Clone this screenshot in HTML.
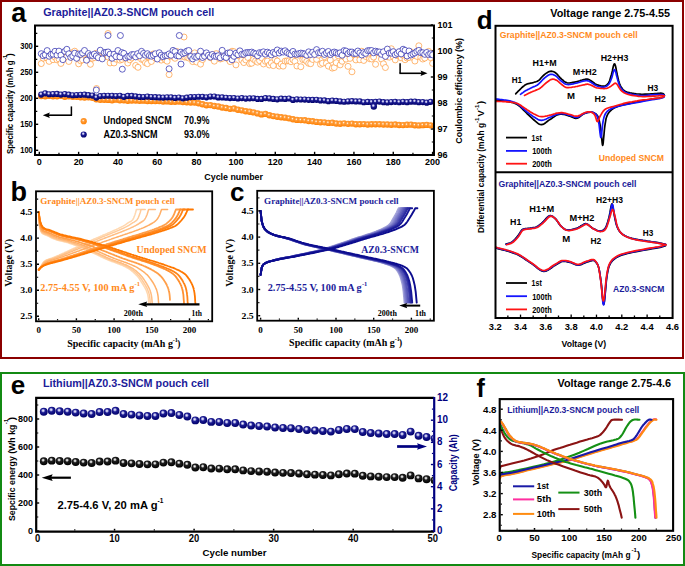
<!DOCTYPE html>
<html><head><meta charset="utf-8"><style>
html,body{margin:0;padding:0;background:#fff;width:685px;height:566px;overflow:hidden}
svg{display:block}
</style></head><body>
<svg width="685" height="566" viewBox="0 0 685 566">
<rect width="685" height="566" fill="#fff"/>
<rect x="1" y="1" width="682" height="357" fill="none" stroke="#8b0000" stroke-width="2"/>
<rect x="1" y="373" width="683" height="192" fill="none" stroke="#138a13" stroke-width="2"/>
<text x="11.30" y="22.20" font-size="27" fill="#000" font-weight="bold" font-family='"Liberation Sans", sans-serif'>a</text>
<text x="10.60" y="201.00" font-size="27" fill="#000" font-weight="bold" font-family='"Liberation Sans", sans-serif'>b</text>
<text x="230.00" y="201.00" font-size="26" fill="#000" font-weight="bold" font-family='"Liberation Sans", sans-serif'>c</text>
<text x="476.80" y="28.90" font-size="26" fill="#000" font-weight="bold" font-family='"Liberation Sans", sans-serif'>d</text>
<text x="10.80" y="394.00" font-size="26" fill="#000" font-weight="bold" font-family='"Liberation Sans", sans-serif'>e</text>
<text x="476.60" y="396.70" font-size="25" fill="#000" font-weight="bold" font-family='"Liberation Sans", sans-serif'>f</text>
<text x="43.20" y="15.80" font-size="11" fill="#1c1c9a" font-weight="bold" font-family='"Liberation Sans", sans-serif' textLength="171.00" lengthAdjust="spacingAndGlyphs">Graphite||AZ0.3-SNCM pouch cell</text>
<line x1="36.00" y1="150.30" x2="38.20" y2="150.30" stroke="#000" stroke-width="1.4"/>
<text x="32.80" y="153.15" font-size="9.8" fill="#000" font-weight="bold" font-family='"Liberation Sans", sans-serif' text-anchor="end" textLength="12.60" lengthAdjust="spacingAndGlyphs">100</text>
<line x1="36.00" y1="124.30" x2="38.20" y2="124.30" stroke="#000" stroke-width="1.4"/>
<text x="32.80" y="127.15" font-size="9.8" fill="#000" font-weight="bold" font-family='"Liberation Sans", sans-serif' text-anchor="end" textLength="12.60" lengthAdjust="spacingAndGlyphs">150</text>
<line x1="36.00" y1="98.30" x2="38.20" y2="98.30" stroke="#000" stroke-width="1.4"/>
<text x="32.80" y="101.15" font-size="9.8" fill="#000" font-weight="bold" font-family='"Liberation Sans", sans-serif' text-anchor="end" textLength="12.60" lengthAdjust="spacingAndGlyphs">200</text>
<line x1="36.00" y1="72.30" x2="38.20" y2="72.30" stroke="#000" stroke-width="1.4"/>
<text x="32.80" y="75.15" font-size="9.8" fill="#000" font-weight="bold" font-family='"Liberation Sans", sans-serif' text-anchor="end" textLength="12.60" lengthAdjust="spacingAndGlyphs">250</text>
<line x1="36.00" y1="46.30" x2="38.20" y2="46.30" stroke="#000" stroke-width="1.4"/>
<text x="32.80" y="49.15" font-size="9.8" fill="#000" font-weight="bold" font-family='"Liberation Sans", sans-serif' text-anchor="end" textLength="12.60" lengthAdjust="spacingAndGlyphs">300</text>
<line x1="36.00" y1="137.30" x2="37.30" y2="137.30" stroke="#000" stroke-width="1.2"/>
<line x1="36.00" y1="111.30" x2="37.30" y2="111.30" stroke="#000" stroke-width="1.2"/>
<line x1="36.00" y1="85.30" x2="37.30" y2="85.30" stroke="#000" stroke-width="1.2"/>
<line x1="36.00" y1="59.30" x2="37.30" y2="59.30" stroke="#000" stroke-width="1.2"/>
<line x1="36.00" y1="33.30" x2="37.30" y2="33.30" stroke="#000" stroke-width="1.2"/>
<line x1="39.30" y1="154.00" x2="39.30" y2="151.80" stroke="#000" stroke-width="1.4"/>
<text x="39.30" y="165.30" font-size="9.4" fill="#000" font-weight="bold" font-family='"Liberation Sans", sans-serif' text-anchor="middle" textLength="5.00" lengthAdjust="spacingAndGlyphs">0</text>
<line x1="78.63" y1="154.00" x2="78.63" y2="151.80" stroke="#000" stroke-width="1.4"/>
<text x="78.63" y="165.30" font-size="9.4" fill="#000" font-weight="bold" font-family='"Liberation Sans", sans-serif' text-anchor="middle" textLength="10.00" lengthAdjust="spacingAndGlyphs">20</text>
<line x1="117.96" y1="154.00" x2="117.96" y2="151.80" stroke="#000" stroke-width="1.4"/>
<text x="117.96" y="165.30" font-size="9.4" fill="#000" font-weight="bold" font-family='"Liberation Sans", sans-serif' text-anchor="middle" textLength="10.00" lengthAdjust="spacingAndGlyphs">40</text>
<line x1="157.29" y1="154.00" x2="157.29" y2="151.80" stroke="#000" stroke-width="1.4"/>
<text x="157.29" y="165.30" font-size="9.4" fill="#000" font-weight="bold" font-family='"Liberation Sans", sans-serif' text-anchor="middle" textLength="10.00" lengthAdjust="spacingAndGlyphs">60</text>
<line x1="196.62" y1="154.00" x2="196.62" y2="151.80" stroke="#000" stroke-width="1.4"/>
<text x="196.62" y="165.30" font-size="9.4" fill="#000" font-weight="bold" font-family='"Liberation Sans", sans-serif' text-anchor="middle" textLength="10.00" lengthAdjust="spacingAndGlyphs">80</text>
<line x1="235.95" y1="154.00" x2="235.95" y2="151.80" stroke="#000" stroke-width="1.4"/>
<text x="235.95" y="165.30" font-size="9.4" fill="#000" font-weight="bold" font-family='"Liberation Sans", sans-serif' text-anchor="middle" textLength="15.00" lengthAdjust="spacingAndGlyphs">100</text>
<line x1="275.28" y1="154.00" x2="275.28" y2="151.80" stroke="#000" stroke-width="1.4"/>
<text x="275.28" y="165.30" font-size="9.4" fill="#000" font-weight="bold" font-family='"Liberation Sans", sans-serif' text-anchor="middle" textLength="15.00" lengthAdjust="spacingAndGlyphs">120</text>
<line x1="314.61" y1="154.00" x2="314.61" y2="151.80" stroke="#000" stroke-width="1.4"/>
<text x="314.61" y="165.30" font-size="9.4" fill="#000" font-weight="bold" font-family='"Liberation Sans", sans-serif' text-anchor="middle" textLength="15.00" lengthAdjust="spacingAndGlyphs">140</text>
<line x1="353.94" y1="154.00" x2="353.94" y2="151.80" stroke="#000" stroke-width="1.4"/>
<text x="353.94" y="165.30" font-size="9.4" fill="#000" font-weight="bold" font-family='"Liberation Sans", sans-serif' text-anchor="middle" textLength="15.00" lengthAdjust="spacingAndGlyphs">160</text>
<line x1="393.27" y1="154.00" x2="393.27" y2="151.80" stroke="#000" stroke-width="1.4"/>
<text x="393.27" y="165.30" font-size="9.4" fill="#000" font-weight="bold" font-family='"Liberation Sans", sans-serif' text-anchor="middle" textLength="15.00" lengthAdjust="spacingAndGlyphs">180</text>
<line x1="432.60" y1="154.00" x2="432.60" y2="151.80" stroke="#000" stroke-width="1.4"/>
<text x="432.60" y="165.30" font-size="9.4" fill="#000" font-weight="bold" font-family='"Liberation Sans", sans-serif' text-anchor="middle" textLength="15.00" lengthAdjust="spacingAndGlyphs">200</text>
<line x1="58.96" y1="154.00" x2="58.96" y2="152.80" stroke="#000" stroke-width="1.2"/>
<line x1="98.29" y1="154.00" x2="98.29" y2="152.80" stroke="#000" stroke-width="1.2"/>
<line x1="137.62" y1="154.00" x2="137.62" y2="152.80" stroke="#000" stroke-width="1.2"/>
<line x1="176.95" y1="154.00" x2="176.95" y2="152.80" stroke="#000" stroke-width="1.2"/>
<line x1="216.28" y1="154.00" x2="216.28" y2="152.80" stroke="#000" stroke-width="1.2"/>
<line x1="255.62" y1="154.00" x2="255.62" y2="152.80" stroke="#000" stroke-width="1.2"/>
<line x1="294.94" y1="154.00" x2="294.94" y2="152.80" stroke="#000" stroke-width="1.2"/>
<line x1="334.27" y1="154.00" x2="334.27" y2="152.80" stroke="#000" stroke-width="1.2"/>
<line x1="373.61" y1="154.00" x2="373.61" y2="152.80" stroke="#000" stroke-width="1.2"/>
<line x1="412.94" y1="154.00" x2="412.94" y2="152.80" stroke="#000" stroke-width="1.2"/>
<line x1="433.00" y1="155.00" x2="430.80" y2="155.00" stroke="#000" stroke-width="1.4"/>
<text x="437.40" y="157.75" font-size="9.6" fill="#000" font-weight="bold" font-family='"Liberation Sans", sans-serif' textLength="10.10" lengthAdjust="spacingAndGlyphs">96</text>
<line x1="433.00" y1="129.00" x2="430.80" y2="129.00" stroke="#000" stroke-width="1.4"/>
<text x="437.40" y="131.75" font-size="9.6" fill="#000" font-weight="bold" font-family='"Liberation Sans", sans-serif' textLength="10.10" lengthAdjust="spacingAndGlyphs">97</text>
<line x1="433.00" y1="103.00" x2="430.80" y2="103.00" stroke="#000" stroke-width="1.4"/>
<text x="437.40" y="105.75" font-size="9.6" fill="#000" font-weight="bold" font-family='"Liberation Sans", sans-serif' textLength="10.10" lengthAdjust="spacingAndGlyphs">98</text>
<line x1="433.00" y1="77.00" x2="430.80" y2="77.00" stroke="#000" stroke-width="1.4"/>
<text x="437.40" y="79.75" font-size="9.6" fill="#000" font-weight="bold" font-family='"Liberation Sans", sans-serif' textLength="10.10" lengthAdjust="spacingAndGlyphs">99</text>
<line x1="433.00" y1="51.00" x2="430.80" y2="51.00" stroke="#000" stroke-width="1.4"/>
<text x="437.40" y="53.75" font-size="9.6" fill="#000" font-weight="bold" font-family='"Liberation Sans", sans-serif' textLength="15.10" lengthAdjust="spacingAndGlyphs">100</text>
<line x1="433.00" y1="25.00" x2="430.80" y2="25.00" stroke="#000" stroke-width="1.4"/>
<text x="437.40" y="27.75" font-size="9.6" fill="#000" font-weight="bold" font-family='"Liberation Sans", sans-serif' textLength="15.10" lengthAdjust="spacingAndGlyphs">101</text>
<line x1="433.00" y1="142.00" x2="431.80" y2="142.00" stroke="#000" stroke-width="1.2"/>
<line x1="433.00" y1="116.00" x2="431.80" y2="116.00" stroke="#000" stroke-width="1.2"/>
<line x1="433.00" y1="90.00" x2="431.80" y2="90.00" stroke="#000" stroke-width="1.2"/>
<line x1="433.00" y1="64.00" x2="431.80" y2="64.00" stroke="#000" stroke-width="1.2"/>
<line x1="433.00" y1="38.00" x2="431.80" y2="38.00" stroke="#000" stroke-width="1.2"/>
<text x="204.30" y="180.40" font-size="9.0" fill="#000" font-weight="bold" font-family='"Liberation Sans", sans-serif' textLength="58.70" lengthAdjust="spacingAndGlyphs">Cycle number</text>
<text x="13.10" y="154.10" font-size="8.6" fill="#000" font-weight="bold" font-family='"Liberation Sans", sans-serif' textLength="93.70" lengthAdjust="spacingAndGlyphs" transform="rotate(-90 13.10 154.10)">Specific capacity (mAh g</text>
<text x="7.50" y="59.80" font-size="5.6" fill="#000" font-weight="bold" font-family='"Liberation Sans", sans-serif' transform="rotate(-90 7.50 59.80)">-1</text>
<text x="12.80" y="56.30" font-size="8.6" fill="#000" font-weight="bold" font-family='"Liberation Sans", sans-serif' transform="rotate(-90 12.80 56.30)">)</text>
<text x="462.20" y="143.70" font-size="9.5" fill="#000" font-weight="bold" font-family='"Liberation Sans", sans-serif' textLength="105.60" lengthAdjust="spacingAndGlyphs" transform="rotate(-90 462.20 143.70)">Coulombic efficiency (%)</text>
<text x="103.40" y="123.50" font-size="10.0" fill="#000" font-weight="bold" font-family='"Liberation Sans", sans-serif' textLength="68.30" lengthAdjust="spacingAndGlyphs">Undoped SNCM</text>
<text x="103.40" y="137.90" font-size="10.0" fill="#000" font-weight="bold" font-family='"Liberation Sans", sans-serif' textLength="54.20" lengthAdjust="spacingAndGlyphs">AZ0.3-SNCM</text>
<text x="184.10" y="123.70" font-size="10.0" fill="#000" font-weight="bold" font-family='"Liberation Sans", sans-serif' textLength="25.50" lengthAdjust="spacingAndGlyphs">70.9%</text>
<text x="184.10" y="138.30" font-size="10.0" fill="#000" font-weight="bold" font-family='"Liberation Sans", sans-serif' textLength="25.50" lengthAdjust="spacingAndGlyphs">93.0%</text>
<line x1="71.40" y1="106.40" x2="71.40" y2="115.20" stroke="#000" stroke-width="1.5"/>
<line x1="72.10" y1="115.20" x2="47.00" y2="115.20" stroke="#000" stroke-width="1.6"/>
<path d="M42.80,115.20 L49.80,112.40 L48.75,115.20 L49.80,118.00 Z" fill="#000"/>
<line x1="400.10" y1="63.30" x2="400.10" y2="73.30" stroke="#000" stroke-width="1.5"/>
<line x1="399.40" y1="73.30" x2="423.30" y2="73.30" stroke="#000" stroke-width="1.6"/>
<path d="M427.50,73.30 L420.50,70.50 L421.55,73.30 L420.50,76.10 Z" fill="#000"/>
<defs>
<radialGradient id="gO" cx="0.42" cy="0.4" r="0.6"><stop offset="0" stop-color="#fff"/><stop offset="0.3" stop-color="#ffa040"/><stop offset="1" stop-color="#ff7f00"/></radialGradient>
<radialGradient id="gN" cx="0.42" cy="0.36" r="0.64"><stop offset="0" stop-color="#f4f4ff"/><stop offset="0.18" stop-color="#b8b8e8"/><stop offset="0.42" stop-color="#1c1c92"/><stop offset="1" stop-color="#00006a"/></radialGradient>
<radialGradient id="gK" cx="0.42" cy="0.36" r="0.64"><stop offset="0" stop-color="#ffffff"/><stop offset="0.16" stop-color="#c4c4c4"/><stop offset="0.38" stop-color="#1e1e1e"/><stop offset="1" stop-color="#000"/></radialGradient>
<clipPath id="ca"><rect x="36" y="26.5" width="397" height="127.5"/></clipPath>
</defs>
<g clip-path="url(#ca)">
<circle cx="41.27" cy="63.58" r="3.0" fill="#fff" stroke="#ff9a3a" stroke-width="0.7"/>
<circle cx="43.23" cy="58.11" r="3.0" fill="#fff" stroke="#ff9a3a" stroke-width="0.7"/>
<circle cx="45.20" cy="55.40" r="3.0" fill="#fff" stroke="#ff9a3a" stroke-width="0.7"/>
<circle cx="47.17" cy="58.00" r="3.0" fill="#fff" stroke="#ff9a3a" stroke-width="0.7"/>
<circle cx="49.13" cy="61.36" r="3.0" fill="#fff" stroke="#ff9a3a" stroke-width="0.7"/>
<circle cx="51.10" cy="55.94" r="3.0" fill="#fff" stroke="#ff9a3a" stroke-width="0.7"/>
<circle cx="53.07" cy="59.67" r="3.0" fill="#fff" stroke="#ff9a3a" stroke-width="0.7"/>
<circle cx="55.03" cy="57.20" r="3.0" fill="#fff" stroke="#ff9a3a" stroke-width="0.7"/>
<circle cx="57.00" cy="59.83" r="3.0" fill="#fff" stroke="#ff9a3a" stroke-width="0.7"/>
<circle cx="58.96" cy="58.91" r="3.0" fill="#fff" stroke="#ff9a3a" stroke-width="0.7"/>
<circle cx="60.93" cy="63.45" r="3.0" fill="#fff" stroke="#ff9a3a" stroke-width="0.7"/>
<circle cx="62.90" cy="56.72" r="3.0" fill="#fff" stroke="#ff9a3a" stroke-width="0.7"/>
<circle cx="64.86" cy="57.85" r="3.0" fill="#fff" stroke="#ff9a3a" stroke-width="0.7"/>
<circle cx="66.83" cy="56.66" r="3.0" fill="#fff" stroke="#ff9a3a" stroke-width="0.7"/>
<circle cx="68.80" cy="61.46" r="3.0" fill="#fff" stroke="#ff9a3a" stroke-width="0.7"/>
<circle cx="70.76" cy="55.55" r="3.0" fill="#fff" stroke="#ff9a3a" stroke-width="0.7"/>
<circle cx="72.73" cy="52.55" r="3.0" fill="#fff" stroke="#ff9a3a" stroke-width="0.7"/>
<circle cx="74.70" cy="51.19" r="3.0" fill="#fff" stroke="#ff9a3a" stroke-width="0.7"/>
<circle cx="76.66" cy="54.03" r="3.0" fill="#fff" stroke="#ff9a3a" stroke-width="0.7"/>
<circle cx="78.63" cy="63.83" r="3.0" fill="#fff" stroke="#ff9a3a" stroke-width="0.7"/>
<circle cx="80.60" cy="60.77" r="3.0" fill="#fff" stroke="#ff9a3a" stroke-width="0.7"/>
<circle cx="82.56" cy="59.87" r="3.0" fill="#fff" stroke="#ff9a3a" stroke-width="0.7"/>
<circle cx="84.53" cy="52.36" r="3.0" fill="#fff" stroke="#ff9a3a" stroke-width="0.7"/>
<circle cx="86.50" cy="59.26" r="3.0" fill="#fff" stroke="#ff9a3a" stroke-width="0.7"/>
<circle cx="88.46" cy="58.89" r="3.0" fill="#fff" stroke="#ff9a3a" stroke-width="0.7"/>
<circle cx="90.43" cy="64.31" r="3.0" fill="#fff" stroke="#ff9a3a" stroke-width="0.7"/>
<circle cx="92.40" cy="58.33" r="3.0" fill="#fff" stroke="#ff9a3a" stroke-width="0.7"/>
<circle cx="94.36" cy="57.56" r="3.0" fill="#fff" stroke="#ff9a3a" stroke-width="0.7"/>
<circle cx="96.33" cy="53.26" r="3.0" fill="#fff" stroke="#ff9a3a" stroke-width="0.7"/>
<circle cx="98.29" cy="57.69" r="3.0" fill="#fff" stroke="#ff9a3a" stroke-width="0.7"/>
<circle cx="100.26" cy="56.78" r="3.0" fill="#fff" stroke="#ff9a3a" stroke-width="0.7"/>
<circle cx="102.23" cy="57.67" r="3.0" fill="#fff" stroke="#ff9a3a" stroke-width="0.7"/>
<circle cx="104.19" cy="56.73" r="3.0" fill="#fff" stroke="#ff9a3a" stroke-width="0.7"/>
<circle cx="106.16" cy="54.06" r="3.0" fill="#fff" stroke="#ff9a3a" stroke-width="0.7"/>
<circle cx="108.13" cy="57.01" r="3.0" fill="#fff" stroke="#ff9a3a" stroke-width="0.7"/>
<circle cx="110.09" cy="62.94" r="3.0" fill="#fff" stroke="#ff9a3a" stroke-width="0.7"/>
<circle cx="112.06" cy="58.36" r="3.0" fill="#fff" stroke="#ff9a3a" stroke-width="0.7"/>
<circle cx="114.03" cy="62.96" r="3.0" fill="#fff" stroke="#ff9a3a" stroke-width="0.7"/>
<circle cx="115.99" cy="59.10" r="3.0" fill="#fff" stroke="#ff9a3a" stroke-width="0.7"/>
<circle cx="117.96" cy="57.36" r="3.0" fill="#fff" stroke="#ff9a3a" stroke-width="0.7"/>
<circle cx="119.93" cy="60.16" r="3.0" fill="#fff" stroke="#ff9a3a" stroke-width="0.7"/>
<circle cx="121.89" cy="59.37" r="3.0" fill="#fff" stroke="#ff9a3a" stroke-width="0.7"/>
<circle cx="123.86" cy="57.35" r="3.0" fill="#fff" stroke="#ff9a3a" stroke-width="0.7"/>
<circle cx="125.83" cy="57.01" r="3.0" fill="#fff" stroke="#ff9a3a" stroke-width="0.7"/>
<circle cx="127.79" cy="63.05" r="3.0" fill="#fff" stroke="#ff9a3a" stroke-width="0.7"/>
<circle cx="129.76" cy="59.81" r="3.0" fill="#fff" stroke="#ff9a3a" stroke-width="0.7"/>
<circle cx="131.73" cy="57.96" r="3.0" fill="#fff" stroke="#ff9a3a" stroke-width="0.7"/>
<circle cx="133.69" cy="55.78" r="3.0" fill="#fff" stroke="#ff9a3a" stroke-width="0.7"/>
<circle cx="135.66" cy="65.46" r="3.0" fill="#fff" stroke="#ff9a3a" stroke-width="0.7"/>
<circle cx="137.62" cy="56.87" r="3.0" fill="#fff" stroke="#ff9a3a" stroke-width="0.7"/>
<circle cx="139.59" cy="55.15" r="3.0" fill="#fff" stroke="#ff9a3a" stroke-width="0.7"/>
<circle cx="141.56" cy="59.29" r="3.0" fill="#fff" stroke="#ff9a3a" stroke-width="0.7"/>
<circle cx="143.52" cy="59.60" r="3.0" fill="#fff" stroke="#ff9a3a" stroke-width="0.7"/>
<circle cx="145.49" cy="62.71" r="3.0" fill="#fff" stroke="#ff9a3a" stroke-width="0.7"/>
<circle cx="147.46" cy="63.67" r="3.0" fill="#fff" stroke="#ff9a3a" stroke-width="0.7"/>
<circle cx="149.42" cy="57.05" r="3.0" fill="#fff" stroke="#ff9a3a" stroke-width="0.7"/>
<circle cx="151.39" cy="61.48" r="3.0" fill="#fff" stroke="#ff9a3a" stroke-width="0.7"/>
<circle cx="153.36" cy="53.93" r="3.0" fill="#fff" stroke="#ff9a3a" stroke-width="0.7"/>
<circle cx="155.32" cy="58.07" r="3.0" fill="#fff" stroke="#ff9a3a" stroke-width="0.7"/>
<circle cx="157.29" cy="55.86" r="3.0" fill="#fff" stroke="#ff9a3a" stroke-width="0.7"/>
<circle cx="159.26" cy="56.71" r="3.0" fill="#fff" stroke="#ff9a3a" stroke-width="0.7"/>
<circle cx="161.22" cy="60.10" r="3.0" fill="#fff" stroke="#ff9a3a" stroke-width="0.7"/>
<circle cx="163.19" cy="57.75" r="3.0" fill="#fff" stroke="#ff9a3a" stroke-width="0.7"/>
<circle cx="165.16" cy="59.61" r="3.0" fill="#fff" stroke="#ff9a3a" stroke-width="0.7"/>
<circle cx="167.12" cy="61.18" r="3.0" fill="#fff" stroke="#ff9a3a" stroke-width="0.7"/>
<circle cx="169.09" cy="55.96" r="3.0" fill="#fff" stroke="#ff9a3a" stroke-width="0.7"/>
<circle cx="171.06" cy="56.28" r="3.0" fill="#fff" stroke="#ff9a3a" stroke-width="0.7"/>
<circle cx="173.02" cy="54.44" r="3.0" fill="#fff" stroke="#ff9a3a" stroke-width="0.7"/>
<circle cx="174.99" cy="58.29" r="3.0" fill="#fff" stroke="#ff9a3a" stroke-width="0.7"/>
<circle cx="176.95" cy="51.56" r="3.0" fill="#fff" stroke="#ff9a3a" stroke-width="0.7"/>
<circle cx="178.92" cy="55.65" r="3.0" fill="#fff" stroke="#ff9a3a" stroke-width="0.7"/>
<circle cx="180.89" cy="56.25" r="3.0" fill="#fff" stroke="#ff9a3a" stroke-width="0.7"/>
<circle cx="182.85" cy="53.90" r="3.0" fill="#fff" stroke="#ff9a3a" stroke-width="0.7"/>
<circle cx="184.82" cy="57.10" r="3.0" fill="#fff" stroke="#ff9a3a" stroke-width="0.7"/>
<circle cx="186.79" cy="57.07" r="3.0" fill="#fff" stroke="#ff9a3a" stroke-width="0.7"/>
<circle cx="188.75" cy="58.05" r="3.0" fill="#fff" stroke="#ff9a3a" stroke-width="0.7"/>
<circle cx="190.72" cy="57.36" r="3.0" fill="#fff" stroke="#ff9a3a" stroke-width="0.7"/>
<circle cx="192.69" cy="61.60" r="3.0" fill="#fff" stroke="#ff9a3a" stroke-width="0.7"/>
<circle cx="194.65" cy="52.86" r="3.0" fill="#fff" stroke="#ff9a3a" stroke-width="0.7"/>
<circle cx="196.62" cy="61.98" r="3.0" fill="#fff" stroke="#ff9a3a" stroke-width="0.7"/>
<circle cx="198.59" cy="54.93" r="3.0" fill="#fff" stroke="#ff9a3a" stroke-width="0.7"/>
<circle cx="200.55" cy="64.14" r="3.0" fill="#fff" stroke="#ff9a3a" stroke-width="0.7"/>
<circle cx="202.52" cy="59.57" r="3.0" fill="#fff" stroke="#ff9a3a" stroke-width="0.7"/>
<circle cx="204.49" cy="55.70" r="3.0" fill="#fff" stroke="#ff9a3a" stroke-width="0.7"/>
<circle cx="206.45" cy="54.47" r="3.0" fill="#fff" stroke="#ff9a3a" stroke-width="0.7"/>
<circle cx="208.42" cy="55.30" r="3.0" fill="#fff" stroke="#ff9a3a" stroke-width="0.7"/>
<circle cx="210.39" cy="57.70" r="3.0" fill="#fff" stroke="#ff9a3a" stroke-width="0.7"/>
<circle cx="212.35" cy="54.90" r="3.0" fill="#fff" stroke="#ff9a3a" stroke-width="0.7"/>
<circle cx="214.32" cy="61.17" r="3.0" fill="#fff" stroke="#ff9a3a" stroke-width="0.7"/>
<circle cx="216.28" cy="53.63" r="3.0" fill="#fff" stroke="#ff9a3a" stroke-width="0.7"/>
<circle cx="218.25" cy="56.42" r="3.0" fill="#fff" stroke="#ff9a3a" stroke-width="0.7"/>
<circle cx="220.22" cy="58.99" r="3.0" fill="#fff" stroke="#ff9a3a" stroke-width="0.7"/>
<circle cx="222.18" cy="58.38" r="3.0" fill="#fff" stroke="#ff9a3a" stroke-width="0.7"/>
<circle cx="224.15" cy="53.48" r="3.0" fill="#fff" stroke="#ff9a3a" stroke-width="0.7"/>
<circle cx="226.12" cy="57.15" r="3.0" fill="#fff" stroke="#ff9a3a" stroke-width="0.7"/>
<circle cx="228.08" cy="58.90" r="3.0" fill="#fff" stroke="#ff9a3a" stroke-width="0.7"/>
<circle cx="230.05" cy="61.57" r="3.0" fill="#fff" stroke="#ff9a3a" stroke-width="0.7"/>
<circle cx="232.02" cy="51.23" r="3.0" fill="#fff" stroke="#ff9a3a" stroke-width="0.7"/>
<circle cx="233.98" cy="51.69" r="3.0" fill="#fff" stroke="#ff9a3a" stroke-width="0.7"/>
<circle cx="235.95" cy="64.88" r="3.0" fill="#fff" stroke="#ff9a3a" stroke-width="0.7"/>
<circle cx="237.92" cy="55.44" r="3.0" fill="#fff" stroke="#ff9a3a" stroke-width="0.7"/>
<circle cx="239.88" cy="56.31" r="3.0" fill="#fff" stroke="#ff9a3a" stroke-width="0.7"/>
<circle cx="241.85" cy="60.20" r="3.0" fill="#fff" stroke="#ff9a3a" stroke-width="0.7"/>
<circle cx="243.82" cy="62.58" r="3.0" fill="#fff" stroke="#ff9a3a" stroke-width="0.7"/>
<circle cx="245.78" cy="59.90" r="3.0" fill="#fff" stroke="#ff9a3a" stroke-width="0.7"/>
<circle cx="247.75" cy="57.41" r="3.0" fill="#fff" stroke="#ff9a3a" stroke-width="0.7"/>
<circle cx="249.72" cy="63.64" r="3.0" fill="#fff" stroke="#ff9a3a" stroke-width="0.7"/>
<circle cx="251.68" cy="63.21" r="3.0" fill="#fff" stroke="#ff9a3a" stroke-width="0.7"/>
<circle cx="253.65" cy="59.37" r="3.0" fill="#fff" stroke="#ff9a3a" stroke-width="0.7"/>
<circle cx="255.62" cy="60.80" r="3.0" fill="#fff" stroke="#ff9a3a" stroke-width="0.7"/>
<circle cx="257.58" cy="62.14" r="3.0" fill="#fff" stroke="#ff9a3a" stroke-width="0.7"/>
<circle cx="259.55" cy="60.71" r="3.0" fill="#fff" stroke="#ff9a3a" stroke-width="0.7"/>
<circle cx="261.51" cy="57.76" r="3.0" fill="#fff" stroke="#ff9a3a" stroke-width="0.7"/>
<circle cx="263.48" cy="63.96" r="3.0" fill="#fff" stroke="#ff9a3a" stroke-width="0.7"/>
<circle cx="265.45" cy="61.32" r="3.0" fill="#fff" stroke="#ff9a3a" stroke-width="0.7"/>
<circle cx="267.41" cy="61.04" r="3.0" fill="#fff" stroke="#ff9a3a" stroke-width="0.7"/>
<circle cx="269.38" cy="65.00" r="3.0" fill="#fff" stroke="#ff9a3a" stroke-width="0.7"/>
<circle cx="271.35" cy="62.93" r="3.0" fill="#fff" stroke="#ff9a3a" stroke-width="0.7"/>
<circle cx="273.31" cy="65.62" r="3.0" fill="#fff" stroke="#ff9a3a" stroke-width="0.7"/>
<circle cx="275.28" cy="59.61" r="3.0" fill="#fff" stroke="#ff9a3a" stroke-width="0.7"/>
<circle cx="277.25" cy="61.02" r="3.0" fill="#fff" stroke="#ff9a3a" stroke-width="0.7"/>
<circle cx="279.21" cy="66.09" r="3.0" fill="#fff" stroke="#ff9a3a" stroke-width="0.7"/>
<circle cx="281.18" cy="64.15" r="3.0" fill="#fff" stroke="#ff9a3a" stroke-width="0.7"/>
<circle cx="283.15" cy="66.14" r="3.0" fill="#fff" stroke="#ff9a3a" stroke-width="0.7"/>
<circle cx="285.11" cy="61.11" r="3.0" fill="#fff" stroke="#ff9a3a" stroke-width="0.7"/>
<circle cx="287.08" cy="60.90" r="3.0" fill="#fff" stroke="#ff9a3a" stroke-width="0.7"/>
<circle cx="289.05" cy="60.83" r="3.0" fill="#fff" stroke="#ff9a3a" stroke-width="0.7"/>
<circle cx="291.01" cy="61.72" r="3.0" fill="#fff" stroke="#ff9a3a" stroke-width="0.7"/>
<circle cx="292.98" cy="59.81" r="3.0" fill="#fff" stroke="#ff9a3a" stroke-width="0.7"/>
<circle cx="294.94" cy="61.43" r="3.0" fill="#fff" stroke="#ff9a3a" stroke-width="0.7"/>
<circle cx="296.91" cy="65.98" r="3.0" fill="#fff" stroke="#ff9a3a" stroke-width="0.7"/>
<circle cx="298.88" cy="55.14" r="3.0" fill="#fff" stroke="#ff9a3a" stroke-width="0.7"/>
<circle cx="300.84" cy="66.76" r="3.0" fill="#fff" stroke="#ff9a3a" stroke-width="0.7"/>
<circle cx="302.81" cy="59.64" r="3.0" fill="#fff" stroke="#ff9a3a" stroke-width="0.7"/>
<circle cx="304.78" cy="59.69" r="3.0" fill="#fff" stroke="#ff9a3a" stroke-width="0.7"/>
<circle cx="306.74" cy="61.45" r="3.0" fill="#fff" stroke="#ff9a3a" stroke-width="0.7"/>
<circle cx="308.71" cy="63.30" r="3.0" fill="#fff" stroke="#ff9a3a" stroke-width="0.7"/>
<circle cx="310.68" cy="63.68" r="3.0" fill="#fff" stroke="#ff9a3a" stroke-width="0.7"/>
<circle cx="312.64" cy="59.45" r="3.0" fill="#fff" stroke="#ff9a3a" stroke-width="0.7"/>
<circle cx="314.61" cy="53.20" r="3.0" fill="#fff" stroke="#ff9a3a" stroke-width="0.7"/>
<circle cx="316.58" cy="59.38" r="3.0" fill="#fff" stroke="#ff9a3a" stroke-width="0.7"/>
<circle cx="318.54" cy="55.13" r="3.0" fill="#fff" stroke="#ff9a3a" stroke-width="0.7"/>
<circle cx="320.51" cy="64.24" r="3.0" fill="#fff" stroke="#ff9a3a" stroke-width="0.7"/>
<circle cx="322.48" cy="63.20" r="3.0" fill="#fff" stroke="#ff9a3a" stroke-width="0.7"/>
<circle cx="324.44" cy="56.67" r="3.0" fill="#fff" stroke="#ff9a3a" stroke-width="0.7"/>
<circle cx="326.41" cy="63.27" r="3.0" fill="#fff" stroke="#ff9a3a" stroke-width="0.7"/>
<circle cx="328.38" cy="66.12" r="3.0" fill="#fff" stroke="#ff9a3a" stroke-width="0.7"/>
<circle cx="330.34" cy="59.99" r="3.0" fill="#fff" stroke="#ff9a3a" stroke-width="0.7"/>
<circle cx="332.31" cy="68.12" r="3.0" fill="#fff" stroke="#ff9a3a" stroke-width="0.7"/>
<circle cx="334.27" cy="67.55" r="3.0" fill="#fff" stroke="#ff9a3a" stroke-width="0.7"/>
<circle cx="336.24" cy="62.69" r="3.0" fill="#fff" stroke="#ff9a3a" stroke-width="0.7"/>
<circle cx="338.21" cy="55.78" r="3.0" fill="#fff" stroke="#ff9a3a" stroke-width="0.7"/>
<circle cx="340.17" cy="64.86" r="3.0" fill="#fff" stroke="#ff9a3a" stroke-width="0.7"/>
<circle cx="342.14" cy="61.25" r="3.0" fill="#fff" stroke="#ff9a3a" stroke-width="0.7"/>
<circle cx="344.11" cy="57.00" r="3.0" fill="#fff" stroke="#ff9a3a" stroke-width="0.7"/>
<circle cx="346.07" cy="59.15" r="3.0" fill="#fff" stroke="#ff9a3a" stroke-width="0.7"/>
<circle cx="348.04" cy="66.35" r="3.0" fill="#fff" stroke="#ff9a3a" stroke-width="0.7"/>
<circle cx="350.01" cy="58.39" r="3.0" fill="#fff" stroke="#ff9a3a" stroke-width="0.7"/>
<circle cx="351.97" cy="71.80" r="3.0" fill="#fff" stroke="#ff9a3a" stroke-width="0.7"/>
<circle cx="353.94" cy="54.60" r="3.0" fill="#fff" stroke="#ff9a3a" stroke-width="0.7"/>
<circle cx="355.91" cy="59.93" r="3.0" fill="#fff" stroke="#ff9a3a" stroke-width="0.7"/>
<circle cx="357.87" cy="54.05" r="3.0" fill="#fff" stroke="#ff9a3a" stroke-width="0.7"/>
<circle cx="359.84" cy="59.77" r="3.0" fill="#fff" stroke="#ff9a3a" stroke-width="0.7"/>
<circle cx="361.81" cy="51.26" r="3.0" fill="#fff" stroke="#ff9a3a" stroke-width="0.7"/>
<circle cx="363.77" cy="60.45" r="3.0" fill="#fff" stroke="#ff9a3a" stroke-width="0.7"/>
<circle cx="365.74" cy="56.51" r="3.0" fill="#fff" stroke="#ff9a3a" stroke-width="0.7"/>
<circle cx="367.71" cy="54.89" r="3.0" fill="#fff" stroke="#ff9a3a" stroke-width="0.7"/>
<circle cx="369.67" cy="58.73" r="3.0" fill="#fff" stroke="#ff9a3a" stroke-width="0.7"/>
<circle cx="371.64" cy="58.98" r="3.0" fill="#fff" stroke="#ff9a3a" stroke-width="0.7"/>
<circle cx="373.61" cy="57.12" r="3.0" fill="#fff" stroke="#ff9a3a" stroke-width="0.7"/>
<circle cx="375.57" cy="64.27" r="3.0" fill="#fff" stroke="#ff9a3a" stroke-width="0.7"/>
<circle cx="377.54" cy="52.12" r="3.0" fill="#fff" stroke="#ff9a3a" stroke-width="0.7"/>
<circle cx="379.50" cy="53.23" r="3.0" fill="#fff" stroke="#ff9a3a" stroke-width="0.7"/>
<circle cx="381.47" cy="59.10" r="3.0" fill="#fff" stroke="#ff9a3a" stroke-width="0.7"/>
<circle cx="383.44" cy="63.81" r="3.0" fill="#fff" stroke="#ff9a3a" stroke-width="0.7"/>
<circle cx="385.40" cy="67.53" r="3.0" fill="#fff" stroke="#ff9a3a" stroke-width="0.7"/>
<circle cx="387.37" cy="56.73" r="3.0" fill="#fff" stroke="#ff9a3a" stroke-width="0.7"/>
<circle cx="389.34" cy="57.18" r="3.0" fill="#fff" stroke="#ff9a3a" stroke-width="0.7"/>
<circle cx="391.30" cy="48.76" r="3.0" fill="#fff" stroke="#ff9a3a" stroke-width="0.7"/>
<circle cx="393.27" cy="56.74" r="3.0" fill="#fff" stroke="#ff9a3a" stroke-width="0.7"/>
<circle cx="395.24" cy="59.88" r="3.0" fill="#fff" stroke="#ff9a3a" stroke-width="0.7"/>
<circle cx="397.20" cy="55.65" r="3.0" fill="#fff" stroke="#ff9a3a" stroke-width="0.7"/>
<circle cx="399.17" cy="55.01" r="3.0" fill="#fff" stroke="#ff9a3a" stroke-width="0.7"/>
<circle cx="401.14" cy="57.80" r="3.0" fill="#fff" stroke="#ff9a3a" stroke-width="0.7"/>
<circle cx="403.10" cy="55.36" r="3.0" fill="#fff" stroke="#ff9a3a" stroke-width="0.7"/>
<circle cx="405.07" cy="59.73" r="3.0" fill="#fff" stroke="#ff9a3a" stroke-width="0.7"/>
<circle cx="407.04" cy="57.96" r="3.0" fill="#fff" stroke="#ff9a3a" stroke-width="0.7"/>
<circle cx="409.00" cy="57.44" r="3.0" fill="#fff" stroke="#ff9a3a" stroke-width="0.7"/>
<circle cx="410.97" cy="51.95" r="3.0" fill="#fff" stroke="#ff9a3a" stroke-width="0.7"/>
<circle cx="412.94" cy="57.44" r="3.0" fill="#fff" stroke="#ff9a3a" stroke-width="0.7"/>
<circle cx="414.90" cy="61.02" r="3.0" fill="#fff" stroke="#ff9a3a" stroke-width="0.7"/>
<circle cx="416.87" cy="56.33" r="3.0" fill="#fff" stroke="#ff9a3a" stroke-width="0.7"/>
<circle cx="418.83" cy="45.79" r="3.0" fill="#fff" stroke="#ff9a3a" stroke-width="0.7"/>
<circle cx="420.80" cy="57.24" r="3.0" fill="#fff" stroke="#ff9a3a" stroke-width="0.7"/>
<circle cx="422.77" cy="59.03" r="3.0" fill="#fff" stroke="#ff9a3a" stroke-width="0.7"/>
<circle cx="424.73" cy="58.11" r="3.0" fill="#fff" stroke="#ff9a3a" stroke-width="0.7"/>
<circle cx="426.70" cy="54.14" r="3.0" fill="#fff" stroke="#ff9a3a" stroke-width="0.7"/>
<circle cx="428.67" cy="51.39" r="3.0" fill="#fff" stroke="#ff9a3a" stroke-width="0.7"/>
<circle cx="430.63" cy="57.65" r="3.0" fill="#fff" stroke="#ff9a3a" stroke-width="0.7"/>
<circle cx="432.60" cy="63.36" r="3.0" fill="#fff" stroke="#ff9a3a" stroke-width="0.7"/>
<circle cx="108.00" cy="33.50" r="3.0" fill="#fff" stroke="#ff9a3a" stroke-width="0.7"/>
<circle cx="138.00" cy="67.30" r="3.0" fill="#fff" stroke="#ff9a3a" stroke-width="0.7"/>
<circle cx="169.10" cy="74.60" r="3.0" fill="#fff" stroke="#ff9a3a" stroke-width="0.7"/>
<circle cx="184.00" cy="37.00" r="3.0" fill="#fff" stroke="#ff9a3a" stroke-width="0.7"/>
<circle cx="96.50" cy="88.50" r="3.0" fill="#fff" stroke="#ff9a3a" stroke-width="0.7"/>
<circle cx="41.27" cy="53.68" r="3.0" fill="#fff" stroke="#3030b0" stroke-width="0.75"/>
<circle cx="43.23" cy="55.78" r="3.0" fill="#fff" stroke="#3030b0" stroke-width="0.75"/>
<circle cx="45.20" cy="54.80" r="3.0" fill="#fff" stroke="#3030b0" stroke-width="0.75"/>
<circle cx="47.17" cy="50.59" r="3.0" fill="#fff" stroke="#3030b0" stroke-width="0.75"/>
<circle cx="49.13" cy="56.24" r="3.0" fill="#fff" stroke="#3030b0" stroke-width="0.75"/>
<circle cx="51.10" cy="54.39" r="3.0" fill="#fff" stroke="#3030b0" stroke-width="0.75"/>
<circle cx="53.07" cy="54.17" r="3.0" fill="#fff" stroke="#3030b0" stroke-width="0.75"/>
<circle cx="55.03" cy="51.31" r="3.0" fill="#fff" stroke="#3030b0" stroke-width="0.75"/>
<circle cx="57.00" cy="55.10" r="3.0" fill="#fff" stroke="#3030b0" stroke-width="0.75"/>
<circle cx="58.96" cy="51.14" r="3.0" fill="#fff" stroke="#3030b0" stroke-width="0.75"/>
<circle cx="60.93" cy="55.17" r="3.0" fill="#fff" stroke="#3030b0" stroke-width="0.75"/>
<circle cx="62.90" cy="59.67" r="3.0" fill="#fff" stroke="#3030b0" stroke-width="0.75"/>
<circle cx="64.86" cy="51.32" r="3.0" fill="#fff" stroke="#3030b0" stroke-width="0.75"/>
<circle cx="66.83" cy="49.31" r="3.0" fill="#fff" stroke="#3030b0" stroke-width="0.75"/>
<circle cx="68.80" cy="53.80" r="3.0" fill="#fff" stroke="#3030b0" stroke-width="0.75"/>
<circle cx="70.76" cy="57.37" r="3.0" fill="#fff" stroke="#3030b0" stroke-width="0.75"/>
<circle cx="72.73" cy="56.09" r="3.0" fill="#fff" stroke="#3030b0" stroke-width="0.75"/>
<circle cx="74.70" cy="53.21" r="3.0" fill="#fff" stroke="#3030b0" stroke-width="0.75"/>
<circle cx="76.66" cy="58.31" r="3.0" fill="#fff" stroke="#3030b0" stroke-width="0.75"/>
<circle cx="78.63" cy="54.01" r="3.0" fill="#fff" stroke="#3030b0" stroke-width="0.75"/>
<circle cx="80.60" cy="54.37" r="3.0" fill="#fff" stroke="#3030b0" stroke-width="0.75"/>
<circle cx="82.56" cy="52.99" r="3.0" fill="#fff" stroke="#3030b0" stroke-width="0.75"/>
<circle cx="84.53" cy="50.47" r="3.0" fill="#fff" stroke="#3030b0" stroke-width="0.75"/>
<circle cx="86.50" cy="60.19" r="3.0" fill="#fff" stroke="#3030b0" stroke-width="0.75"/>
<circle cx="88.46" cy="53.54" r="3.0" fill="#fff" stroke="#3030b0" stroke-width="0.75"/>
<circle cx="90.43" cy="55.37" r="3.0" fill="#fff" stroke="#3030b0" stroke-width="0.75"/>
<circle cx="92.40" cy="55.41" r="3.0" fill="#fff" stroke="#3030b0" stroke-width="0.75"/>
<circle cx="94.36" cy="54.06" r="3.0" fill="#fff" stroke="#3030b0" stroke-width="0.75"/>
<circle cx="96.33" cy="56.00" r="3.0" fill="#fff" stroke="#3030b0" stroke-width="0.75"/>
<circle cx="98.29" cy="57.66" r="3.0" fill="#fff" stroke="#3030b0" stroke-width="0.75"/>
<circle cx="100.26" cy="50.22" r="3.0" fill="#fff" stroke="#3030b0" stroke-width="0.75"/>
<circle cx="102.23" cy="58.88" r="3.0" fill="#fff" stroke="#3030b0" stroke-width="0.75"/>
<circle cx="104.19" cy="52.66" r="3.0" fill="#fff" stroke="#3030b0" stroke-width="0.75"/>
<circle cx="106.16" cy="52.28" r="3.0" fill="#fff" stroke="#3030b0" stroke-width="0.75"/>
<circle cx="108.13" cy="51.97" r="3.0" fill="#fff" stroke="#3030b0" stroke-width="0.75"/>
<circle cx="110.09" cy="54.12" r="3.0" fill="#fff" stroke="#3030b0" stroke-width="0.75"/>
<circle cx="112.06" cy="58.25" r="3.0" fill="#fff" stroke="#3030b0" stroke-width="0.75"/>
<circle cx="114.03" cy="54.29" r="3.0" fill="#fff" stroke="#3030b0" stroke-width="0.75"/>
<circle cx="115.99" cy="56.56" r="3.0" fill="#fff" stroke="#3030b0" stroke-width="0.75"/>
<circle cx="117.96" cy="50.53" r="3.0" fill="#fff" stroke="#3030b0" stroke-width="0.75"/>
<circle cx="119.93" cy="56.95" r="3.0" fill="#fff" stroke="#3030b0" stroke-width="0.75"/>
<circle cx="121.89" cy="52.58" r="3.0" fill="#fff" stroke="#3030b0" stroke-width="0.75"/>
<circle cx="123.86" cy="53.38" r="3.0" fill="#fff" stroke="#3030b0" stroke-width="0.75"/>
<circle cx="125.83" cy="57.91" r="3.0" fill="#fff" stroke="#3030b0" stroke-width="0.75"/>
<circle cx="127.79" cy="56.41" r="3.0" fill="#fff" stroke="#3030b0" stroke-width="0.75"/>
<circle cx="129.76" cy="56.42" r="3.0" fill="#fff" stroke="#3030b0" stroke-width="0.75"/>
<circle cx="131.73" cy="54.62" r="3.0" fill="#fff" stroke="#3030b0" stroke-width="0.75"/>
<circle cx="133.69" cy="54.67" r="3.0" fill="#fff" stroke="#3030b0" stroke-width="0.75"/>
<circle cx="135.66" cy="56.89" r="3.0" fill="#fff" stroke="#3030b0" stroke-width="0.75"/>
<circle cx="137.62" cy="53.67" r="3.0" fill="#fff" stroke="#3030b0" stroke-width="0.75"/>
<circle cx="139.59" cy="55.70" r="3.0" fill="#fff" stroke="#3030b0" stroke-width="0.75"/>
<circle cx="141.56" cy="51.34" r="3.0" fill="#fff" stroke="#3030b0" stroke-width="0.75"/>
<circle cx="143.52" cy="53.43" r="3.0" fill="#fff" stroke="#3030b0" stroke-width="0.75"/>
<circle cx="145.49" cy="55.18" r="3.0" fill="#fff" stroke="#3030b0" stroke-width="0.75"/>
<circle cx="147.46" cy="53.70" r="3.0" fill="#fff" stroke="#3030b0" stroke-width="0.75"/>
<circle cx="149.42" cy="55.52" r="3.0" fill="#fff" stroke="#3030b0" stroke-width="0.75"/>
<circle cx="151.39" cy="56.16" r="3.0" fill="#fff" stroke="#3030b0" stroke-width="0.75"/>
<circle cx="153.36" cy="55.24" r="3.0" fill="#fff" stroke="#3030b0" stroke-width="0.75"/>
<circle cx="155.32" cy="53.77" r="3.0" fill="#fff" stroke="#3030b0" stroke-width="0.75"/>
<circle cx="157.29" cy="58.99" r="3.0" fill="#fff" stroke="#3030b0" stroke-width="0.75"/>
<circle cx="159.26" cy="52.77" r="3.0" fill="#fff" stroke="#3030b0" stroke-width="0.75"/>
<circle cx="161.22" cy="55.11" r="3.0" fill="#fff" stroke="#3030b0" stroke-width="0.75"/>
<circle cx="163.19" cy="56.68" r="3.0" fill="#fff" stroke="#3030b0" stroke-width="0.75"/>
<circle cx="165.16" cy="55.67" r="3.0" fill="#fff" stroke="#3030b0" stroke-width="0.75"/>
<circle cx="167.12" cy="55.48" r="3.0" fill="#fff" stroke="#3030b0" stroke-width="0.75"/>
<circle cx="169.09" cy="53.93" r="3.0" fill="#fff" stroke="#3030b0" stroke-width="0.75"/>
<circle cx="171.06" cy="55.30" r="3.0" fill="#fff" stroke="#3030b0" stroke-width="0.75"/>
<circle cx="173.02" cy="50.40" r="3.0" fill="#fff" stroke="#3030b0" stroke-width="0.75"/>
<circle cx="174.99" cy="51.59" r="3.0" fill="#fff" stroke="#3030b0" stroke-width="0.75"/>
<circle cx="176.95" cy="55.70" r="3.0" fill="#fff" stroke="#3030b0" stroke-width="0.75"/>
<circle cx="178.92" cy="55.99" r="3.0" fill="#fff" stroke="#3030b0" stroke-width="0.75"/>
<circle cx="180.89" cy="52.11" r="3.0" fill="#fff" stroke="#3030b0" stroke-width="0.75"/>
<circle cx="182.85" cy="53.56" r="3.0" fill="#fff" stroke="#3030b0" stroke-width="0.75"/>
<circle cx="184.82" cy="52.82" r="3.0" fill="#fff" stroke="#3030b0" stroke-width="0.75"/>
<circle cx="186.79" cy="51.11" r="3.0" fill="#fff" stroke="#3030b0" stroke-width="0.75"/>
<circle cx="188.75" cy="50.50" r="3.0" fill="#fff" stroke="#3030b0" stroke-width="0.75"/>
<circle cx="190.72" cy="56.47" r="3.0" fill="#fff" stroke="#3030b0" stroke-width="0.75"/>
<circle cx="192.69" cy="58.91" r="3.0" fill="#fff" stroke="#3030b0" stroke-width="0.75"/>
<circle cx="194.65" cy="56.62" r="3.0" fill="#fff" stroke="#3030b0" stroke-width="0.75"/>
<circle cx="196.62" cy="57.15" r="3.0" fill="#fff" stroke="#3030b0" stroke-width="0.75"/>
<circle cx="198.59" cy="55.79" r="3.0" fill="#fff" stroke="#3030b0" stroke-width="0.75"/>
<circle cx="200.55" cy="51.21" r="3.0" fill="#fff" stroke="#3030b0" stroke-width="0.75"/>
<circle cx="202.52" cy="57.47" r="3.0" fill="#fff" stroke="#3030b0" stroke-width="0.75"/>
<circle cx="204.49" cy="56.20" r="3.0" fill="#fff" stroke="#3030b0" stroke-width="0.75"/>
<circle cx="206.45" cy="52.85" r="3.0" fill="#fff" stroke="#3030b0" stroke-width="0.75"/>
<circle cx="208.42" cy="55.26" r="3.0" fill="#fff" stroke="#3030b0" stroke-width="0.75"/>
<circle cx="210.39" cy="57.09" r="3.0" fill="#fff" stroke="#3030b0" stroke-width="0.75"/>
<circle cx="212.35" cy="54.48" r="3.0" fill="#fff" stroke="#3030b0" stroke-width="0.75"/>
<circle cx="214.32" cy="56.15" r="3.0" fill="#fff" stroke="#3030b0" stroke-width="0.75"/>
<circle cx="216.28" cy="56.40" r="3.0" fill="#fff" stroke="#3030b0" stroke-width="0.75"/>
<circle cx="218.25" cy="55.72" r="3.0" fill="#fff" stroke="#3030b0" stroke-width="0.75"/>
<circle cx="220.22" cy="57.73" r="3.0" fill="#fff" stroke="#3030b0" stroke-width="0.75"/>
<circle cx="222.18" cy="50.35" r="3.0" fill="#fff" stroke="#3030b0" stroke-width="0.75"/>
<circle cx="224.15" cy="56.55" r="3.0" fill="#fff" stroke="#3030b0" stroke-width="0.75"/>
<circle cx="226.12" cy="57.53" r="3.0" fill="#fff" stroke="#3030b0" stroke-width="0.75"/>
<circle cx="228.08" cy="53.00" r="3.0" fill="#fff" stroke="#3030b0" stroke-width="0.75"/>
<circle cx="230.05" cy="52.86" r="3.0" fill="#fff" stroke="#3030b0" stroke-width="0.75"/>
<circle cx="232.02" cy="59.75" r="3.0" fill="#fff" stroke="#3030b0" stroke-width="0.75"/>
<circle cx="233.98" cy="56.33" r="3.0" fill="#fff" stroke="#3030b0" stroke-width="0.75"/>
<circle cx="235.95" cy="53.24" r="3.0" fill="#fff" stroke="#3030b0" stroke-width="0.75"/>
<circle cx="237.92" cy="54.62" r="3.0" fill="#fff" stroke="#3030b0" stroke-width="0.75"/>
<circle cx="239.88" cy="50.85" r="3.0" fill="#fff" stroke="#3030b0" stroke-width="0.75"/>
<circle cx="241.85" cy="54.26" r="3.0" fill="#fff" stroke="#3030b0" stroke-width="0.75"/>
<circle cx="243.82" cy="54.30" r="3.0" fill="#fff" stroke="#3030b0" stroke-width="0.75"/>
<circle cx="245.78" cy="52.72" r="3.0" fill="#fff" stroke="#3030b0" stroke-width="0.75"/>
<circle cx="247.75" cy="52.49" r="3.0" fill="#fff" stroke="#3030b0" stroke-width="0.75"/>
<circle cx="249.72" cy="52.52" r="3.0" fill="#fff" stroke="#3030b0" stroke-width="0.75"/>
<circle cx="251.68" cy="52.08" r="3.0" fill="#fff" stroke="#3030b0" stroke-width="0.75"/>
<circle cx="253.65" cy="53.06" r="3.0" fill="#fff" stroke="#3030b0" stroke-width="0.75"/>
<circle cx="255.62" cy="53.95" r="3.0" fill="#fff" stroke="#3030b0" stroke-width="0.75"/>
<circle cx="257.58" cy="55.78" r="3.0" fill="#fff" stroke="#3030b0" stroke-width="0.75"/>
<circle cx="259.55" cy="52.64" r="3.0" fill="#fff" stroke="#3030b0" stroke-width="0.75"/>
<circle cx="261.51" cy="53.04" r="3.0" fill="#fff" stroke="#3030b0" stroke-width="0.75"/>
<circle cx="263.48" cy="51.82" r="3.0" fill="#fff" stroke="#3030b0" stroke-width="0.75"/>
<circle cx="265.45" cy="54.15" r="3.0" fill="#fff" stroke="#3030b0" stroke-width="0.75"/>
<circle cx="267.41" cy="52.17" r="3.0" fill="#fff" stroke="#3030b0" stroke-width="0.75"/>
<circle cx="269.38" cy="53.16" r="3.0" fill="#fff" stroke="#3030b0" stroke-width="0.75"/>
<circle cx="271.35" cy="54.87" r="3.0" fill="#fff" stroke="#3030b0" stroke-width="0.75"/>
<circle cx="273.31" cy="52.44" r="3.0" fill="#fff" stroke="#3030b0" stroke-width="0.75"/>
<circle cx="275.28" cy="53.45" r="3.0" fill="#fff" stroke="#3030b0" stroke-width="0.75"/>
<circle cx="277.25" cy="49.96" r="3.0" fill="#fff" stroke="#3030b0" stroke-width="0.75"/>
<circle cx="279.21" cy="53.03" r="3.0" fill="#fff" stroke="#3030b0" stroke-width="0.75"/>
<circle cx="281.18" cy="51.12" r="3.0" fill="#fff" stroke="#3030b0" stroke-width="0.75"/>
<circle cx="283.15" cy="52.06" r="3.0" fill="#fff" stroke="#3030b0" stroke-width="0.75"/>
<circle cx="285.11" cy="50.76" r="3.0" fill="#fff" stroke="#3030b0" stroke-width="0.75"/>
<circle cx="287.08" cy="52.63" r="3.0" fill="#fff" stroke="#3030b0" stroke-width="0.75"/>
<circle cx="289.05" cy="53.70" r="3.0" fill="#fff" stroke="#3030b0" stroke-width="0.75"/>
<circle cx="291.01" cy="54.56" r="3.0" fill="#fff" stroke="#3030b0" stroke-width="0.75"/>
<circle cx="292.98" cy="51.41" r="3.0" fill="#fff" stroke="#3030b0" stroke-width="0.75"/>
<circle cx="294.94" cy="54.01" r="3.0" fill="#fff" stroke="#3030b0" stroke-width="0.75"/>
<circle cx="296.91" cy="54.30" r="3.0" fill="#fff" stroke="#3030b0" stroke-width="0.75"/>
<circle cx="298.88" cy="53.60" r="3.0" fill="#fff" stroke="#3030b0" stroke-width="0.75"/>
<circle cx="300.84" cy="53.10" r="3.0" fill="#fff" stroke="#3030b0" stroke-width="0.75"/>
<circle cx="302.81" cy="53.49" r="3.0" fill="#fff" stroke="#3030b0" stroke-width="0.75"/>
<circle cx="304.78" cy="54.02" r="3.0" fill="#fff" stroke="#3030b0" stroke-width="0.75"/>
<circle cx="306.74" cy="55.23" r="3.0" fill="#fff" stroke="#3030b0" stroke-width="0.75"/>
<circle cx="308.71" cy="51.84" r="3.0" fill="#fff" stroke="#3030b0" stroke-width="0.75"/>
<circle cx="310.68" cy="54.50" r="3.0" fill="#fff" stroke="#3030b0" stroke-width="0.75"/>
<circle cx="312.64" cy="52.32" r="3.0" fill="#fff" stroke="#3030b0" stroke-width="0.75"/>
<circle cx="314.61" cy="54.45" r="3.0" fill="#fff" stroke="#3030b0" stroke-width="0.75"/>
<circle cx="316.58" cy="49.60" r="3.0" fill="#fff" stroke="#3030b0" stroke-width="0.75"/>
<circle cx="318.54" cy="52.64" r="3.0" fill="#fff" stroke="#3030b0" stroke-width="0.75"/>
<circle cx="320.51" cy="52.86" r="3.0" fill="#fff" stroke="#3030b0" stroke-width="0.75"/>
<circle cx="322.48" cy="51.24" r="3.0" fill="#fff" stroke="#3030b0" stroke-width="0.75"/>
<circle cx="324.44" cy="54.42" r="3.0" fill="#fff" stroke="#3030b0" stroke-width="0.75"/>
<circle cx="326.41" cy="52.95" r="3.0" fill="#fff" stroke="#3030b0" stroke-width="0.75"/>
<circle cx="328.38" cy="51.48" r="3.0" fill="#fff" stroke="#3030b0" stroke-width="0.75"/>
<circle cx="330.34" cy="54.64" r="3.0" fill="#fff" stroke="#3030b0" stroke-width="0.75"/>
<circle cx="332.31" cy="53.01" r="3.0" fill="#fff" stroke="#3030b0" stroke-width="0.75"/>
<circle cx="334.27" cy="52.04" r="3.0" fill="#fff" stroke="#3030b0" stroke-width="0.75"/>
<circle cx="336.24" cy="52.72" r="3.0" fill="#fff" stroke="#3030b0" stroke-width="0.75"/>
<circle cx="338.21" cy="53.41" r="3.0" fill="#fff" stroke="#3030b0" stroke-width="0.75"/>
<circle cx="340.17" cy="52.76" r="3.0" fill="#fff" stroke="#3030b0" stroke-width="0.75"/>
<circle cx="342.14" cy="55.23" r="3.0" fill="#fff" stroke="#3030b0" stroke-width="0.75"/>
<circle cx="344.11" cy="50.60" r="3.0" fill="#fff" stroke="#3030b0" stroke-width="0.75"/>
<circle cx="346.07" cy="51.09" r="3.0" fill="#fff" stroke="#3030b0" stroke-width="0.75"/>
<circle cx="348.04" cy="53.50" r="3.0" fill="#fff" stroke="#3030b0" stroke-width="0.75"/>
<circle cx="350.01" cy="52.02" r="3.0" fill="#fff" stroke="#3030b0" stroke-width="0.75"/>
<circle cx="351.97" cy="52.02" r="3.0" fill="#fff" stroke="#3030b0" stroke-width="0.75"/>
<circle cx="353.94" cy="53.52" r="3.0" fill="#fff" stroke="#3030b0" stroke-width="0.75"/>
<circle cx="355.91" cy="53.38" r="3.0" fill="#fff" stroke="#3030b0" stroke-width="0.75"/>
<circle cx="357.87" cy="51.03" r="3.0" fill="#fff" stroke="#3030b0" stroke-width="0.75"/>
<circle cx="359.84" cy="52.91" r="3.0" fill="#fff" stroke="#3030b0" stroke-width="0.75"/>
<circle cx="361.81" cy="54.99" r="3.0" fill="#fff" stroke="#3030b0" stroke-width="0.75"/>
<circle cx="363.77" cy="52.59" r="3.0" fill="#fff" stroke="#3030b0" stroke-width="0.75"/>
<circle cx="365.74" cy="53.39" r="3.0" fill="#fff" stroke="#3030b0" stroke-width="0.75"/>
<circle cx="367.71" cy="50.71" r="3.0" fill="#fff" stroke="#3030b0" stroke-width="0.75"/>
<circle cx="369.67" cy="50.55" r="3.0" fill="#fff" stroke="#3030b0" stroke-width="0.75"/>
<circle cx="371.64" cy="50.55" r="3.0" fill="#fff" stroke="#3030b0" stroke-width="0.75"/>
<circle cx="373.61" cy="52.77" r="3.0" fill="#fff" stroke="#3030b0" stroke-width="0.75"/>
<circle cx="375.57" cy="51.19" r="3.0" fill="#fff" stroke="#3030b0" stroke-width="0.75"/>
<circle cx="377.54" cy="51.90" r="3.0" fill="#fff" stroke="#3030b0" stroke-width="0.75"/>
<circle cx="379.50" cy="52.00" r="3.0" fill="#fff" stroke="#3030b0" stroke-width="0.75"/>
<circle cx="381.47" cy="54.31" r="3.0" fill="#fff" stroke="#3030b0" stroke-width="0.75"/>
<circle cx="383.44" cy="51.75" r="3.0" fill="#fff" stroke="#3030b0" stroke-width="0.75"/>
<circle cx="385.40" cy="56.37" r="3.0" fill="#fff" stroke="#3030b0" stroke-width="0.75"/>
<circle cx="387.37" cy="49.10" r="3.0" fill="#fff" stroke="#3030b0" stroke-width="0.75"/>
<circle cx="389.34" cy="53.12" r="3.0" fill="#fff" stroke="#3030b0" stroke-width="0.75"/>
<circle cx="391.30" cy="53.13" r="3.0" fill="#fff" stroke="#3030b0" stroke-width="0.75"/>
<circle cx="393.27" cy="51.66" r="3.0" fill="#fff" stroke="#3030b0" stroke-width="0.75"/>
<circle cx="395.24" cy="54.71" r="3.0" fill="#fff" stroke="#3030b0" stroke-width="0.75"/>
<circle cx="397.20" cy="53.39" r="3.0" fill="#fff" stroke="#3030b0" stroke-width="0.75"/>
<circle cx="399.17" cy="51.66" r="3.0" fill="#fff" stroke="#3030b0" stroke-width="0.75"/>
<circle cx="401.14" cy="53.89" r="3.0" fill="#fff" stroke="#3030b0" stroke-width="0.75"/>
<circle cx="403.10" cy="49.24" r="3.0" fill="#fff" stroke="#3030b0" stroke-width="0.75"/>
<circle cx="405.07" cy="50.29" r="3.0" fill="#fff" stroke="#3030b0" stroke-width="0.75"/>
<circle cx="407.04" cy="56.02" r="3.0" fill="#fff" stroke="#3030b0" stroke-width="0.75"/>
<circle cx="409.00" cy="50.98" r="3.0" fill="#fff" stroke="#3030b0" stroke-width="0.75"/>
<circle cx="410.97" cy="54.99" r="3.0" fill="#fff" stroke="#3030b0" stroke-width="0.75"/>
<circle cx="412.94" cy="53.92" r="3.0" fill="#fff" stroke="#3030b0" stroke-width="0.75"/>
<circle cx="414.90" cy="52.92" r="3.0" fill="#fff" stroke="#3030b0" stroke-width="0.75"/>
<circle cx="416.87" cy="51.39" r="3.0" fill="#fff" stroke="#3030b0" stroke-width="0.75"/>
<circle cx="418.83" cy="50.42" r="3.0" fill="#fff" stroke="#3030b0" stroke-width="0.75"/>
<circle cx="420.80" cy="52.70" r="3.0" fill="#fff" stroke="#3030b0" stroke-width="0.75"/>
<circle cx="422.77" cy="52.78" r="3.0" fill="#fff" stroke="#3030b0" stroke-width="0.75"/>
<circle cx="424.73" cy="54.34" r="3.0" fill="#fff" stroke="#3030b0" stroke-width="0.75"/>
<circle cx="426.70" cy="52.51" r="3.0" fill="#fff" stroke="#3030b0" stroke-width="0.75"/>
<circle cx="428.67" cy="54.65" r="3.0" fill="#fff" stroke="#3030b0" stroke-width="0.75"/>
<circle cx="430.63" cy="53.83" r="3.0" fill="#fff" stroke="#3030b0" stroke-width="0.75"/>
<circle cx="432.60" cy="54.84" r="3.0" fill="#fff" stroke="#3030b0" stroke-width="0.75"/>
<circle cx="108.00" cy="35.50" r="3.0" fill="#fff" stroke="#3030b0" stroke-width="0.75"/>
<circle cx="120.40" cy="35.50" r="3.0" fill="#fff" stroke="#3030b0" stroke-width="0.75"/>
<circle cx="122.30" cy="69.20" r="3.0" fill="#fff" stroke="#3030b0" stroke-width="0.75"/>
<circle cx="179.30" cy="35.50" r="3.0" fill="#fff" stroke="#3030b0" stroke-width="0.75"/>
<circle cx="169.10" cy="68.80" r="3.0" fill="#fff" stroke="#3030b0" stroke-width="0.75"/>
<circle cx="181.00" cy="64.10" r="3.0" fill="#fff" stroke="#3030b0" stroke-width="0.75"/>
<circle cx="96.30" cy="90.00" r="3.0" fill="#fff" stroke="#3030b0" stroke-width="0.75"/>
<circle cx="41.27" cy="95.99" r="3.2" fill="url(#gO)"/>
<circle cx="45.20" cy="96.22" r="3.2" fill="url(#gO)"/>
<circle cx="49.13" cy="95.70" r="3.2" fill="url(#gO)"/>
<circle cx="53.07" cy="96.22" r="3.2" fill="url(#gO)"/>
<circle cx="57.00" cy="96.22" r="3.2" fill="url(#gO)"/>
<circle cx="60.93" cy="95.87" r="3.2" fill="url(#gO)"/>
<circle cx="64.86" cy="96.72" r="3.2" fill="url(#gO)"/>
<circle cx="68.80" cy="96.35" r="3.2" fill="url(#gO)"/>
<circle cx="72.73" cy="96.85" r="3.2" fill="url(#gO)"/>
<circle cx="76.66" cy="96.74" r="3.2" fill="url(#gO)"/>
<circle cx="80.60" cy="97.29" r="3.2" fill="url(#gO)"/>
<circle cx="84.53" cy="97.59" r="3.2" fill="url(#gO)"/>
<circle cx="88.46" cy="97.29" r="3.2" fill="url(#gO)"/>
<circle cx="92.40" cy="97.84" r="3.2" fill="url(#gO)"/>
<circle cx="96.33" cy="99.19" r="3.2" fill="url(#gO)"/>
<circle cx="100.26" cy="99.85" r="3.2" fill="url(#gO)"/>
<circle cx="104.19" cy="99.78" r="3.2" fill="url(#gO)"/>
<circle cx="108.13" cy="99.91" r="3.2" fill="url(#gO)"/>
<circle cx="112.06" cy="100.34" r="3.2" fill="url(#gO)"/>
<circle cx="115.99" cy="99.65" r="3.2" fill="url(#gO)"/>
<circle cx="119.93" cy="100.28" r="3.2" fill="url(#gO)"/>
<circle cx="123.86" cy="100.20" r="3.2" fill="url(#gO)"/>
<circle cx="127.79" cy="100.72" r="3.2" fill="url(#gO)"/>
<circle cx="131.73" cy="100.57" r="3.2" fill="url(#gO)"/>
<circle cx="135.66" cy="100.56" r="3.2" fill="url(#gO)"/>
<circle cx="139.59" cy="100.83" r="3.2" fill="url(#gO)"/>
<circle cx="143.52" cy="100.63" r="3.2" fill="url(#gO)"/>
<circle cx="147.46" cy="101.06" r="3.2" fill="url(#gO)"/>
<circle cx="151.39" cy="100.96" r="3.2" fill="url(#gO)"/>
<circle cx="155.32" cy="101.10" r="3.2" fill="url(#gO)"/>
<circle cx="159.26" cy="101.09" r="3.2" fill="url(#gO)"/>
<circle cx="163.19" cy="101.58" r="3.2" fill="url(#gO)"/>
<circle cx="167.12" cy="101.42" r="3.2" fill="url(#gO)"/>
<circle cx="171.06" cy="101.69" r="3.2" fill="url(#gO)"/>
<circle cx="174.99" cy="101.79" r="3.2" fill="url(#gO)"/>
<circle cx="178.92" cy="101.59" r="3.2" fill="url(#gO)"/>
<circle cx="182.85" cy="102.09" r="3.2" fill="url(#gO)"/>
<circle cx="186.79" cy="102.22" r="3.2" fill="url(#gO)"/>
<circle cx="190.72" cy="102.44" r="3.2" fill="url(#gO)"/>
<circle cx="194.65" cy="102.61" r="3.2" fill="url(#gO)"/>
<circle cx="198.59" cy="103.26" r="3.2" fill="url(#gO)"/>
<circle cx="202.52" cy="104.21" r="3.2" fill="url(#gO)"/>
<circle cx="206.45" cy="105.19" r="3.2" fill="url(#gO)"/>
<circle cx="210.39" cy="105.08" r="3.2" fill="url(#gO)"/>
<circle cx="214.32" cy="106.07" r="3.2" fill="url(#gO)"/>
<circle cx="218.25" cy="106.51" r="3.2" fill="url(#gO)"/>
<circle cx="222.18" cy="107.46" r="3.2" fill="url(#gO)"/>
<circle cx="226.12" cy="108.04" r="3.2" fill="url(#gO)"/>
<circle cx="230.05" cy="108.86" r="3.2" fill="url(#gO)"/>
<circle cx="233.98" cy="108.57" r="3.2" fill="url(#gO)"/>
<circle cx="237.92" cy="109.78" r="3.2" fill="url(#gO)"/>
<circle cx="241.85" cy="110.35" r="3.2" fill="url(#gO)"/>
<circle cx="245.78" cy="111.22" r="3.2" fill="url(#gO)"/>
<circle cx="249.72" cy="111.72" r="3.2" fill="url(#gO)"/>
<circle cx="253.65" cy="112.40" r="3.2" fill="url(#gO)"/>
<circle cx="257.58" cy="113.40" r="3.2" fill="url(#gO)"/>
<circle cx="261.51" cy="114.40" r="3.2" fill="url(#gO)"/>
<circle cx="265.45" cy="113.91" r="3.2" fill="url(#gO)"/>
<circle cx="269.38" cy="115.24" r="3.2" fill="url(#gO)"/>
<circle cx="273.31" cy="116.08" r="3.2" fill="url(#gO)"/>
<circle cx="277.25" cy="116.68" r="3.2" fill="url(#gO)"/>
<circle cx="281.18" cy="117.25" r="3.2" fill="url(#gO)"/>
<circle cx="285.11" cy="117.63" r="3.2" fill="url(#gO)"/>
<circle cx="289.05" cy="118.33" r="3.2" fill="url(#gO)"/>
<circle cx="292.98" cy="119.30" r="3.2" fill="url(#gO)"/>
<circle cx="296.91" cy="119.90" r="3.2" fill="url(#gO)"/>
<circle cx="300.84" cy="120.11" r="3.2" fill="url(#gO)"/>
<circle cx="304.78" cy="120.32" r="3.2" fill="url(#gO)"/>
<circle cx="308.71" cy="120.98" r="3.2" fill="url(#gO)"/>
<circle cx="312.64" cy="121.32" r="3.2" fill="url(#gO)"/>
<circle cx="316.58" cy="121.92" r="3.2" fill="url(#gO)"/>
<circle cx="320.51" cy="122.19" r="3.2" fill="url(#gO)"/>
<circle cx="324.44" cy="122.36" r="3.2" fill="url(#gO)"/>
<circle cx="328.38" cy="122.88" r="3.2" fill="url(#gO)"/>
<circle cx="332.31" cy="122.81" r="3.2" fill="url(#gO)"/>
<circle cx="336.24" cy="123.53" r="3.2" fill="url(#gO)"/>
<circle cx="340.17" cy="123.80" r="3.2" fill="url(#gO)"/>
<circle cx="344.11" cy="123.34" r="3.2" fill="url(#gO)"/>
<circle cx="348.04" cy="123.86" r="3.2" fill="url(#gO)"/>
<circle cx="351.97" cy="123.62" r="3.2" fill="url(#gO)"/>
<circle cx="355.91" cy="124.23" r="3.2" fill="url(#gO)"/>
<circle cx="359.84" cy="124.28" r="3.2" fill="url(#gO)"/>
<circle cx="363.77" cy="124.08" r="3.2" fill="url(#gO)"/>
<circle cx="367.71" cy="124.46" r="3.2" fill="url(#gO)"/>
<circle cx="371.64" cy="124.18" r="3.2" fill="url(#gO)"/>
<circle cx="375.57" cy="124.19" r="3.2" fill="url(#gO)"/>
<circle cx="379.50" cy="124.28" r="3.2" fill="url(#gO)"/>
<circle cx="383.44" cy="124.46" r="3.2" fill="url(#gO)"/>
<circle cx="387.37" cy="124.49" r="3.2" fill="url(#gO)"/>
<circle cx="391.30" cy="124.69" r="3.2" fill="url(#gO)"/>
<circle cx="395.24" cy="124.57" r="3.2" fill="url(#gO)"/>
<circle cx="399.17" cy="124.98" r="3.2" fill="url(#gO)"/>
<circle cx="403.10" cy="125.11" r="3.2" fill="url(#gO)"/>
<circle cx="407.04" cy="124.80" r="3.2" fill="url(#gO)"/>
<circle cx="410.97" cy="124.63" r="3.2" fill="url(#gO)"/>
<circle cx="414.90" cy="125.23" r="3.2" fill="url(#gO)"/>
<circle cx="418.83" cy="125.39" r="3.2" fill="url(#gO)"/>
<circle cx="422.77" cy="125.13" r="3.2" fill="url(#gO)"/>
<circle cx="426.70" cy="124.90" r="3.2" fill="url(#gO)"/>
<circle cx="430.63" cy="125.34" r="3.2" fill="url(#gO)"/>
<circle cx="41.27" cy="94.54" r="3.1" fill="url(#gN)"/>
<circle cx="45.20" cy="93.37" r="3.1" fill="url(#gN)"/>
<circle cx="49.13" cy="94.25" r="3.1" fill="url(#gN)"/>
<circle cx="53.07" cy="94.05" r="3.1" fill="url(#gN)"/>
<circle cx="57.00" cy="93.95" r="3.1" fill="url(#gN)"/>
<circle cx="60.93" cy="94.53" r="3.1" fill="url(#gN)"/>
<circle cx="64.86" cy="94.03" r="3.1" fill="url(#gN)"/>
<circle cx="68.80" cy="94.72" r="3.1" fill="url(#gN)"/>
<circle cx="72.73" cy="95.23" r="3.1" fill="url(#gN)"/>
<circle cx="76.66" cy="94.98" r="3.1" fill="url(#gN)"/>
<circle cx="80.60" cy="94.78" r="3.1" fill="url(#gN)"/>
<circle cx="84.53" cy="94.68" r="3.1" fill="url(#gN)"/>
<circle cx="88.46" cy="95.16" r="3.1" fill="url(#gN)"/>
<circle cx="92.40" cy="95.56" r="3.1" fill="url(#gN)"/>
<circle cx="96.33" cy="97.56" r="3.1" fill="url(#gN)"/>
<circle cx="100.26" cy="96.11" r="3.1" fill="url(#gN)"/>
<circle cx="104.19" cy="95.83" r="3.1" fill="url(#gN)"/>
<circle cx="108.13" cy="95.75" r="3.1" fill="url(#gN)"/>
<circle cx="112.06" cy="95.83" r="3.1" fill="url(#gN)"/>
<circle cx="115.99" cy="96.08" r="3.1" fill="url(#gN)"/>
<circle cx="119.93" cy="95.75" r="3.1" fill="url(#gN)"/>
<circle cx="123.86" cy="96.79" r="3.1" fill="url(#gN)"/>
<circle cx="127.79" cy="95.94" r="3.1" fill="url(#gN)"/>
<circle cx="131.73" cy="95.95" r="3.1" fill="url(#gN)"/>
<circle cx="135.66" cy="96.41" r="3.1" fill="url(#gN)"/>
<circle cx="139.59" cy="96.92" r="3.1" fill="url(#gN)"/>
<circle cx="143.52" cy="97.02" r="3.1" fill="url(#gN)"/>
<circle cx="147.46" cy="96.56" r="3.1" fill="url(#gN)"/>
<circle cx="151.39" cy="97.00" r="3.1" fill="url(#gN)"/>
<circle cx="155.32" cy="97.15" r="3.1" fill="url(#gN)"/>
<circle cx="159.26" cy="97.47" r="3.1" fill="url(#gN)"/>
<circle cx="163.19" cy="97.55" r="3.1" fill="url(#gN)"/>
<circle cx="167.12" cy="97.29" r="3.1" fill="url(#gN)"/>
<circle cx="171.06" cy="97.31" r="3.1" fill="url(#gN)"/>
<circle cx="174.99" cy="97.90" r="3.1" fill="url(#gN)"/>
<circle cx="178.92" cy="97.48" r="3.1" fill="url(#gN)"/>
<circle cx="182.85" cy="98.35" r="3.1" fill="url(#gN)"/>
<circle cx="186.79" cy="97.70" r="3.1" fill="url(#gN)"/>
<circle cx="190.72" cy="97.04" r="3.1" fill="url(#gN)"/>
<circle cx="194.65" cy="97.00" r="3.1" fill="url(#gN)"/>
<circle cx="198.59" cy="96.75" r="3.1" fill="url(#gN)"/>
<circle cx="202.52" cy="96.86" r="3.1" fill="url(#gN)"/>
<circle cx="206.45" cy="97.29" r="3.1" fill="url(#gN)"/>
<circle cx="210.39" cy="96.54" r="3.1" fill="url(#gN)"/>
<circle cx="214.32" cy="96.52" r="3.1" fill="url(#gN)"/>
<circle cx="218.25" cy="97.45" r="3.1" fill="url(#gN)"/>
<circle cx="222.18" cy="97.44" r="3.1" fill="url(#gN)"/>
<circle cx="226.12" cy="97.75" r="3.1" fill="url(#gN)"/>
<circle cx="230.05" cy="98.03" r="3.1" fill="url(#gN)"/>
<circle cx="233.98" cy="98.00" r="3.1" fill="url(#gN)"/>
<circle cx="237.92" cy="98.51" r="3.1" fill="url(#gN)"/>
<circle cx="241.85" cy="98.07" r="3.1" fill="url(#gN)"/>
<circle cx="245.78" cy="98.53" r="3.1" fill="url(#gN)"/>
<circle cx="249.72" cy="98.31" r="3.1" fill="url(#gN)"/>
<circle cx="253.65" cy="98.27" r="3.1" fill="url(#gN)"/>
<circle cx="257.58" cy="98.93" r="3.1" fill="url(#gN)"/>
<circle cx="261.51" cy="98.96" r="3.1" fill="url(#gN)"/>
<circle cx="265.45" cy="98.12" r="3.1" fill="url(#gN)"/>
<circle cx="269.38" cy="98.44" r="3.1" fill="url(#gN)"/>
<circle cx="273.31" cy="98.97" r="3.1" fill="url(#gN)"/>
<circle cx="277.25" cy="99.28" r="3.1" fill="url(#gN)"/>
<circle cx="281.18" cy="98.70" r="3.1" fill="url(#gN)"/>
<circle cx="285.11" cy="98.91" r="3.1" fill="url(#gN)"/>
<circle cx="289.05" cy="98.52" r="3.1" fill="url(#gN)"/>
<circle cx="292.98" cy="99.95" r="3.1" fill="url(#gN)"/>
<circle cx="296.91" cy="99.30" r="3.1" fill="url(#gN)"/>
<circle cx="300.84" cy="99.51" r="3.1" fill="url(#gN)"/>
<circle cx="304.78" cy="99.54" r="3.1" fill="url(#gN)"/>
<circle cx="308.71" cy="99.81" r="3.1" fill="url(#gN)"/>
<circle cx="312.64" cy="99.90" r="3.1" fill="url(#gN)"/>
<circle cx="316.58" cy="99.81" r="3.1" fill="url(#gN)"/>
<circle cx="320.51" cy="100.45" r="3.1" fill="url(#gN)"/>
<circle cx="324.44" cy="100.47" r="3.1" fill="url(#gN)"/>
<circle cx="328.38" cy="101.14" r="3.1" fill="url(#gN)"/>
<circle cx="332.31" cy="100.65" r="3.1" fill="url(#gN)"/>
<circle cx="336.24" cy="100.89" r="3.1" fill="url(#gN)"/>
<circle cx="340.17" cy="101.43" r="3.1" fill="url(#gN)"/>
<circle cx="344.11" cy="101.73" r="3.1" fill="url(#gN)"/>
<circle cx="348.04" cy="101.41" r="3.1" fill="url(#gN)"/>
<circle cx="351.97" cy="101.18" r="3.1" fill="url(#gN)"/>
<circle cx="355.91" cy="101.46" r="3.1" fill="url(#gN)"/>
<circle cx="359.84" cy="101.38" r="3.1" fill="url(#gN)"/>
<circle cx="363.77" cy="102.27" r="3.1" fill="url(#gN)"/>
<circle cx="367.71" cy="101.97" r="3.1" fill="url(#gN)"/>
<circle cx="371.64" cy="102.14" r="3.1" fill="url(#gN)"/>
<circle cx="375.57" cy="101.85" r="3.1" fill="url(#gN)"/>
<circle cx="379.50" cy="101.58" r="3.1" fill="url(#gN)"/>
<circle cx="383.44" cy="102.21" r="3.1" fill="url(#gN)"/>
<circle cx="387.37" cy="102.40" r="3.1" fill="url(#gN)"/>
<circle cx="391.30" cy="102.05" r="3.1" fill="url(#gN)"/>
<circle cx="395.24" cy="101.86" r="3.1" fill="url(#gN)"/>
<circle cx="399.17" cy="102.27" r="3.1" fill="url(#gN)"/>
<circle cx="403.10" cy="101.79" r="3.1" fill="url(#gN)"/>
<circle cx="407.04" cy="102.20" r="3.1" fill="url(#gN)"/>
<circle cx="410.97" cy="101.70" r="3.1" fill="url(#gN)"/>
<circle cx="414.90" cy="101.63" r="3.1" fill="url(#gN)"/>
<circle cx="418.83" cy="102.18" r="3.1" fill="url(#gN)"/>
<circle cx="422.77" cy="102.11" r="3.1" fill="url(#gN)"/>
<circle cx="426.70" cy="102.66" r="3.1" fill="url(#gN)"/>
<circle cx="430.63" cy="101.90" r="3.1" fill="url(#gN)"/>
<circle cx="373.8" cy="106.5" r="3.2" fill="url(#gN)"/>
</g>
<circle cx="83.7" cy="121.2" r="3.1" fill="url(#gO)"/>
<circle cx="83.7" cy="134.5" r="3.1" fill="url(#gN)"/>
<rect x="35.00" y="25.50" width="399.00" height="129.50" fill="none" stroke="#000" stroke-width="2"/>
<clipPath id="cb"><rect x="37" y="192.3" width="174.2" height="128"/></clipPath>
<g clip-path="url(#cb)">
<path d="M38.7,212.1 L39.6,226.4 L40.4,230.0 L41.3,232.2 L42.2,233.4 L43.1,234.0 L43.9,234.4 L44.8,234.7 L45.7,235.0 L46.5,235.3 L47.4,235.7 L48.3,236.1 L49.2,236.6 L50.0,237.1 L50.9,237.5 L51.8,238.0 L52.6,238.4 L53.5,238.8 L54.4,239.1 L55.3,239.4 L56.1,239.7 L57.0,240.0 L57.9,240.2 L58.7,240.4 L59.6,240.7 L60.5,240.9 L61.4,241.1 L62.2,241.3 L63.1,241.5 L64.0,241.7 L64.8,241.9 L65.7,242.1 L66.6,242.4 L67.5,242.6 L68.3,242.9 L69.2,243.2 L70.1,243.5 L70.9,243.8 L71.8,244.1 L72.7,244.4 L73.6,244.7 L74.4,245.0 L75.3,245.3 L76.2,245.6 L77.0,246.0 L77.9,246.3 L78.8,246.6 L79.7,247.0 L80.5,247.3 L81.4,247.7 L82.3,248.0 L83.1,248.4 L84.0,248.8 L84.9,249.2 L85.8,249.5 L86.6,249.9 L87.5,250.3 L88.4,250.7 L89.2,251.2 L90.1,251.6 L91.0,252.0 L91.9,252.4 L92.7,252.8 L93.6,253.2 L94.5,253.6 L95.3,254.0 L96.2,254.4 L97.1,254.9 L98.0,255.3 L98.8,255.7 L99.7,256.1 L100.6,256.5 L101.4,257.0 L102.3,257.4 L103.2,257.8 L104.1,258.2 L104.9,258.6 L105.8,259.0 L106.7,259.4 L107.5,259.8 L108.4,260.1 L109.3,260.5 L110.2,260.8 L111.0,261.2 L111.9,261.5 L112.8,261.8 L113.6,262.1 L114.5,262.4 L115.4,262.7 L116.3,263.0 L117.1,263.3 L118.0,263.7 L118.9,264.0 L119.7,264.3 L120.6,264.7 L121.5,265.0 L122.4,265.4 L123.2,265.8 L124.1,266.2 L125.0,266.6 L125.8,267.0 L126.7,267.5 L127.6,268.0 L128.5,268.5 L129.3,269.1 L130.2,269.7 L131.1,270.4 L132.0,271.1 L132.8,271.8 L133.7,272.6 L134.6,273.4 L135.4,274.2 L136.3,275.1 L137.2,276.0 L138.1,277.0 L138.9,278.2 L139.8,279.5 L140.7,280.9 L141.5,282.3 L142.4,283.6 L143.3,285.0 L143.4,285.1 L143.5,285.3 L143.6,285.4 L143.7,285.6 L143.7,285.7 L143.8,285.9 L143.9,286.0 L144.0,286.2 L144.1,286.4 L144.2,286.5 L144.3,286.7 L144.4,286.8 L144.5,287.0 L144.6,287.1 L144.7,287.3 L144.8,287.5 L144.9,287.6 L145.0,287.8 L145.1,288.0 L145.1,288.1 L145.2,288.3 L145.3,288.5 L145.4,288.7 L145.5,288.9 L145.6,289.1 L145.7,289.2 L145.8,289.4 L145.9,289.6 L146.0,289.8 L146.1,290.0 L146.2,290.2 L146.3,290.5 L146.4,290.7 L146.5,290.9 L146.5,291.1 L146.6,291.4 L146.7,291.6 L146.8,291.9 L146.9,292.1 L147.0,292.4 L147.1,292.7 L147.2,293.0 L147.3,293.2 L147.4,293.5 L147.5,293.8 L147.6,294.1 L147.7,294.5 L147.8,294.8 L147.9,295.2 L147.9,295.7 L148.0,296.1 L148.1,296.6 L148.2,297.2 L148.3,297.8 L148.4,298.7 L148.5,299.7 L148.6,300.8 L148.7,302.0 L148.8,303.3" fill="none" stroke="#ffd8b0" stroke-width="1.5" stroke-linejoin="round" stroke-linecap="round"/>
<path d="M38.7,269.9 L39.4,268.8 L40.1,267.7 L40.8,266.6 L41.5,265.4 L42.2,264.2 L42.9,263.0 L43.6,262.0 L44.3,261.3 L45.0,260.8 L45.7,260.4 L46.4,260.0 L47.1,259.7 L47.8,259.5 L48.5,259.2 L49.2,259.0 L49.9,258.8 L50.7,258.6 L51.4,258.3 L52.1,258.1 L52.8,257.8 L53.5,257.5 L54.2,257.2 L54.9,256.9 L55.6,256.6 L56.3,256.3 L57.0,256.0 L57.7,255.7 L58.4,255.4 L59.1,255.1 L59.8,254.7 L60.5,254.4 L61.2,254.1 L61.9,253.8 L62.6,253.5 L63.3,253.2 L64.0,252.9 L64.7,252.5 L65.4,252.2 L66.1,251.9 L66.8,251.6 L67.5,251.3 L68.2,250.9 L68.9,250.6 L69.6,250.3 L70.3,250.0 L71.0,249.6 L71.7,249.3 L72.4,249.0 L73.1,248.6 L73.9,248.3 L74.6,248.0 L75.3,247.7 L76.0,247.3 L76.7,247.0 L77.4,246.7 L78.1,246.4 L78.8,246.0 L79.5,245.7 L80.2,245.4 L80.9,245.1 L81.6,244.7 L82.3,244.4 L83.0,244.1 L83.7,243.8 L84.4,243.4 L85.1,243.1 L85.8,242.8 L86.5,242.5 L87.2,242.2 L87.9,241.8 L88.6,241.5 L89.3,241.2 L90.0,240.9 L90.7,240.6 L91.4,240.3 L92.1,239.9 L92.8,239.6 L93.5,239.3 L94.2,239.0 L94.9,238.7 L95.6,238.4 L96.3,238.1 L97.0,237.8 L97.8,237.5 L98.5,237.2 L99.2,236.9 L99.9,236.6 L100.6,236.3 L101.3,236.0 L102.0,235.7 L102.7,235.3 L103.4,235.0 L104.1,234.7 L104.8,234.5 L105.5,234.2 L106.2,233.9 L106.9,233.6 L107.6,233.3 L108.3,233.0 L109.0,232.7 L109.7,232.4 L110.4,232.1 L111.1,231.8 L111.8,231.5 L112.5,231.1 L113.2,230.8 L113.9,230.5 L114.6,230.2 L115.3,229.9 L116.0,229.6 L116.7,229.3 L117.4,228.9 L118.1,228.6 L118.8,228.2 L119.5,227.9 L120.2,227.5 L121.0,227.2 L121.7,226.8 L122.4,226.4 L123.1,226.1 L123.8,225.7 L124.5,225.3 L125.2,224.8 L125.9,224.4 L126.6,223.9 L127.3,223.4 L128.0,222.9 L128.7,222.5 L129.4,222.0 L130.1,221.7 L130.8,221.3 L131.5,220.8 L132.2,220.2 L132.9,219.4 L133.6,218.1 L134.3,216.4 L135.0,214.5 L135.7,212.2 L136.4,209.5 L140.6,209.5" fill="none" stroke="#ffd8b0" stroke-width="1.5" stroke-linejoin="round" stroke-linecap="round"/>
<path d="M38.7,212.1 L39.6,225.9 L40.5,229.5 L41.4,231.7 L42.2,232.9 L43.1,233.5 L44.0,233.9 L44.9,234.2 L45.8,234.5 L46.7,234.8 L47.5,235.2 L48.4,235.6 L49.3,236.1 L50.2,236.5 L51.1,237.0 L52.0,237.4 L52.8,237.9 L53.7,238.3 L54.6,238.6 L55.5,238.9 L56.4,239.2 L57.3,239.4 L58.1,239.7 L59.0,239.9 L59.9,240.1 L60.8,240.3 L61.7,240.6 L62.6,240.8 L63.4,241.0 L64.3,241.2 L65.2,241.4 L66.1,241.6 L67.0,241.9 L67.9,242.1 L68.7,242.4 L69.6,242.7 L70.5,242.9 L71.4,243.2 L72.3,243.5 L73.2,243.8 L74.0,244.1 L74.9,244.5 L75.8,244.8 L76.7,245.1 L77.6,245.4 L78.5,245.8 L79.3,246.1 L80.2,246.4 L81.1,246.8 L82.0,247.1 L82.9,247.5 L83.8,247.9 L84.6,248.2 L85.5,248.6 L86.4,249.0 L87.3,249.4 L88.2,249.8 L89.1,250.2 L89.9,250.6 L90.8,251.0 L91.7,251.4 L92.6,251.8 L93.5,252.2 L94.4,252.7 L95.2,253.1 L96.1,253.5 L97.0,253.9 L97.9,254.3 L98.8,254.8 L99.7,255.2 L100.5,255.6 L101.4,256.0 L102.3,256.4 L103.2,256.9 L104.1,257.3 L105.0,257.7 L105.8,258.1 L106.7,258.5 L107.6,258.9 L108.5,259.2 L109.4,259.6 L110.3,260.0 L111.1,260.3 L112.0,260.6 L112.9,261.0 L113.8,261.3 L114.7,261.6 L115.6,261.9 L116.4,262.2 L117.3,262.5 L118.2,262.9 L119.1,263.2 L120.0,263.5 L120.9,263.8 L121.7,264.2 L122.6,264.5 L123.5,264.9 L124.4,265.3 L125.3,265.7 L126.2,266.1 L127.0,266.6 L127.9,267.0 L128.8,267.5 L129.7,268.1 L130.6,268.6 L131.5,269.2 L132.3,269.9 L133.2,270.5 L134.1,271.2 L135.0,272.0 L135.9,272.8 L136.8,273.6 L137.6,274.5 L138.5,275.4 L139.4,276.3 L140.3,277.5 L141.2,278.7 L142.1,280.1 L142.9,281.5 L143.8,282.8 L144.7,284.2 L144.8,284.3 L144.9,284.5 L145.0,284.7 L145.1,284.8 L145.2,285.0 L145.3,285.1 L145.4,285.3 L145.5,285.5 L145.6,285.6 L145.7,285.8 L145.8,285.9 L145.8,286.1 L145.9,286.3 L146.0,286.4 L146.1,286.6 L146.2,286.8 L146.3,286.9 L146.4,287.1 L146.5,287.3 L146.6,287.5 L146.7,287.6 L146.8,287.8 L146.9,288.0 L147.0,288.2 L147.1,288.4 L147.2,288.6 L147.3,288.8 L147.4,289.0 L147.5,289.2 L147.5,289.4 L147.6,289.6 L147.7,289.9 L147.8,290.1 L147.9,290.3 L148.0,290.5 L148.1,290.8 L148.2,291.0 L148.3,291.3 L148.4,291.6 L148.5,291.9 L148.6,292.1 L148.7,292.4 L148.8,292.7 L148.9,293.0 L149.0,293.4 L149.1,293.7 L149.2,294.0 L149.3,294.4 L149.3,294.8 L149.4,295.3 L149.5,295.8 L149.6,296.3 L149.7,296.9 L149.8,297.6 L149.9,298.5 L150.0,299.5 L150.1,300.7 L150.2,302.0 L150.3,303.3" fill="none" stroke="#ffcb9a" stroke-width="1.5" stroke-linejoin="round" stroke-linecap="round"/>
<path d="M38.7,269.9 L39.4,268.8 L40.2,267.6 L40.9,266.6 L41.6,265.4 L42.4,264.3 L43.1,263.2 L43.9,262.2 L44.6,261.5 L45.3,261.0 L46.1,260.6 L46.8,260.3 L47.5,260.0 L48.3,259.7 L49.0,259.5 L49.7,259.3 L50.5,259.1 L51.2,258.8 L51.9,258.6 L52.7,258.3 L53.4,258.1 L54.2,257.8 L54.9,257.5 L55.6,257.2 L56.4,256.9 L57.1,256.6 L57.8,256.2 L58.6,255.9 L59.3,255.6 L60.0,255.3 L60.8,255.0 L61.5,254.7 L62.3,254.4 L63.0,254.1 L63.7,253.8 L64.5,253.4 L65.2,253.1 L65.9,252.8 L66.7,252.5 L67.4,252.2 L68.1,251.8 L68.9,251.5 L69.6,251.2 L70.4,250.9 L71.1,250.5 L71.8,250.2 L72.6,249.9 L73.3,249.6 L74.0,249.2 L74.8,248.9 L75.5,248.6 L76.2,248.2 L77.0,247.9 L77.7,247.6 L78.4,247.3 L79.2,246.9 L79.9,246.6 L80.7,246.3 L81.4,246.0 L82.1,245.6 L82.9,245.3 L83.6,245.0 L84.3,244.7 L85.1,244.4 L85.8,244.0 L86.5,243.7 L87.3,243.4 L88.0,243.1 L88.8,242.7 L89.5,242.4 L90.2,242.1 L91.0,241.8 L91.7,241.5 L92.4,241.1 L93.2,240.8 L93.9,240.5 L94.6,240.2 L95.4,239.9 L96.1,239.6 L96.9,239.3 L97.6,239.0 L98.3,238.7 L99.1,238.3 L99.8,238.0 L100.5,237.7 L101.3,237.4 L102.0,237.1 L102.7,236.8 L103.5,236.5 L104.2,236.2 L104.9,235.9 L105.7,235.6 L106.4,235.3 L107.2,235.0 L107.9,234.7 L108.6,234.4 L109.4,234.1 L110.1,233.8 L110.8,233.5 L111.6,233.2 L112.3,232.9 L113.0,232.6 L113.8,232.3 L114.5,232.0 L115.3,231.7 L116.0,231.4 L116.7,231.1 L117.5,230.8 L118.2,230.5 L118.9,230.2 L119.7,229.8 L120.4,229.5 L121.1,229.2 L121.9,228.8 L122.6,228.5 L123.4,228.2 L124.1,227.8 L124.8,227.4 L125.6,227.1 L126.3,226.7 L127.0,226.3 L127.8,225.9 L128.5,225.5 L129.2,225.1 L130.0,224.6 L130.7,224.2 L131.4,223.7 L132.2,223.2 L132.9,222.7 L133.7,222.3 L134.4,221.8 L135.1,221.4 L135.9,220.9 L136.6,220.2 L137.3,219.4 L138.1,218.1 L138.8,216.4 L139.5,214.5 L140.3,212.2 L141.0,209.5 L145.2,209.5" fill="none" stroke="#ffcb9a" stroke-width="1.5" stroke-linejoin="round" stroke-linecap="round"/>
<path d="M38.7,212.1 L39.6,225.4 L40.5,229.0 L41.4,231.2 L42.3,232.4 L43.2,232.9 L44.1,233.4 L45.0,233.7 L45.9,234.0 L46.8,234.3 L47.7,234.7 L48.6,235.1 L49.5,235.5 L50.4,236.0 L51.3,236.5 L52.2,236.9 L53.1,237.3 L54.0,237.7 L54.9,238.1 L55.8,238.4 L56.7,238.7 L57.6,238.9 L58.5,239.2 L59.4,239.4 L60.3,239.6 L61.2,239.8 L62.1,240.0 L63.0,240.2 L63.9,240.4 L64.8,240.6 L65.7,240.9 L66.5,241.1 L67.4,241.3 L68.3,241.6 L69.2,241.9 L70.1,242.1 L71.0,242.4 L71.9,242.7 L72.8,243.0 L73.7,243.3 L74.6,243.6 L75.5,243.9 L76.4,244.3 L77.3,244.6 L78.2,244.9 L79.1,245.2 L80.0,245.6 L80.9,245.9 L81.8,246.3 L82.7,246.6 L83.6,247.0 L84.5,247.3 L85.4,247.7 L86.3,248.1 L87.2,248.5 L88.1,248.9 L89.0,249.3 L89.9,249.7 L90.8,250.1 L91.7,250.5 L92.6,250.9 L93.5,251.3 L94.4,251.7 L95.3,252.1 L96.2,252.6 L97.1,253.0 L98.0,253.4 L98.9,253.8 L99.8,254.2 L100.7,254.7 L101.6,255.1 L102.5,255.5 L103.4,255.9 L104.3,256.3 L105.2,256.7 L106.1,257.2 L107.0,257.6 L107.9,258.0 L108.8,258.3 L109.7,258.7 L110.6,259.1 L111.5,259.5 L112.4,259.8 L113.3,260.1 L114.2,260.5 L115.1,260.8 L116.0,261.1 L116.9,261.4 L117.8,261.7 L118.7,262.1 L119.6,262.4 L120.5,262.7 L121.3,263.0 L122.2,263.4 L123.1,263.7 L124.0,264.1 L124.9,264.4 L125.8,264.8 L126.7,265.2 L127.6,265.7 L128.5,266.1 L129.4,266.6 L130.3,267.1 L131.2,267.6 L132.1,268.1 L133.0,268.7 L133.9,269.3 L134.8,270.0 L135.7,270.7 L136.6,271.4 L137.5,272.2 L138.4,273.0 L139.3,273.8 L140.2,274.7 L141.1,275.7 L142.0,276.7 L142.9,278.0 L143.8,279.3 L144.7,280.6 L145.6,282.0 L146.5,283.4 L146.6,283.6 L146.7,283.7 L146.8,283.9 L146.9,284.1 L147.0,284.2 L147.1,284.4 L147.2,284.5 L147.3,284.7 L147.4,284.9 L147.5,285.0 L147.6,285.2 L147.7,285.4 L147.8,285.5 L147.8,285.7 L147.9,285.9 L148.0,286.1 L148.1,286.2 L148.2,286.4 L148.3,286.6 L148.4,286.8 L148.5,287.0 L148.6,287.2 L148.7,287.4 L148.8,287.6 L148.9,287.8 L149.0,288.0 L149.1,288.2 L149.2,288.4 L149.3,288.6 L149.4,288.8 L149.5,289.0 L149.6,289.3 L149.7,289.5 L149.8,289.7 L149.9,290.0 L150.0,290.2 L150.1,290.5 L150.2,290.7 L150.3,291.0 L150.3,291.3 L150.4,291.6 L150.5,291.9 L150.6,292.2 L150.7,292.6 L150.8,292.9 L150.9,293.2 L151.0,293.6 L151.1,294.0 L151.2,294.4 L151.3,294.9 L151.4,295.4 L151.5,296.0 L151.6,296.6 L151.7,297.3 L151.8,298.3 L151.9,299.4 L152.0,300.6 L152.1,301.9 L152.2,303.3" fill="none" stroke="#ffbd82" stroke-width="1.5" stroke-linejoin="round" stroke-linecap="round"/>
<path d="M38.7,269.9 L39.5,268.8 L40.3,267.6 L41.1,266.6 L41.9,265.5 L42.7,264.4 L43.4,263.4 L44.2,262.5 L45.0,261.8 L45.8,261.3 L46.6,260.9 L47.4,260.6 L48.2,260.3 L49.0,260.0 L49.8,259.8 L50.6,259.5 L51.4,259.3 L52.1,259.1 L52.9,258.9 L53.7,258.6 L54.5,258.3 L55.3,258.0 L56.1,257.7 L56.9,257.4 L57.7,257.1 L58.5,256.8 L59.3,256.5 L60.1,256.2 L60.8,255.9 L61.6,255.6 L62.4,255.3 L63.2,255.0 L64.0,254.6 L64.8,254.3 L65.6,254.0 L66.4,253.7 L67.2,253.4 L68.0,253.1 L68.8,252.7 L69.5,252.4 L70.3,252.1 L71.1,251.8 L71.9,251.5 L72.7,251.1 L73.5,250.8 L74.3,250.5 L75.1,250.1 L75.9,249.8 L76.7,249.5 L77.5,249.2 L78.2,248.8 L79.0,248.5 L79.8,248.2 L80.6,247.9 L81.4,247.5 L82.2,247.2 L83.0,246.9 L83.8,246.6 L84.6,246.2 L85.4,245.9 L86.2,245.6 L86.9,245.3 L87.7,244.9 L88.5,244.6 L89.3,244.3 L90.1,244.0 L90.9,243.6 L91.7,243.3 L92.5,243.0 L93.3,242.7 L94.1,242.4 L94.9,242.0 L95.6,241.7 L96.4,241.4 L97.2,241.1 L98.0,240.8 L98.8,240.5 L99.6,240.1 L100.4,239.8 L101.2,239.5 L102.0,239.2 L102.8,238.9 L103.6,238.6 L104.3,238.3 L105.1,238.0 L105.9,237.7 L106.7,237.4 L107.5,237.1 L108.3,236.8 L109.1,236.5 L109.9,236.2 L110.7,235.9 L111.5,235.6 L112.3,235.3 L113.0,235.0 L113.8,234.7 L114.6,234.4 L115.4,234.1 L116.2,233.8 L117.0,233.5 L117.8,233.2 L118.6,232.9 L119.4,232.6 L120.2,232.3 L121.0,232.0 L121.7,231.7 L122.5,231.4 L123.3,231.0 L124.1,230.7 L124.9,230.4 L125.7,230.1 L126.5,229.8 L127.3,229.4 L128.1,229.1 L128.9,228.8 L129.7,228.4 L130.4,228.1 L131.2,227.7 L132.0,227.3 L132.8,227.0 L133.6,226.6 L134.4,226.2 L135.2,225.8 L136.0,225.4 L136.8,224.9 L137.6,224.5 L138.4,224.0 L139.1,223.5 L139.9,223.0 L140.7,222.5 L141.5,222.0 L142.3,221.5 L143.1,221.0 L143.9,220.3 L144.7,219.4 L145.5,218.0 L146.3,216.4 L147.1,214.5 L147.8,212.2 L148.6,209.5 L155.4,209.5" fill="none" stroke="#ffbd82" stroke-width="1.5" stroke-linejoin="round" stroke-linecap="round"/>
<path d="M38.7,212.1 L39.6,224.3 L40.6,227.9 L41.5,230.2 L42.5,231.4 L43.4,232.0 L44.4,232.4 L45.3,232.7 L46.3,233.0 L47.2,233.4 L48.2,233.8 L49.1,234.2 L50.1,234.7 L51.0,235.1 L52.0,235.6 L52.9,236.1 L53.9,236.5 L54.8,236.9 L55.8,237.3 L56.7,237.6 L57.7,237.9 L58.6,238.2 L59.6,238.4 L60.5,238.7 L61.5,238.9 L62.4,239.1 L63.4,239.4 L64.3,239.6 L65.3,239.8 L66.2,240.0 L67.2,240.2 L68.1,240.5 L69.1,240.7 L70.0,241.0 L71.0,241.3 L71.9,241.6 L72.9,241.9 L73.8,242.2 L74.8,242.5 L75.7,242.8 L76.7,243.1 L77.6,243.4 L78.6,243.7 L79.5,244.0 L80.5,244.4 L81.4,244.7 L82.4,245.1 L83.3,245.4 L84.3,245.7 L85.2,246.1 L86.2,246.5 L87.1,246.8 L88.1,247.2 L89.0,247.6 L90.0,248.0 L90.9,248.4 L91.8,248.8 L92.8,249.2 L93.7,249.6 L94.7,250.0 L95.6,250.4 L96.6,250.8 L97.5,251.2 L98.5,251.6 L99.4,252.0 L100.4,252.4 L101.3,252.9 L102.3,253.3 L103.2,253.7 L104.2,254.1 L105.1,254.5 L106.1,255.0 L107.0,255.4 L108.0,255.8 L108.9,256.2 L109.9,256.6 L110.8,257.0 L111.8,257.4 L112.7,257.8 L113.7,258.2 L114.6,258.6 L115.6,258.9 L116.5,259.3 L117.5,259.6 L118.4,260.0 L119.4,260.3 L120.3,260.7 L121.3,261.0 L122.2,261.3 L123.2,261.6 L124.1,262.0 L125.1,262.3 L126.0,262.6 L127.0,263.0 L127.9,263.4 L128.9,263.7 L129.8,264.1 L130.8,264.5 L131.7,264.9 L132.7,265.3 L133.6,265.8 L134.6,266.2 L135.5,266.7 L136.5,267.2 L137.4,267.7 L138.4,268.3 L139.3,268.9 L140.3,269.5 L141.2,270.1 L142.2,270.8 L143.1,271.5 L144.0,272.2 L145.0,273.0 L145.9,273.8 L146.9,274.6 L147.8,275.6 L148.8,276.7 L149.7,277.9 L150.7,279.2 L151.6,280.5 L152.6,282.0 L152.7,282.1 L152.8,282.3 L152.9,282.4 L153.0,282.6 L153.1,282.8 L153.2,282.9 L153.3,283.1 L153.4,283.3 L153.5,283.5 L153.6,283.6 L153.7,283.8 L153.8,284.0 L153.9,284.1 L154.0,284.3 L154.1,284.5 L154.2,284.7 L154.3,284.9 L154.4,285.0 L154.5,285.2 L154.6,285.4 L154.7,285.6 L154.8,285.8 L154.9,286.0 L155.0,286.2 L155.1,286.5 L155.2,286.7 L155.3,286.9 L155.4,287.1 L155.5,287.3 L155.6,287.5 L155.7,287.8 L155.8,288.0 L155.9,288.2 L156.0,288.5 L156.1,288.7 L156.2,289.0 L156.4,289.3 L156.5,289.5 L156.6,289.8 L156.7,290.1 L156.8,290.5 L156.9,290.8 L157.0,291.1 L157.1,291.5 L157.2,291.8 L157.3,292.2 L157.4,292.6 L157.5,293.1 L157.6,293.6 L157.7,294.1 L157.8,294.6 L157.9,295.3 L158.0,295.9 L158.1,296.7 L158.2,297.8 L158.3,299.0 L158.4,300.4 L158.5,301.8 L158.6,303.3" fill="none" stroke="#ffae66" stroke-width="1.5" stroke-linejoin="round" stroke-linecap="round"/>
<path d="M38.7,269.9 L39.6,268.7 L40.5,267.6 L41.4,266.6 L42.2,265.6 L43.1,264.6 L44.0,263.7 L44.9,262.9 L45.8,262.3 L46.7,261.8 L47.5,261.5 L48.4,261.1 L49.3,260.8 L50.2,260.6 L51.1,260.3 L52.0,260.1 L52.8,259.9 L53.7,259.6 L54.6,259.4 L55.5,259.1 L56.4,258.8 L57.3,258.5 L58.1,258.2 L59.0,257.9 L59.9,257.6 L60.8,257.3 L61.7,257.0 L62.6,256.7 L63.4,256.4 L64.3,256.1 L65.2,255.8 L66.1,255.5 L67.0,255.2 L67.9,254.9 L68.7,254.5 L69.6,254.2 L70.5,253.9 L71.4,253.6 L72.3,253.3 L73.2,252.9 L74.0,252.6 L74.9,252.3 L75.8,252.0 L76.7,251.6 L77.6,251.3 L78.5,251.0 L79.3,250.7 L80.2,250.3 L81.1,250.0 L82.0,249.7 L82.9,249.4 L83.8,249.0 L84.6,248.7 L85.5,248.4 L86.4,248.0 L87.3,247.7 L88.2,247.4 L89.1,247.1 L90.0,246.8 L90.8,246.4 L91.7,246.1 L92.6,245.8 L93.5,245.5 L94.4,245.1 L95.3,244.8 L96.1,244.5 L97.0,244.2 L97.9,243.8 L98.8,243.5 L99.7,243.2 L100.6,242.9 L101.4,242.6 L102.3,242.2 L103.2,241.9 L104.1,241.6 L105.0,241.3 L105.9,241.0 L106.7,240.7 L107.6,240.4 L108.5,240.1 L109.4,239.7 L110.3,239.4 L111.2,239.1 L112.0,238.8 L112.9,238.5 L113.8,238.2 L114.7,237.9 L115.6,237.6 L116.5,237.3 L117.3,237.0 L118.2,236.7 L119.1,236.4 L120.0,236.1 L120.9,235.8 L121.8,235.5 L122.6,235.2 L123.5,234.9 L124.4,234.6 L125.3,234.3 L126.2,234.0 L127.1,233.7 L127.9,233.4 L128.8,233.1 L129.7,232.8 L130.6,232.5 L131.5,232.2 L132.4,231.9 L133.2,231.6 L134.1,231.3 L135.0,230.9 L135.9,230.6 L136.8,230.3 L137.7,230.0 L138.6,229.6 L139.4,229.3 L140.3,228.9 L141.2,228.6 L142.1,228.2 L143.0,227.9 L143.9,227.5 L144.7,227.1 L145.6,226.7 L146.5,226.3 L147.4,225.9 L148.3,225.4 L149.2,225.0 L150.0,224.5 L150.9,224.0 L151.8,223.5 L152.7,223.0 L153.6,222.4 L154.5,221.8 L155.3,221.1 L156.2,220.3 L157.1,219.3 L158.0,218.0 L158.9,216.4 L159.8,214.5 L160.6,212.2 L161.5,209.5 L167.6,209.5" fill="none" stroke="#ffae66" stroke-width="1.5" stroke-linejoin="round" stroke-linecap="round"/>
<path d="M38.7,212.1 L39.7,223.2 L40.8,226.9 L41.8,229.2 L42.9,230.4 L43.9,231.0 L44.9,231.5 L46.0,231.8 L47.0,232.1 L48.1,232.4 L49.1,232.9 L50.2,233.3 L51.2,233.8 L52.2,234.3 L53.3,234.8 L54.3,235.2 L55.4,235.7 L56.4,236.1 L57.4,236.5 L58.5,236.8 L59.5,237.1 L60.6,237.4 L61.6,237.7 L62.7,238.0 L63.7,238.2 L64.7,238.4 L65.8,238.7 L66.8,238.9 L67.9,239.1 L68.9,239.4 L69.9,239.6 L71.0,239.9 L72.0,240.1 L73.1,240.4 L74.1,240.7 L75.2,241.0 L76.2,241.3 L77.2,241.6 L78.3,241.9 L79.3,242.2 L80.4,242.5 L81.4,242.9 L82.4,243.2 L83.5,243.5 L84.5,243.8 L85.6,244.2 L86.6,244.5 L87.7,244.9 L88.7,245.2 L89.7,245.6 L90.8,245.9 L91.8,246.3 L92.9,246.7 L93.9,247.1 L94.9,247.5 L96.0,247.9 L97.0,248.3 L98.1,248.7 L99.1,249.1 L100.2,249.5 L101.2,249.9 L102.2,250.3 L103.3,250.7 L104.3,251.1 L105.4,251.5 L106.4,251.9 L107.4,252.3 L108.5,252.8 L109.5,253.2 L110.6,253.6 L111.6,254.0 L112.7,254.4 L113.7,254.8 L114.7,255.3 L115.8,255.7 L116.8,256.1 L117.9,256.5 L118.9,256.9 L119.9,257.3 L121.0,257.7 L122.0,258.1 L123.1,258.5 L124.1,258.8 L125.2,259.2 L126.2,259.5 L127.2,259.9 L128.3,260.3 L129.3,260.6 L130.4,261.0 L131.4,261.3 L132.4,261.7 L133.5,262.0 L134.5,262.4 L135.6,262.7 L136.6,263.1 L137.7,263.5 L138.7,263.9 L139.7,264.3 L140.8,264.7 L141.8,265.1 L142.9,265.5 L143.9,266.0 L144.9,266.4 L146.0,266.9 L147.0,267.4 L148.1,267.9 L149.1,268.4 L150.2,268.9 L151.2,269.4 L152.2,270.0 L153.3,270.6 L154.3,271.2 L155.4,271.9 L156.4,272.6 L157.4,273.3 L158.5,274.1 L159.5,275.0 L160.6,276.0 L161.6,277.1 L162.7,278.4 L163.7,279.8 L163.8,280.0 L163.9,280.2 L164.0,280.3 L164.1,280.5 L164.3,280.7 L164.4,280.8 L164.5,281.0 L164.6,281.2 L164.7,281.3 L164.8,281.5 L164.9,281.7 L165.0,281.9 L165.1,282.1 L165.3,282.2 L165.4,282.4 L165.5,282.6 L165.6,282.8 L165.7,283.0 L165.8,283.2 L165.9,283.4 L166.0,283.6 L166.1,283.8 L166.3,284.0 L166.4,284.2 L166.5,284.5 L166.6,284.7 L166.7,284.9 L166.8,285.1 L166.9,285.3 L167.0,285.6 L167.2,285.8 L167.3,286.1 L167.4,286.3 L167.5,286.6 L167.6,286.8 L167.7,287.1 L167.8,287.4 L167.9,287.7 L168.0,288.0 L168.2,288.3 L168.3,288.7 L168.4,289.0 L168.5,289.4 L168.6,289.8 L168.7,290.2 L168.8,290.7 L168.9,291.1 L169.0,291.6 L169.2,292.2 L169.3,292.8 L169.4,293.4 L169.5,294.1 L169.6,294.9 L169.7,295.8 L169.8,297.0 L169.9,298.4 L170.0,299.9" fill="none" stroke="#ff9f4a" stroke-width="1.8" stroke-linejoin="round" stroke-linecap="round"/>
<path d="M38.7,269.9 L39.7,268.7 L40.7,267.5 L41.7,266.6 L42.6,265.8 L43.6,265.1 L44.6,264.4 L45.6,263.8 L46.6,263.3 L47.6,262.9 L48.6,262.5 L49.6,262.2 L50.5,261.9 L51.5,261.7 L52.5,261.4 L53.5,261.2 L54.5,260.9 L55.5,260.7 L56.5,260.4 L57.5,260.2 L58.4,259.9 L59.4,259.6 L60.4,259.3 L61.4,259.0 L62.4,258.7 L63.4,258.4 L64.4,258.1 L65.4,257.8 L66.3,257.5 L67.3,257.1 L68.3,256.8 L69.3,256.5 L70.3,256.2 L71.3,255.9 L72.3,255.6 L73.3,255.3 L74.2,254.9 L75.2,254.6 L76.2,254.3 L77.2,254.0 L78.2,253.7 L79.2,253.3 L80.2,253.0 L81.2,252.7 L82.1,252.4 L83.1,252.0 L84.1,251.7 L85.1,251.4 L86.1,251.1 L87.1,250.7 L88.1,250.4 L89.0,250.1 L90.0,249.7 L91.0,249.4 L92.0,249.1 L93.0,248.8 L94.0,248.4 L95.0,248.1 L96.0,247.8 L96.9,247.5 L97.9,247.1 L98.9,246.8 L99.9,246.5 L100.9,246.2 L101.9,245.9 L102.9,245.5 L103.9,245.2 L104.8,244.9 L105.8,244.6 L106.8,244.2 L107.8,243.9 L108.8,243.6 L109.8,243.3 L110.8,243.0 L111.8,242.7 L112.7,242.3 L113.7,242.0 L114.7,241.7 L115.7,241.4 L116.7,241.1 L117.7,240.8 L118.7,240.5 L119.7,240.2 L120.6,239.9 L121.6,239.6 L122.6,239.3 L123.6,238.9 L124.6,238.6 L125.6,238.3 L126.6,238.0 L127.6,237.7 L128.5,237.4 L129.5,237.1 L130.5,236.8 L131.5,236.5 L132.5,236.2 L133.5,235.9 L134.5,235.6 L135.5,235.4 L136.4,235.1 L137.4,234.8 L138.4,234.5 L139.4,234.2 L140.4,233.8 L141.4,233.5 L142.4,233.2 L143.3,232.9 L144.3,232.6 L145.3,232.3 L146.3,232.0 L147.3,231.7 L148.3,231.3 L149.3,231.0 L150.3,230.7 L151.2,230.3 L152.2,230.0 L153.2,229.6 L154.2,229.3 L155.2,228.9 L156.2,228.5 L157.2,228.1 L158.2,227.8 L159.1,227.3 L160.1,226.9 L161.1,226.5 L162.1,226.1 L163.1,225.6 L164.1,225.1 L165.1,224.5 L166.1,223.9 L167.0,223.1 L168.0,222.3 L169.0,221.4 L170.0,220.4 L171.0,219.3 L172.0,217.9 L173.0,216.4 L174.0,214.5 L174.9,212.2 L175.9,209.5 L180.5,209.5" fill="none" stroke="#ff9f4a" stroke-width="1.8" stroke-linejoin="round" stroke-linecap="round"/>
<path d="M38.7,212.1 L39.9,221.6 L41.0,225.4 L42.2,227.7 L43.3,228.9 L44.5,229.5 L45.6,230.0 L46.8,230.3 L47.9,230.7 L49.1,231.0 L50.2,231.4 L51.4,231.9 L52.5,232.4 L53.7,232.9 L54.8,233.4 L56.0,233.9 L57.1,234.4 L58.3,234.8 L59.4,235.2 L60.6,235.5 L61.7,235.9 L62.9,236.2 L64.0,236.4 L65.2,236.7 L66.3,237.0 L67.5,237.2 L68.6,237.5 L69.8,237.7 L70.9,238.0 L72.1,238.2 L73.2,238.5 L74.4,238.7 L75.5,239.0 L76.7,239.3 L77.8,239.6 L79.0,239.9 L80.1,240.2 L81.3,240.5 L82.4,240.8 L83.6,241.2 L84.7,241.5 L85.9,241.8 L87.0,242.1 L88.2,242.5 L89.3,242.8 L90.5,243.1 L91.6,243.5 L92.8,243.8 L93.9,244.2 L95.1,244.5 L96.2,244.9 L97.4,245.3 L98.5,245.7 L99.7,246.0 L100.8,246.4 L102.0,246.8 L103.1,247.2 L104.3,247.6 L105.4,248.0 L106.6,248.4 L107.7,248.8 L108.9,249.2 L110.0,249.6 L111.2,250.1 L112.3,250.5 L113.5,250.9 L114.6,251.3 L115.8,251.7 L116.9,252.1 L118.1,252.5 L119.2,253.0 L120.4,253.4 L121.5,253.8 L122.7,254.2 L123.8,254.6 L125.0,255.0 L126.1,255.4 L127.3,255.9 L128.4,256.3 L129.6,256.7 L130.7,257.0 L131.9,257.4 L133.0,257.8 L134.2,258.2 L135.3,258.6 L136.5,258.9 L137.6,259.3 L138.8,259.7 L139.9,260.0 L141.1,260.4 L142.2,260.8 L143.4,261.1 L144.5,261.5 L145.7,261.9 L146.8,262.2 L148.0,262.6 L149.1,263.0 L150.3,263.4 L151.4,263.8 L152.6,264.2 L153.7,264.7 L154.9,265.1 L156.0,265.5 L157.2,266.0 L158.3,266.4 L159.5,266.9 L160.6,267.3 L161.8,267.8 L162.9,268.3 L164.1,268.8 L165.2,269.3 L166.4,269.9 L167.5,270.5 L168.7,271.1 L169.8,271.8 L171.0,272.5 L172.1,273.2 L173.3,274.1 L174.4,275.1 L175.6,276.4 L176.7,277.9 L176.9,278.1 L177.0,278.3 L177.1,278.5 L177.2,278.6 L177.3,278.8 L177.5,279.0 L177.6,279.2 L177.7,279.3 L177.8,279.5 L178.0,279.7 L178.1,279.9 L178.2,280.1 L178.3,280.3 L178.5,280.5 L178.6,280.7 L178.7,280.9 L178.8,281.1 L178.9,281.3 L179.1,281.5 L179.2,281.7 L179.3,281.9 L179.4,282.1 L179.6,282.4 L179.7,282.6 L179.8,282.8 L179.9,283.1 L180.1,283.3 L180.2,283.5 L180.3,283.8 L180.4,284.0 L180.5,284.3 L180.7,284.5 L180.8,284.8 L180.9,285.1 L181.0,285.3 L181.2,285.6 L181.3,285.9 L181.4,286.3 L181.5,286.6 L181.7,287.0 L181.8,287.3 L181.9,287.7 L182.0,288.1 L182.1,288.5 L182.3,289.0 L182.4,289.5 L182.5,290.0 L182.6,290.6 L182.8,291.2 L182.9,291.8 L183.0,292.5 L183.1,293.3 L183.3,294.1 L183.4,295.2 L183.5,296.4 L183.6,298.0 L183.7,299.6 L183.9,301.4 L184.0,303.3" fill="none" stroke="#ff9030" stroke-width="1.8" stroke-linejoin="round" stroke-linecap="round"/>
<path d="M38.7,269.9 L39.7,268.7 L40.7,267.5 L41.8,266.6 L42.8,265.9 L43.8,265.3 L44.8,264.7 L45.8,264.2 L46.8,263.8 L47.9,263.4 L48.9,263.1 L49.9,262.8 L50.9,262.5 L51.9,262.2 L52.9,262.0 L54.0,261.7 L55.0,261.5 L56.0,261.2 L57.0,261.0 L58.0,260.7 L59.0,260.4 L60.1,260.1 L61.1,259.8 L62.1,259.5 L63.1,259.2 L64.1,258.9 L65.1,258.6 L66.2,258.3 L67.2,258.0 L68.2,257.7 L69.2,257.4 L70.2,257.0 L71.2,256.7 L72.3,256.4 L73.3,256.1 L74.3,255.8 L75.3,255.5 L76.3,255.2 L77.3,254.8 L78.4,254.5 L79.4,254.2 L80.4,253.9 L81.4,253.5 L82.4,253.2 L83.5,252.9 L84.5,252.6 L85.5,252.2 L86.5,251.9 L87.5,251.6 L88.5,251.2 L89.6,250.9 L90.6,250.6 L91.6,250.3 L92.6,249.9 L93.6,249.6 L94.6,249.3 L95.7,249.0 L96.7,248.6 L97.7,248.3 L98.7,248.0 L99.7,247.7 L100.7,247.3 L101.8,247.0 L102.8,246.7 L103.8,246.4 L104.8,246.0 L105.8,245.7 L106.8,245.4 L107.9,245.1 L108.9,244.8 L109.9,244.4 L110.9,244.1 L111.9,243.8 L112.9,243.5 L114.0,243.2 L115.0,242.9 L116.0,242.5 L117.0,242.2 L118.0,241.9 L119.0,241.6 L120.1,241.3 L121.1,241.0 L122.1,240.7 L123.1,240.4 L124.1,240.1 L125.2,239.8 L126.2,239.5 L127.2,239.2 L128.2,238.9 L129.2,238.6 L130.2,238.3 L131.3,238.0 L132.3,237.7 L133.3,237.4 L134.3,237.1 L135.3,236.8 L136.3,236.5 L137.4,236.2 L138.4,235.9 L139.4,235.6 L140.4,235.3 L141.4,235.0 L142.4,234.7 L143.5,234.4 L144.5,234.1 L145.5,233.7 L146.5,233.4 L147.5,233.1 L148.5,232.8 L149.6,232.5 L150.6,232.2 L151.6,231.9 L152.6,231.5 L153.6,231.2 L154.6,230.8 L155.7,230.5 L156.7,230.1 L157.7,229.8 L158.7,229.4 L159.7,229.1 L160.8,228.7 L161.8,228.3 L162.8,227.9 L163.8,227.4 L164.8,227.0 L165.8,226.6 L166.9,226.2 L167.9,225.6 L168.9,225.0 L169.9,224.3 L170.9,223.5 L171.9,222.6 L173.0,221.5 L174.0,220.4 L175.0,219.2 L176.0,217.9 L177.0,216.3 L178.0,214.5 L179.1,212.2 L180.1,209.5 L184.6,209.5" fill="none" stroke="#ff9030" stroke-width="1.8" stroke-linejoin="round" stroke-linecap="round"/>
<path d="M38.7,212.1 L39.9,221.1 L41.1,224.9 L42.2,227.2 L43.4,228.4 L44.6,229.0 L45.8,229.5 L47.0,229.9 L48.1,230.2 L49.3,230.5 L50.5,231.0 L51.7,231.5 L52.9,232.0 L54.0,232.5 L55.2,233.0 L56.4,233.5 L57.6,233.9 L58.8,234.4 L59.9,234.8 L61.1,235.1 L62.3,235.5 L63.5,235.8 L64.7,236.1 L65.8,236.4 L67.0,236.6 L68.2,236.9 L69.4,237.1 L70.6,237.4 L71.7,237.6 L72.9,237.9 L74.1,238.2 L75.3,238.4 L76.5,238.7 L77.6,239.0 L78.8,239.3 L80.0,239.6 L81.2,239.9 L82.4,240.2 L83.5,240.6 L84.7,240.9 L85.9,241.2 L87.1,241.5 L88.3,241.9 L89.4,242.2 L90.6,242.5 L91.8,242.9 L93.0,243.2 L94.2,243.6 L95.3,243.9 L96.5,244.3 L97.7,244.6 L98.9,245.0 L100.1,245.4 L101.2,245.8 L102.4,246.2 L103.6,246.6 L104.8,247.0 L106.0,247.4 L107.1,247.8 L108.3,248.2 L109.5,248.6 L110.7,249.0 L111.9,249.4 L113.0,249.8 L114.2,250.2 L115.4,250.6 L116.6,251.0 L117.8,251.4 L118.9,251.9 L120.1,252.3 L121.3,252.7 L122.5,253.1 L123.7,253.5 L124.8,254.0 L126.0,254.4 L127.2,254.8 L128.4,255.2 L129.6,255.6 L130.7,256.0 L131.9,256.4 L133.1,256.8 L134.3,257.2 L135.5,257.6 L136.6,257.9 L137.8,258.3 L139.0,258.7 L140.2,259.1 L141.4,259.4 L142.5,259.8 L143.7,260.2 L144.9,260.5 L146.1,260.9 L147.3,261.3 L148.4,261.7 L149.6,262.0 L150.8,262.4 L152.0,262.8 L153.2,263.2 L154.4,263.6 L155.5,264.0 L156.7,264.5 L157.9,264.9 L159.1,265.3 L160.3,265.8 L161.4,266.2 L162.6,266.6 L163.8,267.1 L165.0,267.5 L166.2,268.0 L167.3,268.5 L168.5,269.0 L169.7,269.5 L170.9,270.1 L172.1,270.7 L173.2,271.3 L174.4,272.0 L175.6,272.7 L176.8,273.6 L178.0,274.6 L179.1,275.8 L180.3,277.4 L180.4,277.5 L180.6,277.7 L180.7,277.9 L180.8,278.1 L180.9,278.3 L181.1,278.4 L181.2,278.6 L181.3,278.8 L181.4,279.0 L181.6,279.2 L181.7,279.4 L181.8,279.6 L182.0,279.7 L182.1,279.9 L182.2,280.1 L182.3,280.3 L182.5,280.6 L182.6,280.8 L182.7,281.0 L182.8,281.2 L183.0,281.4 L183.1,281.6 L183.2,281.9 L183.3,282.1 L183.5,282.3 L183.6,282.6 L183.7,282.8 L183.8,283.1 L184.0,283.3 L184.1,283.5 L184.2,283.8 L184.4,284.1 L184.5,284.3 L184.6,284.6 L184.7,284.9 L184.9,285.2 L185.0,285.5 L185.1,285.8 L185.2,286.2 L185.4,286.5 L185.5,286.9 L185.6,287.3 L185.7,287.7 L185.9,288.1 L186.0,288.6 L186.1,289.1 L186.2,289.6 L186.4,290.2 L186.5,290.8 L186.6,291.5 L186.8,292.3 L186.9,293.0 L187.0,293.9 L187.1,294.9 L187.3,296.3 L187.4,297.8 L187.5,299.5 L187.6,301.4 L187.8,303.3" fill="none" stroke="#ff8418" stroke-width="1.8" stroke-linejoin="round" stroke-linecap="round"/>
<path d="M38.7,269.9 L39.7,268.6 L40.8,267.5 L41.8,266.6 L42.9,266.0 L43.9,265.4 L44.9,264.9 L46.0,264.5 L47.0,264.1 L48.0,263.7 L49.1,263.4 L50.1,263.1 L51.2,262.8 L52.2,262.5 L53.2,262.2 L54.3,262.0 L55.3,261.7 L56.4,261.5 L57.4,261.2 L58.4,260.9 L59.5,260.7 L60.5,260.4 L61.5,260.1 L62.6,259.8 L63.6,259.5 L64.7,259.2 L65.7,258.9 L66.7,258.5 L67.8,258.2 L68.8,257.9 L69.8,257.6 L70.9,257.3 L71.9,257.0 L73.0,256.7 L74.0,256.4 L75.0,256.0 L76.1,255.7 L77.1,255.4 L78.2,255.1 L79.2,254.8 L80.2,254.4 L81.3,254.1 L82.3,253.8 L83.3,253.5 L84.4,253.1 L85.4,252.8 L86.5,252.5 L87.5,252.2 L88.5,251.8 L89.6,251.5 L90.6,251.2 L91.7,250.8 L92.7,250.5 L93.7,250.2 L94.8,249.9 L95.8,249.5 L96.8,249.2 L97.9,248.9 L98.9,248.6 L100.0,248.3 L101.0,247.9 L102.0,247.6 L103.1,247.3 L104.1,247.0 L105.1,246.6 L106.2,246.3 L107.2,246.0 L108.3,245.7 L109.3,245.3 L110.3,245.0 L111.4,244.7 L112.4,244.4 L113.5,244.1 L114.5,243.7 L115.5,243.4 L116.6,243.1 L117.6,242.8 L118.6,242.5 L119.7,242.2 L120.7,241.9 L121.8,241.6 L122.8,241.3 L123.8,241.0 L124.9,240.6 L125.9,240.3 L127.0,240.0 L128.0,239.7 L129.0,239.4 L130.1,239.1 L131.1,238.8 L132.1,238.5 L133.2,238.2 L134.2,237.9 L135.3,237.6 L136.3,237.3 L137.3,237.0 L138.4,236.7 L139.4,236.4 L140.4,236.1 L141.5,235.8 L142.5,235.5 L143.6,235.2 L144.6,234.9 L145.6,234.6 L146.7,234.3 L147.7,234.0 L148.8,233.7 L149.8,233.4 L150.8,233.1 L151.9,232.8 L152.9,232.4 L153.9,232.1 L155.0,231.8 L156.0,231.5 L157.1,231.1 L158.1,230.8 L159.1,230.4 L160.2,230.1 L161.2,229.7 L162.3,229.3 L163.3,228.9 L164.3,228.5 L165.4,228.1 L166.4,227.7 L167.4,227.3 L168.5,226.9 L169.5,226.4 L170.6,225.9 L171.6,225.3 L172.6,224.6 L173.7,223.7 L174.7,222.7 L175.7,221.6 L176.8,220.4 L177.8,219.2 L178.9,217.9 L179.9,216.3 L180.9,214.5 L182.0,212.2 L183.0,209.5 L188.3,209.5" fill="none" stroke="#ff8418" stroke-width="1.8" stroke-linejoin="round" stroke-linecap="round"/>
<path d="M38.7,212.1 L39.9,220.5 L41.2,224.4 L42.4,226.7 L43.7,227.9 L44.9,228.5 L46.1,229.0 L47.4,229.4 L48.6,229.7 L49.9,230.1 L51.1,230.5 L52.3,231.0 L53.6,231.5 L54.8,232.0 L56.1,232.5 L57.3,233.0 L58.5,233.5 L59.8,234.0 L61.0,234.4 L62.3,234.7 L63.5,235.1 L64.7,235.4 L66.0,235.7 L67.2,236.0 L68.5,236.3 L69.7,236.5 L71.0,236.8 L72.2,237.1 L73.4,237.3 L74.7,237.6 L75.9,237.9 L77.2,238.1 L78.4,238.4 L79.6,238.7 L80.9,239.0 L82.1,239.3 L83.4,239.7 L84.6,240.0 L85.8,240.3 L87.1,240.6 L88.3,240.9 L89.6,241.3 L90.8,241.6 L92.0,241.9 L93.3,242.3 L94.5,242.6 L95.8,243.0 L97.0,243.3 L98.2,243.7 L99.5,244.0 L100.7,244.4 L102.0,244.8 L103.2,245.1 L104.4,245.5 L105.7,245.9 L106.9,246.3 L108.2,246.7 L109.4,247.1 L110.6,247.5 L111.9,247.9 L113.1,248.3 L114.4,248.7 L115.6,249.1 L116.8,249.5 L118.1,249.9 L119.3,250.4 L120.6,250.8 L121.8,251.2 L123.0,251.6 L124.3,252.0 L125.5,252.4 L126.8,252.9 L128.0,253.3 L129.2,253.7 L130.5,254.1 L131.7,254.5 L133.0,254.9 L134.2,255.3 L135.5,255.7 L136.7,256.1 L137.9,256.5 L139.2,256.9 L140.4,257.3 L141.7,257.7 L142.9,258.1 L144.1,258.4 L145.4,258.8 L146.6,259.2 L147.9,259.6 L149.1,259.9 L150.3,260.3 L151.6,260.7 L152.8,261.0 L154.1,261.4 L155.3,261.8 L156.5,262.2 L157.8,262.6 L159.0,263.0 L160.3,263.4 L161.5,263.8 L162.7,264.2 L164.0,264.7 L165.2,265.1 L166.5,265.5 L167.7,266.0 L168.9,266.4 L170.2,266.8 L171.4,267.3 L172.7,267.7 L173.9,268.2 L175.1,268.7 L176.4,269.3 L177.6,269.8 L178.9,270.4 L180.1,271.0 L181.3,271.7 L182.6,272.4 L183.8,273.2 L185.1,274.2 L186.3,275.4 L187.5,277.0 L187.7,277.2 L187.8,277.4 L187.9,277.6 L188.1,277.7 L188.2,277.9 L188.3,278.1 L188.5,278.3 L188.6,278.5 L188.7,278.7 L188.9,278.8 L189.0,279.0 L189.1,279.2 L189.3,279.4 L189.4,279.6 L189.5,279.8 L189.7,280.0 L189.8,280.2 L189.9,280.5 L190.1,280.7 L190.2,280.9 L190.3,281.1 L190.5,281.3 L190.6,281.6 L190.7,281.8 L190.9,282.1 L191.0,282.3 L191.1,282.5 L191.3,282.8 L191.4,283.0 L191.5,283.3 L191.7,283.5 L191.8,283.8 L191.9,284.1 L192.1,284.3 L192.2,284.6 L192.3,284.9 L192.5,285.3 L192.6,285.6 L192.7,285.9 L192.9,286.3 L193.0,286.7 L193.1,287.1 L193.3,287.5 L193.4,287.9 L193.5,288.4 L193.7,288.9 L193.8,289.5 L193.9,290.0 L194.1,290.7 L194.2,291.4 L194.3,292.1 L194.5,292.9 L194.6,293.8 L194.7,294.8 L194.9,296.2 L195.0,297.8 L195.1,299.5 L195.2,301.4 L195.4,303.3" fill="none" stroke="#ff7800" stroke-width="1.8" stroke-linejoin="round" stroke-linecap="round"/>
<path d="M38.7,269.9 L39.8,268.6 L40.8,267.5 L41.9,266.7 L43.0,266.0 L44.1,265.5 L45.1,265.1 L46.2,264.7 L47.3,264.3 L48.3,264.0 L49.4,263.6 L50.5,263.3 L51.6,263.0 L52.6,262.8 L53.7,262.5 L54.8,262.3 L55.8,262.0 L56.9,261.7 L58.0,261.5 L59.1,261.2 L60.1,260.9 L61.2,260.6 L62.3,260.3 L63.4,260.0 L64.4,259.7 L65.5,259.4 L66.6,259.1 L67.6,258.8 L68.7,258.5 L69.8,258.2 L70.9,257.9 L71.9,257.6 L73.0,257.2 L74.1,256.9 L75.1,256.6 L76.2,256.3 L77.3,256.0 L78.4,255.7 L79.4,255.4 L80.5,255.0 L81.6,254.7 L82.6,254.4 L83.7,254.1 L84.8,253.7 L85.9,253.4 L86.9,253.1 L88.0,252.7 L89.1,252.4 L90.1,252.1 L91.2,251.8 L92.3,251.4 L93.4,251.1 L94.4,250.8 L95.5,250.5 L96.6,250.1 L97.7,249.8 L98.7,249.5 L99.8,249.2 L100.9,248.8 L101.9,248.5 L103.0,248.2 L104.1,247.9 L105.2,247.5 L106.2,247.2 L107.3,246.9 L108.4,246.6 L109.4,246.2 L110.5,245.9 L111.6,245.6 L112.7,245.3 L113.7,245.0 L114.8,244.6 L115.9,244.3 L116.9,244.0 L118.0,243.7 L119.1,243.4 L120.2,243.1 L121.2,242.8 L122.3,242.4 L123.4,242.1 L124.4,241.8 L125.5,241.5 L126.6,241.2 L127.7,240.9 L128.7,240.6 L129.8,240.3 L130.9,240.0 L132.0,239.7 L133.0,239.4 L134.1,239.1 L135.2,238.8 L136.2,238.5 L137.3,238.2 L138.4,237.9 L139.5,237.6 L140.5,237.3 L141.6,237.0 L142.7,236.7 L143.7,236.4 L144.8,236.1 L145.9,235.8 L147.0,235.5 L148.0,235.2 L149.1,234.9 L150.2,234.6 L151.2,234.3 L152.3,234.0 L153.4,233.6 L154.5,233.3 L155.5,233.0 L156.6,232.7 L157.7,232.4 L158.7,232.0 L159.8,231.7 L160.9,231.4 L162.0,231.0 L163.0,230.7 L164.1,230.3 L165.2,229.9 L166.3,229.6 L167.3,229.2 L168.4,228.8 L169.5,228.4 L170.5,228.0 L171.6,227.6 L172.7,227.1 L173.8,226.7 L174.8,226.2 L175.9,225.6 L177.0,224.8 L178.0,223.9 L179.1,222.8 L180.2,221.7 L181.3,220.5 L182.3,219.2 L183.4,217.9 L184.5,216.3 L185.5,214.5 L186.6,212.2 L187.7,209.5 L193.0,209.5" fill="none" stroke="#ff7800" stroke-width="1.8" stroke-linejoin="round" stroke-linecap="round"/>
</g>
<clipPath id="cc"><rect x="258.2" y="191.8" width="174.8" height="128"/></clipPath>
<g clip-path="url(#cc)">
<path d="M260.6,210.9 L261.5,220.3 L262.4,224.2 L263.3,226.8 L264.2,228.5 L265.1,229.6 L266.0,230.6 L266.9,231.4 L267.8,232.1 L268.7,232.7 L269.6,233.2 L270.6,233.7 L271.5,234.1 L272.4,234.5 L273.3,234.8 L274.2,235.2 L275.1,235.5 L276.0,235.7 L276.9,236.0 L277.8,236.2 L278.7,236.5 L279.6,236.7 L280.5,236.9 L281.4,237.1 L282.3,237.3 L283.2,237.5 L284.1,237.8 L285.0,238.0 L285.9,238.2 L286.8,238.5 L287.7,238.7 L288.6,239.0 L289.6,239.3 L290.5,239.6 L291.4,240.0 L292.3,240.3 L293.2,240.6 L294.1,240.9 L295.0,241.3 L295.9,241.6 L296.8,241.9 L297.7,242.2 L298.6,242.6 L299.5,242.9 L300.4,243.2 L301.3,243.4 L302.2,243.7 L303.1,244.0 L304.0,244.2 L304.9,244.5 L305.8,244.7 L306.7,244.9 L307.6,245.2 L308.6,245.4 L309.5,245.6 L310.4,245.8 L311.3,246.0 L312.2,246.2 L313.1,246.4 L314.0,246.6 L314.9,246.8 L315.8,247.0 L316.7,247.2 L317.6,247.4 L318.5,247.6 L319.4,247.8 L320.3,248.0 L321.2,248.2 L322.1,248.4 L323.0,248.6 L323.9,248.8 L324.8,249.0 L325.7,249.2 L326.7,249.5 L327.6,249.7 L328.5,249.9 L329.4,250.1 L330.3,250.3 L331.2,250.5 L332.1,250.7 L333.0,251.0 L333.9,251.2 L334.8,251.4 L335.7,251.6 L336.6,251.8 L337.5,252.0 L338.4,252.2 L339.3,252.4 L340.2,252.7 L341.1,252.9 L342.0,253.1 L342.9,253.3 L343.8,253.5 L344.7,253.7 L345.7,254.0 L346.6,254.2 L347.5,254.4 L348.4,254.6 L349.3,254.8 L350.2,255.0 L351.1,255.2 L352.0,255.5 L352.9,255.7 L353.8,255.9 L354.7,256.1 L355.6,256.3 L356.5,256.5 L357.4,256.8 L358.3,257.0 L359.2,257.2 L360.1,257.4 L361.0,257.6 L361.9,257.8 L362.8,258.0 L363.7,258.2 L364.7,258.4 L365.6,258.6 L366.5,258.8 L367.4,259.0 L368.3,259.2 L369.2,259.4 L370.1,259.6 L371.0,259.9 L371.9,260.1 L372.8,260.3 L373.7,260.5 L374.6,260.7 L375.5,260.9 L376.4,261.1 L377.3,261.4 L378.2,261.6 L379.1,261.9 L380.0,262.1 L380.9,262.4 L381.8,262.6 L382.7,262.9 L383.7,263.2 L384.6,263.5 L385.5,263.7 L386.4,264.0 L387.3,264.3 L388.2,264.6 L389.1,264.9 L390.0,265.3 L390.9,265.7 L391.8,266.1 L392.7,266.6 L393.6,267.1 L394.5,267.7 L395.4,268.4 L396.3,269.4 L397.2,270.6 L398.1,272.0 L399.0,273.6 L399.9,275.5 L400.8,278.0 L401.7,281.2 L402.7,285.4 L403.6,291.8 L404.5,302.6" fill="none" stroke="#a4a4da" stroke-width="1.9" stroke-linejoin="round" stroke-linecap="round"/>
<path d="M260.6,274.8 L261.6,267.9 L262.6,265.3 L263.6,264.2 L264.6,263.4 L265.6,262.8 L266.6,262.3 L267.5,262.0 L268.5,261.6 L269.5,261.3 L270.5,261.1 L271.5,260.8 L272.5,260.5 L273.5,260.2 L274.5,260.0 L275.5,259.7 L276.5,259.5 L277.5,259.2 L278.5,259.0 L279.5,258.8 L280.5,258.6 L281.4,258.4 L282.4,258.2 L283.4,258.0 L284.4,257.8 L285.4,257.6 L286.4,257.4 L287.4,257.2 L288.4,257.1 L289.4,256.9 L290.4,256.7 L291.4,256.5 L292.4,256.3 L293.4,256.0 L294.4,255.8 L295.3,255.6 L296.3,255.4 L297.3,255.2 L298.3,254.9 L299.3,254.7 L300.3,254.5 L301.3,254.3 L302.3,254.1 L303.3,253.9 L304.3,253.6 L305.3,253.4 L306.3,253.2 L307.3,253.0 L308.2,252.8 L309.2,252.5 L310.2,252.3 L311.2,252.1 L312.2,251.9 L313.2,251.6 L314.2,251.4 L315.2,251.1 L316.2,250.9 L317.2,250.7 L318.2,250.4 L319.2,250.2 L320.2,249.9 L321.2,249.6 L322.1,249.4 L323.1,249.1 L324.1,248.8 L325.1,248.5 L326.1,248.3 L327.1,248.0 L328.1,247.7 L329.1,247.4 L330.1,247.0 L331.1,246.7 L332.1,246.4 L333.1,246.1 L334.1,245.7 L335.1,245.4 L336.0,245.1 L337.0,244.7 L338.0,244.4 L339.0,244.1 L340.0,243.7 L341.0,243.4 L342.0,243.0 L343.0,242.7 L344.0,242.3 L345.0,242.0 L346.0,241.6 L347.0,241.3 L348.0,240.9 L348.9,240.6 L349.9,240.2 L350.9,239.9 L351.9,239.5 L352.9,239.2 L353.9,238.8 L354.9,238.5 L355.9,238.2 L356.9,237.9 L357.9,237.5 L358.9,237.2 L359.9,236.9 L360.9,236.6 L361.9,236.3 L362.8,236.0 L363.8,235.7 L364.8,235.4 L365.8,235.0 L366.8,234.7 L367.8,234.4 L368.8,234.1 L369.8,233.8 L370.8,233.4 L371.8,233.1 L372.8,232.7 L373.8,232.4 L374.8,232.0 L375.8,231.6 L376.7,231.2 L377.7,230.8 L378.7,230.4 L379.7,230.0 L380.7,229.6 L381.7,229.1 L382.7,228.7 L383.7,228.2 L384.7,227.7 L385.7,227.2 L386.7,226.6 L387.7,225.9 L388.7,225.2 L389.6,224.2 L390.6,223.0 L391.6,221.5 L392.6,219.8 L393.6,218.1 L394.6,216.3 L395.6,214.5 L396.6,212.6 L397.6,210.5 L398.6,208.3 L400.8,208.3" fill="none" stroke="#a4a4da" stroke-width="1.9" stroke-linejoin="round" stroke-linecap="round"/>
<path d="M260.6,210.9 L261.5,220.3 L262.4,224.2 L263.3,226.8 L264.2,228.5 L265.2,229.6 L266.1,230.6 L267.0,231.4 L267.9,232.1 L268.8,232.7 L269.7,233.2 L270.6,233.7 L271.5,234.1 L272.4,234.5 L273.3,234.8 L274.3,235.2 L275.2,235.5 L276.1,235.7 L277.0,236.0 L277.9,236.2 L278.8,236.5 L279.7,236.7 L280.6,236.9 L281.5,237.1 L282.5,237.3 L283.4,237.5 L284.3,237.8 L285.2,238.0 L286.1,238.2 L287.0,238.5 L287.9,238.7 L288.8,239.0 L289.7,239.3 L290.6,239.6 L291.6,240.0 L292.5,240.3 L293.4,240.6 L294.3,240.9 L295.2,241.3 L296.1,241.6 L297.0,241.9 L297.9,242.2 L298.8,242.6 L299.8,242.9 L300.7,243.2 L301.6,243.4 L302.5,243.7 L303.4,244.0 L304.3,244.2 L305.2,244.5 L306.1,244.7 L307.0,244.9 L307.9,245.2 L308.9,245.4 L309.8,245.6 L310.7,245.8 L311.6,246.0 L312.5,246.2 L313.4,246.4 L314.3,246.6 L315.2,246.8 L316.1,247.0 L317.1,247.2 L318.0,247.4 L318.9,247.6 L319.8,247.8 L320.7,248.0 L321.6,248.2 L322.5,248.4 L323.4,248.6 L324.3,248.8 L325.2,249.0 L326.2,249.2 L327.1,249.5 L328.0,249.7 L328.9,249.9 L329.8,250.1 L330.7,250.3 L331.6,250.5 L332.5,250.7 L333.4,251.0 L334.3,251.2 L335.3,251.4 L336.2,251.6 L337.1,251.8 L338.0,252.0 L338.9,252.2 L339.8,252.4 L340.7,252.7 L341.6,252.9 L342.5,253.1 L343.5,253.3 L344.4,253.5 L345.3,253.7 L346.2,254.0 L347.1,254.2 L348.0,254.4 L348.9,254.6 L349.8,254.8 L350.7,255.0 L351.6,255.2 L352.6,255.5 L353.5,255.7 L354.4,255.9 L355.3,256.1 L356.2,256.3 L357.1,256.5 L358.0,256.8 L358.9,257.0 L359.8,257.2 L360.8,257.4 L361.7,257.6 L362.6,257.8 L363.5,258.0 L364.4,258.2 L365.3,258.4 L366.2,258.6 L367.1,258.8 L368.0,259.0 L368.9,259.2 L369.9,259.4 L370.8,259.6 L371.7,259.9 L372.6,260.1 L373.5,260.3 L374.4,260.5 L375.3,260.7 L376.2,260.9 L377.1,261.1 L378.1,261.4 L379.0,261.6 L379.9,261.9 L380.8,262.1 L381.7,262.4 L382.6,262.6 L383.5,262.9 L384.4,263.2 L385.3,263.5 L386.2,263.7 L387.2,264.0 L388.1,264.3 L389.0,264.6 L389.9,264.9 L390.8,265.3 L391.7,265.7 L392.6,266.1 L393.5,266.6 L394.4,267.1 L395.4,267.7 L396.3,268.4 L397.2,269.4 L398.1,270.6 L399.0,272.0 L399.9,273.6 L400.8,275.5 L401.7,278.0 L402.6,281.2 L403.5,285.4 L404.5,291.8 L405.4,302.6" fill="none" stroke="#9090d2" stroke-width="1.9" stroke-linejoin="round" stroke-linecap="round"/>
<path d="M260.6,274.8 L261.6,267.9 L262.6,265.3 L263.6,264.2 L264.6,263.4 L265.6,262.8 L266.6,262.3 L267.6,262.0 L268.6,261.6 L269.6,261.3 L270.6,261.1 L271.6,260.8 L272.6,260.5 L273.6,260.2 L274.6,260.0 L275.7,259.7 L276.7,259.5 L277.7,259.2 L278.7,259.0 L279.7,258.8 L280.7,258.6 L281.7,258.4 L282.7,258.2 L283.7,258.0 L284.7,257.8 L285.7,257.6 L286.7,257.4 L287.7,257.2 L288.7,257.1 L289.7,256.9 L290.7,256.7 L291.7,256.5 L292.7,256.3 L293.7,256.0 L294.7,255.8 L295.7,255.6 L296.7,255.4 L297.7,255.2 L298.7,254.9 L299.7,254.7 L300.7,254.5 L301.7,254.3 L302.7,254.1 L303.8,253.9 L304.8,253.6 L305.8,253.4 L306.8,253.2 L307.8,253.0 L308.8,252.8 L309.8,252.5 L310.8,252.3 L311.8,252.1 L312.8,251.9 L313.8,251.6 L314.8,251.4 L315.8,251.1 L316.8,250.9 L317.8,250.7 L318.8,250.4 L319.8,250.2 L320.8,249.9 L321.8,249.6 L322.8,249.4 L323.8,249.1 L324.8,248.8 L325.8,248.5 L326.8,248.3 L327.8,248.0 L328.8,247.7 L329.8,247.4 L330.8,247.0 L331.9,246.7 L332.9,246.4 L333.9,246.1 L334.9,245.7 L335.9,245.4 L336.9,245.1 L337.9,244.7 L338.9,244.4 L339.9,244.1 L340.9,243.7 L341.9,243.4 L342.9,243.0 L343.9,242.7 L344.9,242.3 L345.9,242.0 L346.9,241.6 L347.9,241.3 L348.9,240.9 L349.9,240.6 L350.9,240.2 L351.9,239.9 L352.9,239.5 L353.9,239.2 L354.9,238.8 L355.9,238.5 L356.9,238.2 L357.9,237.9 L358.9,237.5 L359.9,237.2 L361.0,236.9 L362.0,236.6 L363.0,236.3 L364.0,236.0 L365.0,235.7 L366.0,235.4 L367.0,235.0 L368.0,234.7 L369.0,234.4 L370.0,234.1 L371.0,233.8 L372.0,233.4 L373.0,233.1 L374.0,232.7 L375.0,232.4 L376.0,232.0 L377.0,231.6 L378.0,231.2 L379.0,230.8 L380.0,230.4 L381.0,230.0 L382.0,229.6 L383.0,229.1 L384.0,228.7 L385.0,228.2 L386.0,227.7 L387.0,227.2 L388.0,226.6 L389.1,225.9 L390.1,225.2 L391.1,224.2 L392.1,223.0 L393.1,221.5 L394.1,219.8 L395.1,218.1 L396.1,216.3 L397.1,214.5 L398.1,212.6 L399.1,210.5 L400.1,208.3 L402.4,208.3" fill="none" stroke="#9090d2" stroke-width="1.9" stroke-linejoin="round" stroke-linecap="round"/>
<path d="M260.6,210.9 L261.5,220.3 L262.4,224.2 L263.3,226.8 L264.3,228.5 L265.2,229.6 L266.1,230.6 L267.0,231.4 L267.9,232.1 L268.8,232.7 L269.8,233.2 L270.7,233.7 L271.6,234.1 L272.5,234.5 L273.4,234.8 L274.3,235.2 L275.2,235.5 L276.2,235.7 L277.1,236.0 L278.0,236.2 L278.9,236.5 L279.8,236.7 L280.7,236.9 L281.7,237.1 L282.6,237.3 L283.5,237.5 L284.4,237.8 L285.3,238.0 L286.2,238.2 L287.1,238.5 L288.1,238.7 L289.0,239.0 L289.9,239.3 L290.8,239.6 L291.7,240.0 L292.6,240.3 L293.5,240.6 L294.5,240.9 L295.4,241.3 L296.3,241.6 L297.2,241.9 L298.1,242.2 L299.0,242.6 L300.0,242.9 L300.9,243.2 L301.8,243.4 L302.7,243.7 L303.6,244.0 L304.5,244.2 L305.4,244.5 L306.4,244.7 L307.3,244.9 L308.2,245.2 L309.1,245.4 L310.0,245.6 L310.9,245.8 L311.9,246.0 L312.8,246.2 L313.7,246.4 L314.6,246.6 L315.5,246.8 L316.4,247.0 L317.3,247.2 L318.3,247.4 L319.2,247.6 L320.1,247.8 L321.0,248.0 L321.9,248.2 L322.8,248.4 L323.8,248.6 L324.7,248.8 L325.6,249.0 L326.5,249.2 L327.4,249.5 L328.3,249.7 L329.2,249.9 L330.2,250.1 L331.1,250.3 L332.0,250.5 L332.9,250.7 L333.8,251.0 L334.7,251.2 L335.6,251.4 L336.6,251.6 L337.5,251.8 L338.4,252.0 L339.3,252.2 L340.2,252.4 L341.1,252.7 L342.1,252.9 L343.0,253.1 L343.9,253.3 L344.8,253.5 L345.7,253.7 L346.6,254.0 L347.5,254.2 L348.5,254.4 L349.4,254.6 L350.3,254.8 L351.2,255.0 L352.1,255.2 L353.0,255.5 L354.0,255.7 L354.9,255.9 L355.8,256.1 L356.7,256.3 L357.6,256.5 L358.5,256.8 L359.4,257.0 L360.4,257.2 L361.3,257.4 L362.2,257.6 L363.1,257.8 L364.0,258.0 L364.9,258.2 L365.9,258.4 L366.8,258.6 L367.7,258.8 L368.6,259.0 L369.5,259.2 L370.4,259.4 L371.3,259.6 L372.3,259.9 L373.2,260.1 L374.1,260.3 L375.0,260.5 L375.9,260.7 L376.8,260.9 L377.7,261.1 L378.7,261.4 L379.6,261.6 L380.5,261.9 L381.4,262.1 L382.3,262.4 L383.2,262.6 L384.2,262.9 L385.1,263.2 L386.0,263.5 L386.9,263.7 L387.8,264.0 L388.7,264.3 L389.6,264.6 L390.6,264.9 L391.5,265.3 L392.4,265.7 L393.3,266.1 L394.2,266.6 L395.1,267.1 L396.1,267.7 L397.0,268.4 L397.9,269.4 L398.8,270.6 L399.7,272.0 L400.6,273.6 L401.5,275.5 L402.5,278.0 L403.4,281.2 L404.3,285.4 L405.2,291.8 L406.1,302.6" fill="none" stroke="#7c7cca" stroke-width="1.9" stroke-linejoin="round" stroke-linecap="round"/>
<path d="M260.6,274.8 L261.6,267.9 L262.6,265.3 L263.6,264.2 L264.7,263.4 L265.7,262.8 L266.7,262.3 L267.7,262.0 L268.7,261.6 L269.7,261.3 L270.7,261.1 L271.8,260.8 L272.8,260.5 L273.8,260.2 L274.8,260.0 L275.8,259.7 L276.8,259.5 L277.8,259.2 L278.9,259.0 L279.9,258.8 L280.9,258.6 L281.9,258.4 L282.9,258.2 L283.9,258.0 L284.9,257.8 L286.0,257.6 L287.0,257.4 L288.0,257.2 L289.0,257.1 L290.0,256.9 L291.0,256.7 L292.0,256.5 L293.1,256.3 L294.1,256.0 L295.1,255.8 L296.1,255.6 L297.1,255.4 L298.1,255.2 L299.1,254.9 L300.2,254.7 L301.2,254.5 L302.2,254.3 L303.2,254.1 L304.2,253.9 L305.2,253.6 L306.2,253.4 L307.3,253.2 L308.3,253.0 L309.3,252.8 L310.3,252.5 L311.3,252.3 L312.3,252.1 L313.3,251.9 L314.4,251.6 L315.4,251.4 L316.4,251.1 L317.4,250.9 L318.4,250.7 L319.4,250.4 L320.4,250.2 L321.5,249.9 L322.5,249.6 L323.5,249.4 L324.5,249.1 L325.5,248.8 L326.5,248.5 L327.5,248.3 L328.6,248.0 L329.6,247.7 L330.6,247.4 L331.6,247.0 L332.6,246.7 L333.6,246.4 L334.6,246.1 L335.7,245.7 L336.7,245.4 L337.7,245.1 L338.7,244.7 L339.7,244.4 L340.7,244.1 L341.7,243.7 L342.8,243.4 L343.8,243.0 L344.8,242.7 L345.8,242.3 L346.8,242.0 L347.8,241.6 L348.9,241.3 L349.9,240.9 L350.9,240.6 L351.9,240.2 L352.9,239.9 L353.9,239.5 L354.9,239.2 L356.0,238.8 L357.0,238.5 L358.0,238.2 L359.0,237.9 L360.0,237.5 L361.0,237.2 L362.0,236.9 L363.1,236.6 L364.1,236.3 L365.1,236.0 L366.1,235.7 L367.1,235.4 L368.1,235.0 L369.1,234.7 L370.2,234.4 L371.2,234.1 L372.2,233.8 L373.2,233.4 L374.2,233.1 L375.2,232.7 L376.2,232.4 L377.3,232.0 L378.3,231.6 L379.3,231.2 L380.3,230.8 L381.3,230.4 L382.3,230.0 L383.3,229.6 L384.4,229.1 L385.4,228.7 L386.4,228.2 L387.4,227.7 L388.4,227.2 L389.4,226.6 L390.4,225.9 L391.5,225.2 L392.5,224.2 L393.5,223.0 L394.5,221.5 L395.5,219.8 L396.5,218.1 L397.5,216.3 L398.6,214.5 L399.6,212.6 L400.6,210.5 L401.6,208.3 L403.9,208.3" fill="none" stroke="#7c7cca" stroke-width="1.9" stroke-linejoin="round" stroke-linecap="round"/>
<path d="M260.6,210.9 L261.5,220.3 L262.4,224.2 L263.4,226.8 L264.3,228.5 L265.2,229.6 L266.1,230.6 L267.1,231.4 L268.0,232.1 L268.9,232.7 L269.8,233.2 L270.7,233.7 L271.7,234.1 L272.6,234.5 L273.5,234.8 L274.4,235.2 L275.4,235.5 L276.3,235.7 L277.2,236.0 L278.1,236.2 L279.0,236.5 L280.0,236.7 L280.9,236.9 L281.8,237.1 L282.7,237.3 L283.7,237.5 L284.6,237.8 L285.5,238.0 L286.4,238.2 L287.3,238.5 L288.3,238.7 L289.2,239.0 L290.1,239.3 L291.0,239.6 L292.0,240.0 L292.9,240.3 L293.8,240.6 L294.7,240.9 L295.6,241.3 L296.6,241.6 L297.5,241.9 L298.4,242.2 L299.3,242.6 L300.3,242.9 L301.2,243.2 L302.1,243.4 L303.0,243.7 L304.0,244.0 L304.9,244.2 L305.8,244.5 L306.7,244.7 L307.6,244.9 L308.6,245.2 L309.5,245.4 L310.4,245.6 L311.3,245.8 L312.3,246.0 L313.2,246.2 L314.1,246.4 L315.0,246.6 L315.9,246.8 L316.9,247.0 L317.8,247.2 L318.7,247.4 L319.6,247.6 L320.6,247.8 L321.5,248.0 L322.4,248.2 L323.3,248.4 L324.2,248.6 L325.2,248.8 L326.1,249.0 L327.0,249.2 L327.9,249.5 L328.9,249.7 L329.8,249.9 L330.7,250.1 L331.6,250.3 L332.5,250.5 L333.5,250.7 L334.4,251.0 L335.3,251.2 L336.2,251.4 L337.2,251.6 L338.1,251.8 L339.0,252.0 L339.9,252.2 L340.8,252.4 L341.8,252.7 L342.7,252.9 L343.6,253.1 L344.5,253.3 L345.5,253.5 L346.4,253.7 L347.3,254.0 L348.2,254.2 L349.1,254.4 L350.1,254.6 L351.0,254.8 L351.9,255.0 L352.8,255.2 L353.8,255.5 L354.7,255.7 L355.6,255.9 L356.5,256.1 L357.4,256.3 L358.4,256.5 L359.3,256.8 L360.2,257.0 L361.1,257.2 L362.1,257.4 L363.0,257.6 L363.9,257.8 L364.8,258.0 L365.7,258.2 L366.7,258.4 L367.6,258.6 L368.5,258.8 L369.4,259.0 L370.4,259.2 L371.3,259.4 L372.2,259.6 L373.1,259.9 L374.0,260.1 L375.0,260.3 L375.9,260.5 L376.8,260.7 L377.7,260.9 L378.7,261.1 L379.6,261.4 L380.5,261.6 L381.4,261.9 L382.3,262.1 L383.3,262.4 L384.2,262.6 L385.1,262.9 L386.0,263.2 L387.0,263.5 L387.9,263.7 L388.8,264.0 L389.7,264.3 L390.7,264.6 L391.6,264.9 L392.5,265.3 L393.4,265.7 L394.3,266.1 L395.3,266.6 L396.2,267.1 L397.1,267.7 L398.0,268.4 L399.0,269.4 L399.9,270.6 L400.8,272.0 L401.7,273.6 L402.6,275.5 L403.6,278.0 L404.5,281.2 L405.4,285.4 L406.3,291.8 L407.3,302.6" fill="none" stroke="#6868c0" stroke-width="1.9" stroke-linejoin="round" stroke-linecap="round"/>
<path d="M260.6,274.8 L261.6,267.9 L262.7,265.3 L263.7,264.2 L264.7,263.4 L265.7,262.8 L266.8,262.3 L267.8,262.0 L268.8,261.6 L269.8,261.3 L270.9,261.1 L271.9,260.8 L272.9,260.5 L273.9,260.2 L275.0,260.0 L276.0,259.7 L277.0,259.5 L278.0,259.2 L279.1,259.0 L280.1,258.8 L281.1,258.6 L282.1,258.4 L283.2,258.2 L284.2,258.0 L285.2,257.8 L286.2,257.6 L287.3,257.4 L288.3,257.2 L289.3,257.1 L290.3,256.9 L291.4,256.7 L292.4,256.5 L293.4,256.3 L294.4,256.0 L295.5,255.8 L296.5,255.6 L297.5,255.4 L298.5,255.2 L299.6,254.9 L300.6,254.7 L301.6,254.5 L302.6,254.3 L303.7,254.1 L304.7,253.9 L305.7,253.6 L306.7,253.4 L307.8,253.2 L308.8,253.0 L309.8,252.8 L310.8,252.5 L311.9,252.3 L312.9,252.1 L313.9,251.9 L314.9,251.6 L316.0,251.4 L317.0,251.1 L318.0,250.9 L319.0,250.7 L320.1,250.4 L321.1,250.2 L322.1,249.9 L323.1,249.6 L324.2,249.4 L325.2,249.1 L326.2,248.8 L327.2,248.5 L328.3,248.3 L329.3,248.0 L330.3,247.7 L331.3,247.4 L332.4,247.0 L333.4,246.7 L334.4,246.4 L335.4,246.1 L336.5,245.7 L337.5,245.4 L338.5,245.1 L339.5,244.7 L340.6,244.4 L341.6,244.1 L342.6,243.7 L343.6,243.4 L344.7,243.0 L345.7,242.7 L346.7,242.3 L347.7,242.0 L348.8,241.6 L349.8,241.3 L350.8,240.9 L351.8,240.6 L352.9,240.2 L353.9,239.9 L354.9,239.5 L355.9,239.2 L357.0,238.8 L358.0,238.5 L359.0,238.2 L360.0,237.9 L361.1,237.5 L362.1,237.2 L363.1,236.9 L364.1,236.6 L365.2,236.3 L366.2,236.0 L367.2,235.7 L368.2,235.4 L369.3,235.0 L370.3,234.7 L371.3,234.4 L372.3,234.1 L373.4,233.8 L374.4,233.4 L375.4,233.1 L376.5,232.7 L377.5,232.4 L378.5,232.0 L379.5,231.6 L380.6,231.2 L381.6,230.8 L382.6,230.4 L383.6,230.0 L384.7,229.6 L385.7,229.1 L386.7,228.7 L387.7,228.2 L388.8,227.7 L389.8,227.2 L390.8,226.6 L391.8,225.9 L392.9,225.2 L393.9,224.2 L394.9,223.0 L395.9,221.5 L397.0,219.8 L398.0,218.1 L399.0,216.3 L400.0,214.5 L401.1,212.6 L402.1,210.5 L403.1,208.3 L405.4,208.3" fill="none" stroke="#6868c0" stroke-width="1.9" stroke-linejoin="round" stroke-linecap="round"/>
<path d="M260.6,210.9 L261.5,220.3 L262.5,224.2 L263.4,226.8 L264.3,228.5 L265.2,229.6 L266.2,230.6 L267.1,231.4 L268.0,232.1 L269.0,232.7 L269.9,233.2 L270.8,233.7 L271.8,234.1 L272.7,234.5 L273.6,234.8 L274.5,235.2 L275.5,235.5 L276.4,235.7 L277.3,236.0 L278.3,236.2 L279.2,236.5 L280.1,236.7 L281.0,236.9 L282.0,237.1 L282.9,237.3 L283.8,237.5 L284.8,237.8 L285.7,238.0 L286.6,238.2 L287.6,238.5 L288.5,238.7 L289.4,239.0 L290.3,239.3 L291.3,239.6 L292.2,240.0 L293.1,240.3 L294.1,240.6 L295.0,240.9 L295.9,241.3 L296.8,241.6 L297.8,241.9 L298.7,242.2 L299.6,242.6 L300.6,242.9 L301.5,243.2 L302.4,243.4 L303.4,243.7 L304.3,244.0 L305.2,244.2 L306.1,244.5 L307.1,244.7 L308.0,244.9 L308.9,245.2 L309.9,245.4 L310.8,245.6 L311.7,245.8 L312.6,246.0 L313.6,246.2 L314.5,246.4 L315.4,246.6 L316.4,246.8 L317.3,247.0 L318.2,247.2 L319.2,247.4 L320.1,247.6 L321.0,247.8 L321.9,248.0 L322.9,248.2 L323.8,248.4 L324.7,248.6 L325.7,248.8 L326.6,249.0 L327.5,249.2 L328.5,249.5 L329.4,249.7 L330.3,249.9 L331.2,250.1 L332.2,250.3 L333.1,250.5 L334.0,250.7 L335.0,251.0 L335.9,251.2 L336.8,251.4 L337.7,251.6 L338.7,251.8 L339.6,252.0 L340.5,252.2 L341.5,252.4 L342.4,252.7 L343.3,252.9 L344.3,253.1 L345.2,253.3 L346.1,253.5 L347.0,253.7 L348.0,254.0 L348.9,254.2 L349.8,254.4 L350.8,254.6 L351.7,254.8 L352.6,255.0 L353.5,255.2 L354.5,255.5 L355.4,255.7 L356.3,255.9 L357.3,256.1 L358.2,256.3 L359.1,256.5 L360.1,256.8 L361.0,257.0 L361.9,257.2 L362.8,257.4 L363.8,257.6 L364.7,257.8 L365.6,258.0 L366.6,258.2 L367.5,258.4 L368.4,258.6 L369.3,258.8 L370.3,259.0 L371.2,259.2 L372.1,259.4 L373.1,259.6 L374.0,259.9 L374.9,260.1 L375.9,260.3 L376.8,260.5 L377.7,260.7 L378.6,260.9 L379.6,261.1 L380.5,261.4 L381.4,261.6 L382.4,261.9 L383.3,262.1 L384.2,262.4 L385.1,262.6 L386.1,262.9 L387.0,263.2 L387.9,263.5 L388.9,263.7 L389.8,264.0 L390.7,264.3 L391.7,264.6 L392.6,264.9 L393.5,265.3 L394.4,265.7 L395.4,266.1 L396.3,266.6 L397.2,267.1 L398.2,267.7 L399.1,268.4 L400.0,269.4 L400.9,270.6 L401.9,272.0 L402.8,273.6 L403.7,275.5 L404.7,278.0 L405.6,281.2 L406.5,285.4 L407.5,291.8 L408.4,302.6" fill="none" stroke="#5454b6" stroke-width="1.9" stroke-linejoin="round" stroke-linecap="round"/>
<path d="M260.6,274.8 L261.6,267.9 L262.7,265.3 L263.7,264.2 L264.7,263.4 L265.8,262.8 L266.8,262.3 L267.9,262.0 L268.9,261.6 L269.9,261.3 L271.0,261.1 L272.0,260.8 L273.0,260.5 L274.1,260.2 L275.1,260.0 L276.1,259.7 L277.2,259.5 L278.2,259.2 L279.2,259.0 L280.3,258.8 L281.3,258.6 L282.4,258.4 L283.4,258.2 L284.4,258.0 L285.5,257.8 L286.5,257.6 L287.5,257.4 L288.6,257.2 L289.6,257.1 L290.6,256.9 L291.7,256.7 L292.7,256.5 L293.8,256.3 L294.8,256.0 L295.8,255.8 L296.9,255.6 L297.9,255.4 L298.9,255.2 L300.0,254.9 L301.0,254.7 L302.0,254.5 L303.1,254.3 L304.1,254.1 L305.2,253.9 L306.2,253.6 L307.2,253.4 L308.3,253.2 L309.3,253.0 L310.3,252.8 L311.4,252.5 L312.4,252.3 L313.4,252.1 L314.5,251.9 L315.5,251.6 L316.5,251.4 L317.6,251.1 L318.6,250.9 L319.7,250.7 L320.7,250.4 L321.7,250.2 L322.8,249.9 L323.8,249.6 L324.8,249.4 L325.9,249.1 L326.9,248.8 L327.9,248.5 L329.0,248.3 L330.0,248.0 L331.1,247.7 L332.1,247.4 L333.1,247.0 L334.2,246.7 L335.2,246.4 L336.2,246.1 L337.3,245.7 L338.3,245.4 L339.3,245.1 L340.4,244.7 L341.4,244.4 L342.4,244.1 L343.5,243.7 L344.5,243.4 L345.6,243.0 L346.6,242.7 L347.6,242.3 L348.7,242.0 L349.7,241.6 L350.7,241.3 L351.8,240.9 L352.8,240.6 L353.8,240.2 L354.9,239.9 L355.9,239.5 L357.0,239.2 L358.0,238.8 L359.0,238.5 L360.1,238.2 L361.1,237.9 L362.1,237.5 L363.2,237.2 L364.2,236.9 L365.2,236.6 L366.3,236.3 L367.3,236.0 L368.4,235.7 L369.4,235.4 L370.4,235.0 L371.5,234.7 L372.5,234.4 L373.5,234.1 L374.6,233.8 L375.6,233.4 L376.6,233.1 L377.7,232.7 L378.7,232.4 L379.7,232.0 L380.8,231.6 L381.8,231.2 L382.9,230.8 L383.9,230.4 L384.9,230.0 L386.0,229.6 L387.0,229.1 L388.0,228.7 L389.1,228.2 L390.1,227.7 L391.1,227.2 L392.2,226.6 L393.2,225.9 L394.3,225.2 L395.3,224.2 L396.3,223.0 L397.4,221.5 L398.4,219.8 L399.4,218.1 L400.5,216.3 L401.5,214.5 L402.5,212.6 L403.6,210.5 L404.6,208.3 L406.9,208.3" fill="none" stroke="#5454b6" stroke-width="1.9" stroke-linejoin="round" stroke-linecap="round"/>
<path d="M260.6,210.9 L261.5,220.3 L262.5,224.2 L263.4,226.8 L264.4,228.5 L265.3,229.6 L266.2,230.6 L267.2,231.4 L268.1,232.1 L269.1,232.7 L270.0,233.2 L270.9,233.7 L271.9,234.1 L272.8,234.5 L273.7,234.8 L274.7,235.2 L275.6,235.5 L276.6,235.7 L277.5,236.0 L278.4,236.2 L279.4,236.5 L280.3,236.7 L281.3,236.9 L282.2,237.1 L283.1,237.3 L284.1,237.5 L285.0,237.8 L286.0,238.0 L286.9,238.2 L287.8,238.5 L288.8,238.7 L289.7,239.0 L290.6,239.3 L291.6,239.6 L292.5,240.0 L293.5,240.3 L294.4,240.6 L295.3,240.9 L296.3,241.3 L297.2,241.6 L298.2,241.9 L299.1,242.2 L300.0,242.6 L301.0,242.9 L301.9,243.2 L302.9,243.4 L303.8,243.7 L304.7,244.0 L305.7,244.2 L306.6,244.5 L307.5,244.7 L308.5,244.9 L309.4,245.2 L310.4,245.4 L311.3,245.6 L312.2,245.8 L313.2,246.0 L314.1,246.2 L315.1,246.4 L316.0,246.6 L316.9,246.8 L317.9,247.0 L318.8,247.2 L319.8,247.4 L320.7,247.6 L321.6,247.8 L322.6,248.0 L323.5,248.2 L324.4,248.4 L325.4,248.6 L326.3,248.8 L327.3,249.0 L328.2,249.2 L329.1,249.5 L330.1,249.7 L331.0,249.9 L332.0,250.1 L332.9,250.3 L333.8,250.5 L334.8,250.7 L335.7,251.0 L336.7,251.2 L337.6,251.4 L338.5,251.6 L339.5,251.8 L340.4,252.0 L341.3,252.2 L342.3,252.4 L343.2,252.7 L344.2,252.9 L345.1,253.1 L346.0,253.3 L347.0,253.5 L347.9,253.7 L348.9,254.0 L349.8,254.2 L350.7,254.4 L351.7,254.6 L352.6,254.8 L353.6,255.0 L354.5,255.2 L355.4,255.5 L356.4,255.7 L357.3,255.9 L358.3,256.1 L359.2,256.3 L360.1,256.5 L361.1,256.8 L362.0,257.0 L362.9,257.2 L363.9,257.4 L364.8,257.6 L365.8,257.8 L366.7,258.0 L367.6,258.2 L368.6,258.4 L369.5,258.6 L370.5,258.8 L371.4,259.0 L372.3,259.2 L373.3,259.4 L374.2,259.6 L375.2,259.9 L376.1,260.1 L377.0,260.3 L378.0,260.5 L378.9,260.7 L379.8,260.9 L380.8,261.1 L381.7,261.4 L382.7,261.6 L383.6,261.9 L384.5,262.1 L385.5,262.4 L386.4,262.6 L387.4,262.9 L388.3,263.2 L389.2,263.5 L390.2,263.7 L391.1,264.0 L392.1,264.3 L393.0,264.6 L393.9,264.9 L394.9,265.3 L395.8,265.7 L396.7,266.1 L397.7,266.6 L398.6,267.1 L399.6,267.7 L400.5,268.4 L401.4,269.4 L402.4,270.6 L403.3,272.0 L404.3,273.6 L405.2,275.5 L406.1,278.0 L407.1,281.2 L408.0,285.4 L409.0,291.8 L409.9,302.6" fill="none" stroke="#4040ac" stroke-width="1.9" stroke-linejoin="round" stroke-linecap="round"/>
<path d="M260.6,274.8 L261.6,267.9 L262.7,265.3 L263.7,264.2 L264.8,263.4 L265.8,262.8 L266.9,262.3 L267.9,262.0 L269.0,261.6 L270.0,261.3 L271.1,261.1 L272.1,260.8 L273.2,260.5 L274.2,260.2 L275.3,260.0 L276.3,259.7 L277.4,259.5 L278.4,259.2 L279.4,259.0 L280.5,258.8 L281.5,258.6 L282.6,258.4 L283.6,258.2 L284.7,258.0 L285.7,257.8 L286.8,257.6 L287.8,257.4 L288.9,257.2 L289.9,257.1 L291.0,256.9 L292.0,256.7 L293.1,256.5 L294.1,256.3 L295.1,256.0 L296.2,255.8 L297.2,255.6 L298.3,255.4 L299.3,255.2 L300.4,254.9 L301.4,254.7 L302.5,254.5 L303.5,254.3 L304.6,254.1 L305.6,253.9 L306.7,253.6 L307.7,253.4 L308.8,253.2 L309.8,253.0 L310.9,252.8 L311.9,252.5 L312.9,252.3 L314.0,252.1 L315.0,251.9 L316.1,251.6 L317.1,251.4 L318.2,251.1 L319.2,250.9 L320.3,250.7 L321.3,250.4 L322.4,250.2 L323.4,249.9 L324.5,249.6 L325.5,249.4 L326.6,249.1 L327.6,248.8 L328.6,248.5 L329.7,248.3 L330.7,248.0 L331.8,247.7 L332.8,247.4 L333.9,247.0 L334.9,246.7 L336.0,246.4 L337.0,246.1 L338.1,245.7 L339.1,245.4 L340.2,245.1 L341.2,244.7 L342.3,244.4 L343.3,244.1 L344.4,243.7 L345.4,243.4 L346.4,243.0 L347.5,242.7 L348.5,242.3 L349.6,242.0 L350.6,241.6 L351.7,241.3 L352.7,240.9 L353.8,240.6 L354.8,240.2 L355.9,239.9 L356.9,239.5 L358.0,239.2 L359.0,238.8 L360.1,238.5 L361.1,238.2 L362.2,237.9 L363.2,237.5 L364.2,237.2 L365.3,236.9 L366.3,236.6 L367.4,236.3 L368.4,236.0 L369.5,235.7 L370.5,235.4 L371.6,235.0 L372.6,234.7 L373.7,234.4 L374.7,234.1 L375.8,233.8 L376.8,233.4 L377.9,233.1 L378.9,232.7 L379.9,232.4 L381.0,232.0 L382.0,231.6 L383.1,231.2 L384.1,230.8 L385.2,230.4 L386.2,230.0 L387.3,229.6 L388.3,229.1 L389.4,228.7 L390.4,228.2 L391.5,227.7 L392.5,227.2 L393.6,226.6 L394.6,225.9 L395.7,225.2 L396.7,224.2 L397.7,223.0 L398.8,221.5 L399.8,219.8 L400.9,218.1 L401.9,216.3 L403.0,214.5 L404.0,212.6 L405.1,210.5 L406.1,208.3 L408.4,208.3" fill="none" stroke="#4040ac" stroke-width="1.9" stroke-linejoin="round" stroke-linecap="round"/>
<path d="M260.6,210.9 L261.5,220.3 L262.5,224.2 L263.4,226.8 L264.4,228.5 L265.3,229.6 L266.3,230.6 L267.2,231.4 L268.2,232.1 L269.1,232.7 L270.1,233.2 L271.0,233.7 L272.0,234.1 L272.9,234.5 L273.8,234.8 L274.8,235.2 L275.7,235.5 L276.7,235.7 L277.6,236.0 L278.6,236.2 L279.5,236.5 L280.5,236.7 L281.4,236.9 L282.4,237.1 L283.3,237.3 L284.3,237.5 L285.2,237.8 L286.1,238.0 L287.1,238.2 L288.0,238.5 L289.0,238.7 L289.9,239.0 L290.9,239.3 L291.8,239.6 L292.8,240.0 L293.7,240.3 L294.7,240.6 L295.6,240.9 L296.6,241.3 L297.5,241.6 L298.4,241.9 L299.4,242.2 L300.3,242.6 L301.3,242.9 L302.2,243.2 L303.2,243.4 L304.1,243.7 L305.1,244.0 L306.0,244.2 L307.0,244.5 L307.9,244.7 L308.8,244.9 L309.8,245.2 L310.7,245.4 L311.7,245.6 L312.6,245.8 L313.6,246.0 L314.5,246.2 L315.5,246.4 L316.4,246.6 L317.4,246.8 L318.3,247.0 L319.3,247.2 L320.2,247.4 L321.1,247.6 L322.1,247.8 L323.0,248.0 L324.0,248.2 L324.9,248.4 L325.9,248.6 L326.8,248.8 L327.8,249.0 L328.7,249.2 L329.7,249.5 L330.6,249.7 L331.6,249.9 L332.5,250.1 L333.4,250.3 L334.4,250.5 L335.3,250.7 L336.3,251.0 L337.2,251.2 L338.2,251.4 L339.1,251.6 L340.1,251.8 L341.0,252.0 L342.0,252.2 L342.9,252.4 L343.9,252.7 L344.8,252.9 L345.7,253.1 L346.7,253.3 L347.6,253.5 L348.6,253.7 L349.5,254.0 L350.5,254.2 L351.4,254.4 L352.4,254.6 L353.3,254.8 L354.3,255.0 L355.2,255.2 L356.2,255.5 L357.1,255.7 L358.0,255.9 L359.0,256.1 L359.9,256.3 L360.9,256.5 L361.8,256.8 L362.8,257.0 L363.7,257.2 L364.7,257.4 L365.6,257.6 L366.6,257.8 L367.5,258.0 L368.5,258.2 L369.4,258.4 L370.3,258.6 L371.3,258.8 L372.2,259.0 L373.2,259.2 L374.1,259.4 L375.1,259.6 L376.0,259.9 L377.0,260.1 L377.9,260.3 L378.9,260.5 L379.8,260.7 L380.7,260.9 L381.7,261.1 L382.6,261.4 L383.6,261.6 L384.5,261.9 L385.5,262.1 L386.4,262.4 L387.4,262.6 L388.3,262.9 L389.3,263.2 L390.2,263.5 L391.2,263.7 L392.1,264.0 L393.0,264.3 L394.0,264.6 L394.9,264.9 L395.9,265.3 L396.8,265.7 L397.8,266.1 L398.7,266.6 L399.7,267.1 L400.6,267.7 L401.6,268.4 L402.5,269.4 L403.5,270.6 L404.4,272.0 L405.3,273.6 L406.3,275.5 L407.2,278.0 L408.2,281.2 L409.1,285.4 L410.1,291.8 L411.0,302.6" fill="none" stroke="#2c2ca2" stroke-width="1.9" stroke-linejoin="round" stroke-linecap="round"/>
<path d="M260.6,274.8 L261.7,267.9 L262.7,265.3 L263.8,264.2 L264.8,263.4 L265.9,262.8 L266.9,262.3 L268.0,262.0 L269.1,261.6 L270.1,261.3 L271.2,261.1 L272.2,260.8 L273.3,260.5 L274.4,260.2 L275.4,260.0 L276.5,259.7 L277.5,259.5 L278.6,259.2 L279.6,259.0 L280.7,258.8 L281.8,258.6 L282.8,258.4 L283.9,258.2 L284.9,258.0 L286.0,257.8 L287.0,257.6 L288.1,257.4 L289.2,257.2 L290.2,257.1 L291.3,256.9 L292.3,256.7 L293.4,256.5 L294.4,256.3 L295.5,256.0 L296.6,255.8 L297.6,255.6 L298.7,255.4 L299.7,255.2 L300.8,254.9 L301.9,254.7 L302.9,254.5 L304.0,254.3 L305.0,254.1 L306.1,253.9 L307.1,253.6 L308.2,253.4 L309.3,253.2 L310.3,253.0 L311.4,252.8 L312.4,252.5 L313.5,252.3 L314.5,252.1 L315.6,251.9 L316.7,251.6 L317.7,251.4 L318.8,251.1 L319.8,250.9 L320.9,250.7 L322.0,250.4 L323.0,250.2 L324.1,249.9 L325.1,249.6 L326.2,249.4 L327.2,249.1 L328.3,248.8 L329.4,248.5 L330.4,248.3 L331.5,248.0 L332.5,247.7 L333.6,247.4 L334.6,247.0 L335.7,246.7 L336.8,246.4 L337.8,246.1 L338.9,245.7 L339.9,245.4 L341.0,245.1 L342.0,244.7 L343.1,244.4 L344.2,244.1 L345.2,243.7 L346.3,243.4 L347.3,243.0 L348.4,242.7 L349.5,242.3 L350.5,242.0 L351.6,241.6 L352.6,241.3 L353.7,240.9 L354.7,240.6 L355.8,240.2 L356.9,239.9 L357.9,239.5 L359.0,239.2 L360.0,238.8 L361.1,238.5 L362.1,238.2 L363.2,237.9 L364.3,237.5 L365.3,237.2 L366.4,236.9 L367.4,236.6 L368.5,236.3 L369.6,236.0 L370.6,235.7 L371.7,235.4 L372.7,235.0 L373.8,234.7 L374.8,234.4 L375.9,234.1 L377.0,233.8 L378.0,233.4 L379.1,233.1 L380.1,232.7 L381.2,232.4 L382.2,232.0 L383.3,231.6 L384.4,231.2 L385.4,230.8 L386.5,230.4 L387.5,230.0 L388.6,229.6 L389.6,229.1 L390.7,228.7 L391.8,228.2 L392.8,227.7 L393.9,227.2 L394.9,226.6 L396.0,225.9 L397.1,225.2 L398.1,224.2 L399.2,223.0 L400.2,221.5 L401.3,219.8 L402.3,218.1 L403.4,216.3 L404.5,214.5 L405.5,212.6 L406.6,210.5 L407.6,208.3 L409.9,208.3" fill="none" stroke="#2c2ca2" stroke-width="1.9" stroke-linejoin="round" stroke-linecap="round"/>
<path d="M260.6,210.9 L261.6,220.3 L262.5,224.2 L263.5,226.8 L264.4,228.5 L265.4,229.6 L266.3,230.6 L267.3,231.4 L268.2,232.1 L269.2,232.7 L270.1,233.2 L271.1,233.7 L272.0,234.1 L273.0,234.5 L273.9,234.8 L274.9,235.2 L275.9,235.5 L276.8,235.7 L277.8,236.0 L278.7,236.2 L279.7,236.5 L280.6,236.7 L281.6,236.9 L282.5,237.1 L283.5,237.3 L284.4,237.5 L285.4,237.8 L286.3,238.0 L287.3,238.2 L288.2,238.5 L289.2,238.7 L290.1,239.0 L291.1,239.3 L292.1,239.6 L293.0,240.0 L294.0,240.3 L294.9,240.6 L295.9,240.9 L296.8,241.3 L297.8,241.6 L298.7,241.9 L299.7,242.2 L300.6,242.6 L301.6,242.9 L302.5,243.2 L303.5,243.4 L304.4,243.7 L305.4,244.0 L306.4,244.2 L307.3,244.5 L308.3,244.7 L309.2,244.9 L310.2,245.2 L311.1,245.4 L312.1,245.6 L313.0,245.8 L314.0,246.0 L314.9,246.2 L315.9,246.4 L316.8,246.6 L317.8,246.8 L318.7,247.0 L319.7,247.2 L320.6,247.4 L321.6,247.6 L322.6,247.8 L323.5,248.0 L324.5,248.2 L325.4,248.4 L326.4,248.6 L327.3,248.8 L328.3,249.0 L329.2,249.2 L330.2,249.5 L331.1,249.7 L332.1,249.9 L333.0,250.1 L334.0,250.3 L334.9,250.5 L335.9,250.7 L336.9,251.0 L337.8,251.2 L338.8,251.4 L339.7,251.6 L340.7,251.8 L341.6,252.0 L342.6,252.2 L343.5,252.4 L344.5,252.7 L345.4,252.9 L346.4,253.1 L347.3,253.3 L348.3,253.5 L349.2,253.7 L350.2,254.0 L351.2,254.2 L352.1,254.4 L353.1,254.6 L354.0,254.8 L355.0,255.0 L355.9,255.2 L356.9,255.5 L357.8,255.7 L358.8,255.9 L359.7,256.1 L360.7,256.3 L361.6,256.5 L362.6,256.8 L363.5,257.0 L364.5,257.2 L365.4,257.4 L366.4,257.6 L367.4,257.8 L368.3,258.0 L369.3,258.2 L370.2,258.4 L371.2,258.6 L372.1,258.8 L373.1,259.0 L374.0,259.2 L375.0,259.4 L375.9,259.6 L376.9,259.9 L377.8,260.1 L378.8,260.3 L379.7,260.5 L380.7,260.7 L381.7,260.9 L382.6,261.1 L383.6,261.4 L384.5,261.6 L385.5,261.9 L386.4,262.1 L387.4,262.4 L388.3,262.6 L389.3,262.9 L390.2,263.2 L391.2,263.5 L392.1,263.7 L393.1,264.0 L394.0,264.3 L395.0,264.6 L396.0,264.9 L396.9,265.3 L397.9,265.7 L398.8,266.1 L399.8,266.6 L400.7,267.1 L401.7,267.7 L402.6,268.4 L403.6,269.4 L404.5,270.6 L405.5,272.0 L406.4,273.6 L407.4,275.5 L408.3,278.0 L409.3,281.2 L410.2,285.4 L411.2,291.8 L412.2,302.6" fill="none" stroke="#181898" stroke-width="1.9" stroke-linejoin="round" stroke-linecap="round"/>
<path d="M260.6,274.8 L261.7,267.9 L262.7,265.3 L263.8,264.2 L264.9,263.4 L266.0,262.8 L267.0,262.3 L268.1,262.0 L269.2,261.6 L270.3,261.3 L271.3,261.1 L272.4,260.8 L273.5,260.5 L274.6,260.2 L275.6,260.0 L276.7,259.7 L277.8,259.5 L278.9,259.2 L279.9,259.0 L281.0,258.8 L282.1,258.6 L283.2,258.4 L284.2,258.2 L285.3,258.0 L286.4,257.8 L287.5,257.6 L288.5,257.4 L289.6,257.2 L290.7,257.1 L291.7,256.9 L292.8,256.7 L293.9,256.5 L295.0,256.3 L296.0,256.0 L297.1,255.8 L298.2,255.6 L299.3,255.4 L300.3,255.2 L301.4,254.9 L302.5,254.7 L303.6,254.5 L304.6,254.3 L305.7,254.1 L306.8,253.9 L307.9,253.6 L308.9,253.4 L310.0,253.2 L311.1,253.0 L312.2,252.8 L313.2,252.5 L314.3,252.3 L315.4,252.1 L316.5,251.9 L317.5,251.6 L318.6,251.4 L319.7,251.1 L320.7,250.9 L321.8,250.7 L322.9,250.4 L324.0,250.2 L325.0,249.9 L326.1,249.6 L327.2,249.4 L328.3,249.1 L329.3,248.8 L330.4,248.5 L331.5,248.3 L332.6,248.0 L333.6,247.7 L334.7,247.4 L335.8,247.0 L336.9,246.7 L337.9,246.4 L339.0,246.1 L340.1,245.7 L341.2,245.4 L342.2,245.1 L343.3,244.7 L344.4,244.4 L345.4,244.1 L346.5,243.7 L347.6,243.4 L348.7,243.0 L349.7,242.7 L350.8,242.3 L351.9,242.0 L353.0,241.6 L354.0,241.3 L355.1,240.9 L356.2,240.6 L357.3,240.2 L358.3,239.9 L359.4,239.5 L360.5,239.2 L361.6,238.8 L362.6,238.5 L363.7,238.2 L364.8,237.9 L365.9,237.5 L366.9,237.2 L368.0,236.9 L369.1,236.6 L370.2,236.3 L371.2,236.0 L372.3,235.7 L373.4,235.4 L374.4,235.0 L375.5,234.7 L376.6,234.4 L377.7,234.1 L378.7,233.8 L379.8,233.4 L380.9,233.1 L382.0,232.7 L383.0,232.4 L384.1,232.0 L385.2,231.6 L386.3,231.2 L387.3,230.8 L388.4,230.4 L389.5,230.0 L390.6,229.6 L391.6,229.1 L392.7,228.7 L393.8,228.2 L394.9,227.7 L395.9,227.2 L397.0,226.6 L398.1,225.9 L399.2,225.2 L400.2,224.2 L401.3,223.0 L402.4,221.5 L403.4,219.8 L404.5,218.1 L405.6,216.3 L406.7,214.5 L407.7,212.6 L408.8,210.5 L409.9,208.3 L412.2,208.3" fill="none" stroke="#181898" stroke-width="1.9" stroke-linejoin="round" stroke-linecap="round"/>
<path d="M260.6,210.9 L261.6,220.3 L262.6,224.2 L263.5,226.8 L264.5,228.5 L265.5,229.6 L266.5,230.6 L267.5,231.4 L268.5,232.1 L269.4,232.7 L270.4,233.2 L271.4,233.7 L272.4,234.1 L273.4,234.5 L274.3,234.8 L275.3,235.2 L276.3,235.5 L277.3,235.7 L278.3,236.0 L279.3,236.2 L280.2,236.5 L281.2,236.7 L282.2,236.9 L283.2,237.1 L284.2,237.3 L285.1,237.5 L286.1,237.8 L287.1,238.0 L288.1,238.2 L289.1,238.5 L290.0,238.7 L291.0,239.0 L292.0,239.3 L293.0,239.6 L294.0,240.0 L295.0,240.3 L295.9,240.6 L296.9,240.9 L297.9,241.3 L298.9,241.6 L299.9,241.9 L300.8,242.2 L301.8,242.6 L302.8,242.9 L303.8,243.2 L304.8,243.4 L305.8,243.7 L306.7,244.0 L307.7,244.2 L308.7,244.5 L309.7,244.7 L310.7,244.9 L311.6,245.2 L312.6,245.4 L313.6,245.6 L314.6,245.8 L315.6,246.0 L316.6,246.2 L317.5,246.4 L318.5,246.6 L319.5,246.8 L320.5,247.0 L321.5,247.2 L322.4,247.4 L323.4,247.6 L324.4,247.8 L325.4,248.0 L326.4,248.2 L327.4,248.4 L328.3,248.6 L329.3,248.8 L330.3,249.0 L331.3,249.2 L332.3,249.5 L333.2,249.7 L334.2,249.9 L335.2,250.1 L336.2,250.3 L337.2,250.5 L338.1,250.7 L339.1,251.0 L340.1,251.2 L341.1,251.4 L342.1,251.6 L343.1,251.8 L344.0,252.0 L345.0,252.2 L346.0,252.4 L347.0,252.7 L348.0,252.9 L348.9,253.1 L349.9,253.3 L350.9,253.5 L351.9,253.7 L352.9,254.0 L353.9,254.2 L354.8,254.4 L355.8,254.6 L356.8,254.8 L357.8,255.0 L358.8,255.2 L359.7,255.5 L360.7,255.7 L361.7,255.9 L362.7,256.1 L363.7,256.3 L364.7,256.5 L365.6,256.8 L366.6,257.0 L367.6,257.2 L368.6,257.4 L369.6,257.6 L370.5,257.8 L371.5,258.0 L372.5,258.2 L373.5,258.4 L374.5,258.6 L375.4,258.8 L376.4,259.0 L377.4,259.2 L378.4,259.4 L379.4,259.6 L380.4,259.9 L381.3,260.1 L382.3,260.3 L383.3,260.5 L384.3,260.7 L385.3,260.9 L386.2,261.1 L387.2,261.4 L388.2,261.6 L389.2,261.9 L390.2,262.1 L391.2,262.4 L392.1,262.6 L393.1,262.9 L394.1,263.2 L395.1,263.5 L396.1,263.7 L397.0,264.0 L398.0,264.3 L399.0,264.6 L400.0,264.9 L401.0,265.3 L402.0,265.7 L402.9,266.1 L403.9,266.6 L404.9,267.1 L405.9,267.7 L406.9,268.4 L407.8,269.4 L408.8,270.6 L409.8,272.0 L410.8,273.6 L411.8,275.5 L412.8,278.0 L413.7,281.2 L414.7,285.4 L415.7,291.8 L416.7,302.6" fill="none" stroke="#0c0c8e" stroke-width="1.9" stroke-linejoin="round" stroke-linecap="round"/>
<path d="M260.6,274.8 L261.7,267.9 L262.8,265.3 L263.9,264.2 L265.0,263.4 L266.2,262.8 L267.3,262.3 L268.4,262.0 L269.5,261.6 L270.6,261.3 L271.7,261.1 L272.8,260.8 L273.9,260.5 L275.1,260.2 L276.2,260.0 L277.3,259.7 L278.4,259.5 L279.5,259.2 L280.6,259.0 L281.7,258.8 L282.8,258.6 L284.0,258.4 L285.1,258.2 L286.2,258.0 L287.3,257.8 L288.4,257.6 L289.5,257.4 L290.6,257.2 L291.7,257.1 L292.8,256.9 L294.0,256.7 L295.1,256.5 L296.2,256.3 L297.3,256.0 L298.4,255.8 L299.5,255.6 L300.6,255.4 L301.7,255.2 L302.9,254.9 L304.0,254.7 L305.1,254.5 L306.2,254.3 L307.3,254.1 L308.4,253.9 L309.5,253.6 L310.6,253.4 L311.8,253.2 L312.9,253.0 L314.0,252.8 L315.1,252.5 L316.2,252.3 L317.3,252.1 L318.4,251.9 L319.5,251.6 L320.6,251.4 L321.8,251.1 L322.9,250.9 L324.0,250.7 L325.1,250.4 L326.2,250.2 L327.3,249.9 L328.4,249.6 L329.5,249.4 L330.7,249.1 L331.8,248.8 L332.9,248.5 L334.0,248.3 L335.1,248.0 L336.2,247.7 L337.3,247.4 L338.4,247.0 L339.6,246.7 L340.7,246.4 L341.8,246.1 L342.9,245.7 L344.0,245.4 L345.1,245.1 L346.2,244.7 L347.3,244.4 L348.4,244.1 L349.6,243.7 L350.7,243.4 L351.8,243.0 L352.9,242.7 L354.0,242.3 L355.1,242.0 L356.2,241.6 L357.3,241.3 L358.5,240.9 L359.6,240.6 L360.7,240.2 L361.8,239.9 L362.9,239.5 L364.0,239.2 L365.1,238.8 L366.2,238.5 L367.4,238.2 L368.5,237.9 L369.6,237.5 L370.7,237.2 L371.8,236.9 L372.9,236.6 L374.0,236.3 L375.1,236.0 L376.2,235.7 L377.4,235.4 L378.5,235.0 L379.6,234.7 L380.7,234.4 L381.8,234.1 L382.9,233.8 L384.0,233.4 L385.1,233.1 L386.3,232.7 L387.4,232.4 L388.5,232.0 L389.6,231.6 L390.7,231.2 L391.8,230.8 L392.9,230.4 L394.0,230.0 L395.2,229.6 L396.3,229.1 L397.4,228.7 L398.5,228.2 L399.6,227.7 L400.7,227.2 L401.8,226.6 L402.9,225.9 L404.0,225.2 L405.2,224.2 L406.3,223.0 L407.4,221.5 L408.5,219.8 L409.6,218.1 L410.7,216.3 L411.8,214.5 L412.9,212.6 L414.1,210.5 L415.2,208.3 L417.4,208.3" fill="none" stroke="#0c0c8e" stroke-width="1.9" stroke-linejoin="round" stroke-linecap="round"/>
</g>
<line x1="37.00" y1="316.30" x2="39.00" y2="316.30" stroke="#000" stroke-width="1.4"/>
<text x="32.50" y="319.30" font-size="9" fill="#000" font-weight="bold" font-family='"Liberation Serif", serif' text-anchor="end" textLength="12.20" lengthAdjust="spacingAndGlyphs">2.5</text>
<line x1="37.00" y1="290.25" x2="39.00" y2="290.25" stroke="#000" stroke-width="1.4"/>
<text x="32.50" y="293.25" font-size="9" fill="#000" font-weight="bold" font-family='"Liberation Serif", serif' text-anchor="end" textLength="12.20" lengthAdjust="spacingAndGlyphs">3.0</text>
<line x1="37.00" y1="264.20" x2="39.00" y2="264.20" stroke="#000" stroke-width="1.4"/>
<text x="32.50" y="267.20" font-size="9" fill="#000" font-weight="bold" font-family='"Liberation Serif", serif' text-anchor="end" textLength="12.20" lengthAdjust="spacingAndGlyphs">3.5</text>
<line x1="37.00" y1="238.15" x2="39.00" y2="238.15" stroke="#000" stroke-width="1.4"/>
<text x="32.50" y="241.15" font-size="9" fill="#000" font-weight="bold" font-family='"Liberation Serif", serif' text-anchor="end" textLength="12.20" lengthAdjust="spacingAndGlyphs">4.0</text>
<line x1="37.00" y1="212.10" x2="39.00" y2="212.10" stroke="#000" stroke-width="1.4"/>
<text x="32.50" y="215.10" font-size="9" fill="#000" font-weight="bold" font-family='"Liberation Serif", serif' text-anchor="end" textLength="12.20" lengthAdjust="spacingAndGlyphs">4.5</text>
<line x1="37.00" y1="303.27" x2="38.20" y2="303.27" stroke="#000" stroke-width="1.2"/>
<line x1="37.00" y1="277.23" x2="38.20" y2="277.23" stroke="#000" stroke-width="1.2"/>
<line x1="37.00" y1="251.18" x2="38.20" y2="251.18" stroke="#000" stroke-width="1.2"/>
<line x1="37.00" y1="225.12" x2="38.20" y2="225.12" stroke="#000" stroke-width="1.2"/>
<line x1="37.00" y1="199.07" x2="38.20" y2="199.07" stroke="#000" stroke-width="1.2"/>
<line x1="38.70" y1="320.30" x2="38.70" y2="318.30" stroke="#000" stroke-width="1.4"/>
<text x="38.70" y="333.30" font-size="9" fill="#000" font-weight="bold" font-family='"Liberation Serif", serif' text-anchor="middle">0</text>
<line x1="76.40" y1="320.30" x2="76.40" y2="318.30" stroke="#000" stroke-width="1.4"/>
<text x="76.40" y="333.30" font-size="9" fill="#000" font-weight="bold" font-family='"Liberation Serif", serif' text-anchor="middle">50</text>
<line x1="114.10" y1="320.30" x2="114.10" y2="318.30" stroke="#000" stroke-width="1.4"/>
<text x="114.10" y="333.30" font-size="9" fill="#000" font-weight="bold" font-family='"Liberation Serif", serif' text-anchor="middle">100</text>
<line x1="151.80" y1="320.30" x2="151.80" y2="318.30" stroke="#000" stroke-width="1.4"/>
<text x="151.80" y="333.30" font-size="9" fill="#000" font-weight="bold" font-family='"Liberation Serif", serif' text-anchor="middle">150</text>
<line x1="189.50" y1="320.30" x2="189.50" y2="318.30" stroke="#000" stroke-width="1.4"/>
<text x="189.50" y="333.30" font-size="9" fill="#000" font-weight="bold" font-family='"Liberation Serif", serif' text-anchor="middle">200</text>
<line x1="57.55" y1="320.30" x2="57.55" y2="319.10" stroke="#000" stroke-width="1.2"/>
<line x1="95.25" y1="320.30" x2="95.25" y2="319.10" stroke="#000" stroke-width="1.2"/>
<line x1="132.95" y1="320.30" x2="132.95" y2="319.10" stroke="#000" stroke-width="1.2"/>
<line x1="170.65" y1="320.30" x2="170.65" y2="319.10" stroke="#000" stroke-width="1.2"/>
<line x1="208.35" y1="320.30" x2="208.35" y2="319.10" stroke="#000" stroke-width="1.2"/>
<text x="40.30" y="203.70" font-size="8.6" fill="#ff8a1c" font-weight="bold" font-family='"Liberation Serif", serif' textLength="134.50" lengthAdjust="spacingAndGlyphs">Graphite||AZ0.3-SNCM pouch cell</text>
<text x="136.60" y="253.00" font-size="10.5" fill="#ff8a1c" font-weight="bold" font-family='"Liberation Serif", serif' textLength="70.10" lengthAdjust="spacingAndGlyphs">Undoped SNCM</text>
<text x="40.30" y="290.70" font-size="10" fill="#ff8a1c" font-weight="bold" font-family='"Liberation Serif", serif' textLength="94.00" lengthAdjust="spacingAndGlyphs">2.75-4.55 V, 100 mA g</text>
<text x="134.50" y="286.10" font-size="6.5" fill="#ff8a1c" font-weight="bold" font-family='"Liberation Serif", serif'>-1</text>
<text x="67.20" y="346.70" font-size="9.5" fill="#000" font-weight="bold" font-family='"Liberation Serif", serif' textLength="105.70" lengthAdjust="spacingAndGlyphs">Specific capacity (mAh g</text>
<text x="172.80" y="341.90" font-size="6.2" fill="#000" font-weight="bold" font-family='"Liberation Serif", serif'>-1</text>
<text x="177.20" y="346.70" font-size="9.5" fill="#000" font-weight="bold" font-family='"Liberation Serif", serif'>)</text>
<text x="12.20" y="286.80" font-size="9.5" fill="#000" font-weight="bold" font-family='"Liberation Serif", serif' textLength="48.00" lengthAdjust="spacingAndGlyphs" transform="rotate(-90 12.20 286.80)">Voltage (V)</text>
<rect x="36.00" y="191.30" width="176.20" height="130.00" fill="none" stroke="#000" stroke-width="1.8"/>
<line x1="258.20" y1="315.70" x2="260.20" y2="315.70" stroke="#000" stroke-width="1.4"/>
<text x="253.70" y="318.70" font-size="9" fill="#000" font-weight="bold" font-family='"Liberation Serif", serif' text-anchor="end" textLength="12.20" lengthAdjust="spacingAndGlyphs">2.5</text>
<line x1="258.20" y1="289.50" x2="260.20" y2="289.50" stroke="#000" stroke-width="1.4"/>
<text x="253.70" y="292.50" font-size="9" fill="#000" font-weight="bold" font-family='"Liberation Serif", serif' text-anchor="end" textLength="12.20" lengthAdjust="spacingAndGlyphs">3.0</text>
<line x1="258.20" y1="263.30" x2="260.20" y2="263.30" stroke="#000" stroke-width="1.4"/>
<text x="253.70" y="266.30" font-size="9" fill="#000" font-weight="bold" font-family='"Liberation Serif", serif' text-anchor="end" textLength="12.20" lengthAdjust="spacingAndGlyphs">3.5</text>
<line x1="258.20" y1="237.10" x2="260.20" y2="237.10" stroke="#000" stroke-width="1.4"/>
<text x="253.70" y="240.10" font-size="9" fill="#000" font-weight="bold" font-family='"Liberation Serif", serif' text-anchor="end" textLength="12.20" lengthAdjust="spacingAndGlyphs">4.0</text>
<line x1="258.20" y1="210.90" x2="260.20" y2="210.90" stroke="#000" stroke-width="1.4"/>
<text x="253.70" y="213.90" font-size="9" fill="#000" font-weight="bold" font-family='"Liberation Serif", serif' text-anchor="end" textLength="12.20" lengthAdjust="spacingAndGlyphs">4.5</text>
<line x1="258.20" y1="302.60" x2="259.40" y2="302.60" stroke="#000" stroke-width="1.2"/>
<line x1="258.20" y1="276.40" x2="259.40" y2="276.40" stroke="#000" stroke-width="1.2"/>
<line x1="258.20" y1="250.20" x2="259.40" y2="250.20" stroke="#000" stroke-width="1.2"/>
<line x1="258.20" y1="224.00" x2="259.40" y2="224.00" stroke="#000" stroke-width="1.2"/>
<line x1="258.20" y1="197.80" x2="259.40" y2="197.80" stroke="#000" stroke-width="1.2"/>
<line x1="260.60" y1="319.70" x2="260.60" y2="317.70" stroke="#000" stroke-width="1.4"/>
<text x="260.60" y="332.70" font-size="9" fill="#000" font-weight="bold" font-family='"Liberation Serif", serif' text-anchor="middle">0</text>
<line x1="298.30" y1="319.70" x2="298.30" y2="317.70" stroke="#000" stroke-width="1.4"/>
<text x="298.30" y="332.70" font-size="9" fill="#000" font-weight="bold" font-family='"Liberation Serif", serif' text-anchor="middle">50</text>
<line x1="336.00" y1="319.70" x2="336.00" y2="317.70" stroke="#000" stroke-width="1.4"/>
<text x="336.00" y="332.70" font-size="9" fill="#000" font-weight="bold" font-family='"Liberation Serif", serif' text-anchor="middle">100</text>
<line x1="373.70" y1="319.70" x2="373.70" y2="317.70" stroke="#000" stroke-width="1.4"/>
<text x="373.70" y="332.70" font-size="9" fill="#000" font-weight="bold" font-family='"Liberation Serif", serif' text-anchor="middle">150</text>
<line x1="411.40" y1="319.70" x2="411.40" y2="317.70" stroke="#000" stroke-width="1.4"/>
<text x="411.40" y="332.70" font-size="9" fill="#000" font-weight="bold" font-family='"Liberation Serif", serif' text-anchor="middle">200</text>
<line x1="279.45" y1="319.70" x2="279.45" y2="318.50" stroke="#000" stroke-width="1.2"/>
<line x1="317.15" y1="319.70" x2="317.15" y2="318.50" stroke="#000" stroke-width="1.2"/>
<line x1="354.85" y1="319.70" x2="354.85" y2="318.50" stroke="#000" stroke-width="1.2"/>
<line x1="392.55" y1="319.70" x2="392.55" y2="318.50" stroke="#000" stroke-width="1.2"/>
<line x1="430.25" y1="319.70" x2="430.25" y2="318.50" stroke="#000" stroke-width="1.2"/>
<text x="264.10" y="203.90" font-size="8.6" fill="#1c1c9a" font-weight="bold" font-family='"Liberation Serif", serif' textLength="134.50" lengthAdjust="spacingAndGlyphs">Graphite||AZ0.3-SNCM pouch cell</text>
<text x="361.20" y="253.00" font-size="10.5" fill="#1c1c9a" font-weight="bold" font-family='"Liberation Serif", serif' textLength="57.80" lengthAdjust="spacingAndGlyphs">AZ0.3-SNCM</text>
<text x="267.70" y="290.90" font-size="10" fill="#1c1c9a" font-weight="bold" font-family='"Liberation Serif", serif' textLength="94.00" lengthAdjust="spacingAndGlyphs">2.75-4.55 V, 100 mA g</text>
<text x="361.90" y="286.30" font-size="6.5" fill="#1c1c9a" font-weight="bold" font-family='"Liberation Serif", serif'>-1</text>
<text x="289.10" y="346.10" font-size="9.5" fill="#000" font-weight="bold" font-family='"Liberation Serif", serif' textLength="105.70" lengthAdjust="spacingAndGlyphs">Specific capacity (mAh g</text>
<text x="394.70" y="341.30" font-size="6.2" fill="#000" font-weight="bold" font-family='"Liberation Serif", serif'>-1</text>
<text x="399.10" y="346.10" font-size="9.5" fill="#000" font-weight="bold" font-family='"Liberation Serif", serif'>)</text>
<text x="233.40" y="286.80" font-size="9.5" fill="#000" font-weight="bold" font-family='"Liberation Serif", serif' textLength="48.00" lengthAdjust="spacingAndGlyphs" transform="rotate(-90 233.40 286.80)">Voltage (V)</text>
<rect x="257.20" y="190.80" width="176.70" height="129.90" fill="none" stroke="#000" stroke-width="1.8"/>
<line x1="199.50" y1="304.30" x2="143.60" y2="304.30" stroke="#000" stroke-width="2.2"/>
<path d="M138.20,304.30 L147.20,301.60 L145.85,304.30 L147.20,307.00 Z" fill="#000"/>
<text x="123.70" y="315.80" font-size="7.4" fill="#000" font-weight="bold" font-family='"Liberation Serif", serif' textLength="19.20" lengthAdjust="spacingAndGlyphs">200th</text>
<text x="191.50" y="315.80" font-size="7.4" fill="#000" font-weight="bold" font-family='"Liberation Serif", serif' textLength="10.50" lengthAdjust="spacingAndGlyphs">1th</text>
<line x1="420.20" y1="305.60" x2="404.00" y2="305.60" stroke="#000" stroke-width="2.0"/>
<path d="M399.20,305.60 L407.20,302.90 L406.00,305.60 L407.20,308.30 Z" fill="#000"/>
<text x="377.70" y="315.50" font-size="7.4" fill="#000" font-weight="bold" font-family='"Liberation Serif", serif' textLength="19.20" lengthAdjust="spacingAndGlyphs">200th</text>
<text x="415.00" y="315.50" font-size="7.4" fill="#000" font-weight="bold" font-family='"Liberation Serif", serif' textLength="11.00" lengthAdjust="spacingAndGlyphs">1th</text>
<text x="550.30" y="16.50" font-size="10.9" fill="#000" font-weight="bold" font-family='"Liberation Sans", sans-serif' textLength="119.80" lengthAdjust="spacingAndGlyphs">Voltage range 2.75-4.55</text>
<text x="499.70" y="38.20" font-size="9.2" fill="#ff8a1c" font-weight="bold" font-family='"Liberation Sans", sans-serif' textLength="138.00" lengthAdjust="spacingAndGlyphs">Graphite||AZ0.3-SNCM pouch cell</text>
<text x="498.40" y="186.90" font-size="9.2" fill="#1c1c9a" font-weight="bold" font-family='"Liberation Sans", sans-serif' textLength="138.00" lengthAdjust="spacingAndGlyphs">Graphite||AZ0.3-SNCM pouch cell</text>
<path d="M515.7,93.8 L516.3,93.2 L517.1,92.4 L518.0,91.4 L519.1,90.4 L520.1,89.4 L521.0,88.5 L521.8,87.7 L522.6,87.0 L523.5,86.2 L524.3,85.6 L525.1,84.9 L526.1,84.4 L527.2,84.0 L528.3,83.6 L529.5,83.4 L530.7,83.1 L531.9,82.9 L533.0,82.6 L534.0,82.3 L534.9,82.0 L535.8,81.8 L536.7,81.5 L537.6,81.1 L538.5,80.5 L539.4,79.8 L540.3,78.9 L541.2,77.8 L542.1,76.8 L543.0,75.9 L544.0,75.0 L545.0,74.2 L546.0,73.4 L547.1,72.7 L548.2,72.1 L549.2,71.6 L550.2,71.3 L551.1,71.2 L552.0,71.3 L552.9,71.5 L553.8,71.8 L554.6,72.2 L555.5,72.8 L556.4,73.5 L557.3,74.4 L558.2,75.5 L559.1,76.5 L560.0,77.6 L561.0,78.5 L561.9,79.4 L562.9,80.2 L563.8,81.1 L564.8,81.8 L565.9,82.4 L567.1,82.8 L568.4,83.0 L569.9,82.9 L571.5,82.7 L573.1,82.4 L574.6,82.1 L576.0,81.8 L577.3,81.5 L578.6,81.2 L579.8,80.8 L580.9,80.4 L582.0,80.1 L583.0,79.8 L583.9,79.6 L584.8,79.4 L585.5,79.2 L586.2,79.1 L587.0,79.1 L587.7,79.2 L588.4,79.4 L589.2,79.7 L589.9,80.1 L590.6,80.6 L591.3,81.0 L592.0,81.5 L592.7,82.0 L593.4,82.5 L594.1,83.0 L594.8,83.6 L595.6,84.1 L596.5,84.5 L597.6,84.9 L598.8,85.3 L600.0,85.7 L601.3,86.0 L602.5,86.2 L603.6,86.2 L604.6,86.0 L605.5,85.7 L606.3,85.2 L607.1,84.6 L607.8,83.9 L608.5,83.0 L609.1,82.0 L609.6,80.8 L610.0,79.5 L610.4,78.1 L610.8,76.6 L611.3,75.0 L611.8,73.1 L612.4,70.7 L612.9,68.2 L613.4,66.0 L614.0,64.4 L614.5,63.8 L615.0,64.4 L615.5,66.0 L616.0,68.2 L616.4,70.6 L616.9,73.0 L617.3,75.0 L617.7,76.6 L618.0,78.1 L618.4,79.6 L618.7,81.0 L619.1,82.3 L619.5,83.5 L620.0,84.7 L620.5,85.8 L621.1,86.9 L621.7,87.8 L622.3,88.7 L623.0,89.5 L623.7,90.2 L624.4,90.7 L625.1,91.2 L625.9,91.6 L627.0,92.0 L628.3,92.4 L630.0,92.8 L631.9,93.2 L634.1,93.5 L636.3,93.8 L638.6,94.0 L640.7,94.2 L642.8,94.3 L644.9,94.2 L647.1,94.1 L649.2,94.0 L651.1,93.9 L653.0,93.8 L654.8,93.7 L656.5,93.6 L658.1,93.4 L659.5,93.3 L660.8,93.2 L661.9,93.3 L662.7,93.5 L663.3,93.8 L663.7,94.2 L663.9,94.6 L664.1,95.0 L664.3,95.2" fill="none" stroke="#000" stroke-width="1.7" stroke-linejoin="round" stroke-linecap="round"/>
<path d="M664.3,95.2 L664.2,95.4 L664.2,95.7 L664.2,96.1 L664.0,96.5 L663.5,96.9 L662.5,97.3 L661.0,97.6 L659.2,98.0 L657.0,98.3 L654.6,98.7 L652.1,99.1 L649.5,99.5 L646.8,100.0 L643.8,100.6 L640.7,101.2 L637.6,101.8 L634.6,102.4 L631.8,103.0 L629.2,103.6 L626.6,104.1 L624.1,104.7 L621.7,105.3 L619.6,105.9 L617.7,106.5 L616.1,107.1 L614.8,107.7 L613.6,108.3 L612.6,109.0 L611.7,109.7 L610.8,110.5 L609.9,111.4 L609.1,112.3 L608.4,113.3 L607.7,114.4 L607.1,115.6 L606.6,117.0 L606.1,118.5 L605.8,120.1 L605.5,121.8 L605.2,123.7 L604.9,125.7 L604.6,128.0 L604.3,130.9 L604.0,134.5 L603.6,138.4 L603.3,141.8 L603.0,144.3 L602.7,145.4 L602.4,144.7 L602.1,142.5 L601.8,139.4 L601.5,135.9 L601.2,132.6 L600.9,130.0 L600.6,128.0 L600.3,126.1 L600.0,124.4 L599.7,122.8 L599.4,121.3 L599.0,120.0 L598.7,118.8 L598.3,117.7 L598.0,116.8 L597.6,115.9 L597.1,115.2 L596.5,114.5 L595.8,113.9 L595.0,113.4 L594.1,112.9 L593.2,112.6 L592.2,112.3 L591.2,112.2 L590.1,112.2 L589.0,112.3 L587.8,112.5 L586.5,112.8 L585.3,113.1 L584.1,113.6 L582.9,114.3 L581.8,115.1 L580.6,116.1 L579.4,117.0 L578.3,117.8 L577.1,118.2 L575.9,118.3 L574.7,118.1 L573.6,117.7 L572.4,117.2 L571.2,116.7 L570.0,116.3 L568.8,115.9 L567.6,115.5 L566.4,115.1 L565.3,114.8 L564.1,114.5 L563.0,114.3 L562.0,114.2 L561.0,114.2 L560.0,114.2 L559.0,114.4 L558.0,114.6 L557.0,115.0 L555.9,115.5 L554.8,116.2 L553.7,117.0 L552.5,117.8 L551.3,118.7 L550.0,119.5 L548.6,120.4 L547.2,121.5 L545.7,122.7 L544.2,123.7 L542.8,124.4 L541.4,124.7 L540.1,124.5 L538.9,124.0 L537.7,123.1 L536.5,122.1 L535.3,121.1 L534.0,120.0 L532.7,118.9 L531.4,117.7 L530.0,116.4 L528.7,115.1 L527.3,113.8 L526.0,112.5 L524.7,111.2 L523.3,109.8 L521.9,108.5 L520.6,107.2 L519.3,106.0 L518.0,105.0 L516.8,104.2 L515.6,103.7 L514.4,103.2 L513.3,102.8 L512.1,102.5 L510.9,102.2 L509.6,101.9 L508.3,101.6 L506.9,101.4 L505.6,101.2 L504.3,101.1 L503.0,100.9 L501.7,100.8 L500.3,100.6 L499.0,100.5 L497.8,100.4 L496.8,100.4 L496.0,100.3" fill="none" stroke="#000" stroke-width="1.7" stroke-linejoin="round" stroke-linecap="round"/>
<path d="M520.5,94.3 L521.1,93.9 L521.9,93.3 L522.9,92.6 L523.9,91.8 L525.0,91.1 L526.0,90.5 L527.0,90.0 L528.0,89.4 L529.0,89.0 L530.0,88.5 L531.0,88.0 L532.0,87.5 L533.0,87.0 L534.0,86.6 L535.0,86.2 L536.0,85.7 L537.0,85.2 L538.0,84.5 L539.0,83.7 L540.0,82.7 L541.0,81.6 L542.0,80.5 L543.0,79.4 L544.0,78.5 L545.0,77.6 L546.1,76.8 L547.1,76.0 L548.2,75.3 L549.2,74.7 L550.2,74.4 L551.1,74.3 L552.0,74.3 L552.9,74.5 L553.8,74.9 L554.6,75.3 L555.5,75.8 L556.4,76.4 L557.3,77.2 L558.2,78.2 L559.1,79.1 L560.0,80.0 L561.0,80.8 L561.9,81.5 L562.9,82.3 L563.8,83.0 L564.8,83.7 L565.9,84.2 L567.1,84.5 L568.4,84.6 L569.9,84.5 L571.5,84.2 L573.1,83.9 L574.6,83.5 L576.0,83.2 L577.3,82.9 L578.6,82.5 L579.8,82.1 L580.9,81.8 L582.0,81.4 L583.0,81.2 L583.9,81.0 L584.8,80.9 L585.5,80.7 L586.2,80.7 L587.0,80.7 L587.7,80.8 L588.4,81.0 L589.2,81.3 L589.9,81.7 L590.6,82.1 L591.3,82.6 L592.0,83.0 L592.7,83.4 L593.4,83.9 L594.1,84.5 L594.8,84.9 L595.6,85.4 L596.5,85.8 L597.6,86.2 L598.8,86.5 L600.0,86.8 L601.3,87.1 L602.5,87.2 L603.6,87.2 L604.6,87.0 L605.5,86.7 L606.3,86.3 L607.1,85.8 L607.8,85.2 L608.5,84.5 L609.1,83.7 L609.6,82.9 L610.1,81.9 L610.6,80.8 L611.0,79.7 L611.5,78.5 L612.0,77.0 L612.5,75.1 L613.0,73.1 L613.5,71.4 L614.0,70.1 L614.5,69.6 L615.0,70.1 L615.5,71.3 L616.0,73.1 L616.4,75.0 L616.9,76.9 L617.3,78.5 L617.7,79.8 L618.0,81.0 L618.4,82.2 L618.7,83.4 L619.1,84.5 L619.5,85.5 L620.0,86.5 L620.5,87.4 L621.1,88.3 L621.7,89.1 L622.3,89.8 L623.0,90.5 L623.7,91.1 L624.4,91.6 L625.1,92.1 L625.9,92.6 L627.0,93.0 L628.3,93.4 L630.0,93.8 L631.9,94.3 L634.1,94.7 L636.3,95.1 L638.6,95.4 L640.7,95.6 L642.8,95.6 L644.9,95.5 L647.1,95.3 L649.2,95.1 L651.1,94.9 L653.0,94.8 L654.8,94.7 L656.5,94.6 L658.1,94.6 L659.5,94.6 L660.8,94.6 L661.9,94.6 L662.7,94.7 L663.3,94.9 L663.7,95.1 L663.9,95.3 L664.1,95.5 L664.3,95.6" fill="none" stroke="#1414ff" stroke-width="1.7" stroke-linejoin="round" stroke-linecap="round"/>
<path d="M664.3,95.6 L664.2,95.8 L664.2,96.2 L664.2,96.5 L664.0,97.0 L663.5,97.4 L662.5,97.8 L661.0,98.2 L659.2,98.6 L657.0,98.9 L654.6,99.3 L652.1,99.7 L649.5,100.2 L646.8,100.7 L643.8,101.2 L640.7,101.8 L637.6,102.4 L634.6,103.0 L631.8,103.5 L629.2,104.0 L626.6,104.5 L624.1,105.0 L621.8,105.5 L619.6,106.0 L617.7,106.5 L616.0,107.0 L614.5,107.4 L613.2,107.9 L612.0,108.4 L610.8,108.9 L609.8,109.5 L608.8,110.1 L608.0,110.8 L607.2,111.4 L606.5,112.2 L605.9,113.0 L605.3,114.0 L604.8,115.0 L604.4,116.1 L604.0,117.3 L603.7,118.6 L603.3,120.2 L603.0,122.0 L602.6,124.5 L602.3,127.7 L601.9,131.1 L601.6,134.2 L601.2,136.5 L600.9,137.5 L600.6,136.9 L600.3,134.9 L599.9,132.2 L599.6,129.2 L599.3,126.3 L599.0,124.0 L598.7,122.3 L598.4,120.7 L598.1,119.3 L597.7,118.1 L597.4,117.0 L597.0,116.0 L596.6,115.2 L596.1,114.6 L595.6,114.1 L595.1,113.7 L594.5,113.3 L594.0,113.0 L593.5,112.7 L593.0,112.4 L592.5,112.2 L591.9,112.1 L591.3,112.0 L590.5,112.0 L589.6,112.1 L588.6,112.2 L587.5,112.5 L586.4,112.7 L585.2,113.1 L584.1,113.5 L583.0,114.1 L581.8,114.8 L580.6,115.6 L579.5,116.4 L578.3,117.0 L577.1,117.3 L575.9,117.3 L574.7,117.1 L573.6,116.8 L572.4,116.3 L571.2,115.9 L570.0,115.5 L568.8,115.2 L567.6,114.8 L566.4,114.4 L565.3,114.0 L564.1,113.8 L563.0,113.6 L562.0,113.5 L561.0,113.6 L560.0,113.6 L559.0,113.8 L558.0,114.0 L557.0,114.3 L555.9,114.7 L554.8,115.1 L553.7,115.6 L552.5,116.1 L551.3,116.7 L550.0,117.2 L548.6,117.8 L547.2,118.5 L545.7,119.2 L544.2,119.8 L542.8,120.2 L541.4,120.4 L540.1,120.2 L538.9,119.9 L537.7,119.3 L536.5,118.6 L535.3,117.8 L534.0,117.0 L532.7,116.2 L531.4,115.2 L530.0,114.2 L528.7,113.1 L527.3,112.1 L526.0,111.0 L524.7,109.9 L523.3,108.7 L521.9,107.5 L520.6,106.3 L519.3,105.2 L518.0,104.3 L516.8,103.6 L515.6,102.9 L514.4,102.4 L513.3,102.0 L512.1,101.6 L510.9,101.2 L509.6,100.9 L508.3,100.6 L506.9,100.4 L505.6,100.2 L504.3,100.0 L503.0,99.8 L501.7,99.6 L500.3,99.5 L499.0,99.3 L497.8,99.2 L496.8,99.1 L496.0,99.0" fill="none" stroke="#1414ff" stroke-width="1.7" stroke-linejoin="round" stroke-linecap="round"/>
<path d="M524.5,95.4 L525.3,95.0 L526.4,94.5 L527.8,93.8 L529.2,93.1 L530.6,92.4 L532.0,91.8 L533.3,91.2 L534.7,90.7 L536.1,90.1 L537.5,89.5 L538.8,88.9 L540.0,88.2 L541.1,87.4 L542.2,86.5 L543.1,85.6 L544.1,84.7 L545.0,83.8 L546.0,83.0 L547.0,82.2 L548.0,81.5 L549.0,80.8 L549.9,80.1 L550.9,79.6 L551.8,79.3 L552.7,79.2 L553.6,79.2 L554.4,79.4 L555.3,79.7 L556.2,80.1 L557.0,80.5 L557.8,81.1 L558.7,81.8 L559.5,82.6 L560.3,83.4 L561.2,84.1 L562.0,84.8 L562.8,85.4 L563.6,86.0 L564.3,86.5 L565.1,87.0 L566.0,87.4 L567.1,87.6 L568.4,87.6 L569.9,87.5 L571.4,87.3 L573.0,87.0 L574.6,86.8 L576.0,86.5 L577.3,86.3 L578.6,86.0 L579.8,85.7 L580.9,85.5 L582.0,85.2 L583.0,85.0 L583.9,84.8 L584.8,84.6 L585.5,84.4 L586.2,84.3 L587.0,84.2 L587.7,84.2 L588.4,84.3 L589.2,84.5 L589.9,84.7 L590.6,85.0 L591.3,85.3 L592.0,85.6 L592.7,85.9 L593.3,86.3 L594.0,86.7 L594.7,87.1 L595.5,87.5 L596.5,87.8 L597.8,88.0 L599.2,88.2 L600.9,88.4 L602.5,88.5 L604.0,88.6 L605.3,88.5 L606.4,88.3 L607.3,88.1 L608.1,87.8 L608.9,87.4 L609.7,86.9 L610.5,86.5 L611.4,85.9 L612.3,85.2 L613.2,84.5 L614.0,83.8 L614.8,83.3 L615.6,83.2 L616.3,83.5 L616.9,84.1 L617.4,84.9 L618.0,85.8 L618.5,86.7 L619.0,87.5 L619.5,88.2 L619.9,88.8 L620.3,89.5 L620.8,90.1 L621.3,90.7 L622.0,91.3 L622.8,91.9 L623.6,92.5 L624.6,93.0 L625.6,93.5 L626.9,94.0 L628.3,94.5 L630.0,94.9 L632.0,95.3 L634.1,95.7 L636.3,96.0 L638.6,96.3 L640.7,96.5 L642.8,96.6 L644.9,96.6 L647.1,96.5 L649.2,96.4 L651.1,96.3 L653.0,96.2 L654.8,96.1 L656.5,96.0 L658.1,95.9 L659.5,95.7 L660.8,95.6 L661.9,95.6 L662.7,95.6 L663.3,95.7 L663.7,95.8 L663.9,95.9 L664.1,95.9 L664.3,96.0" fill="none" stroke="#ff1414" stroke-width="1.7" stroke-linejoin="round" stroke-linecap="round"/>
<path d="M664.3,96.0 L664.0,96.2 L663.8,96.4 L663.4,96.7 L662.8,97.1 L661.7,97.4 L660.0,97.8 L657.5,98.2 L654.3,98.6 L650.7,99.0 L646.9,99.5 L643.2,99.9 L640.0,100.4 L637.2,100.9 L634.5,101.3 L631.9,101.8 L629.5,102.2 L627.2,102.7 L625.0,103.2 L622.9,103.7 L621.0,104.2 L619.2,104.7 L617.5,105.2 L615.8,105.7 L614.2,106.2 L612.6,106.7 L610.9,107.1 L609.4,107.5 L607.9,108.0 L606.5,108.5 L605.3,109.2 L604.2,110.1 L603.3,111.1 L602.5,112.2 L601.8,113.3 L601.2,114.4 L600.5,115.5 L599.9,116.7 L599.3,118.0 L598.8,119.3 L598.3,120.5 L597.9,121.3 L597.4,121.6 L597.0,121.3 L596.6,120.4 L596.2,119.1 L595.8,117.8 L595.4,116.5 L595.0,115.5 L594.5,114.8 L594.1,114.2 L593.6,113.7 L593.1,113.2 L592.6,112.8 L592.0,112.5 L591.4,112.2 L590.7,112.0 L590.1,111.9 L589.4,111.8 L588.7,111.8 L588.0,111.8 L587.4,111.9 L586.8,112.0 L586.2,112.2 L585.6,112.4 L584.9,112.7 L584.1,113.0 L583.1,113.5 L582.0,114.1 L580.8,114.8 L579.6,115.4 L578.3,115.9 L577.1,116.2 L575.9,116.2 L574.7,116.0 L573.6,115.7 L572.4,115.2 L571.2,114.8 L570.0,114.5 L568.8,114.2 L567.6,113.9 L566.4,113.5 L565.3,113.2 L564.1,113.0 L563.0,112.8 L562.0,112.7 L561.0,112.7 L560.0,112.8 L559.0,112.9 L558.0,113.0 L557.0,113.2 L555.9,113.4 L554.8,113.8 L553.7,114.1 L552.5,114.5 L551.3,114.9 L550.0,115.2 L548.6,115.5 L547.2,115.9 L545.7,116.2 L544.2,116.5 L542.8,116.7 L541.4,116.7 L540.1,116.5 L538.9,116.2 L537.7,115.8 L536.5,115.2 L535.3,114.6 L534.0,114.0 L532.7,113.3 L531.4,112.5 L530.0,111.7 L528.7,110.8 L527.3,109.9 L526.0,109.0 L524.7,108.1 L523.3,107.1 L521.9,106.2 L520.6,105.3 L519.3,104.5 L518.0,103.8 L516.8,103.3 L515.6,103.0 L514.4,102.7 L513.3,102.5 L512.1,102.4 L510.9,102.2 L509.6,102.0 L508.3,101.9 L506.9,101.8 L505.6,101.7 L504.3,101.7 L503.0,101.6 L501.7,101.5 L500.3,101.5 L499.0,101.5 L497.8,101.4 L496.8,101.4 L496.0,101.4" fill="none" stroke="#ff1414" stroke-width="1.7" stroke-linejoin="round" stroke-linecap="round"/>
<path d="M506.0,244.1 L506.7,243.9 L507.6,243.7 L508.7,243.3 L509.8,243.0 L511.0,242.5 L512.0,241.9 L513.0,241.2 L513.9,240.3 L514.9,239.4 L515.8,238.4 L516.7,237.4 L517.5,236.4 L518.3,235.4 L519.0,234.3 L519.7,233.2 L520.3,232.1 L520.9,231.2 L521.5,230.4 L522.0,229.9 L522.5,229.5 L522.9,229.3 L523.4,229.1 L523.9,229.0 L524.5,228.8 L525.3,228.7 L526.1,228.6 L527.0,228.5 L528.0,228.4 L529.0,228.3 L530.0,228.2 L531.0,228.0 L532.1,227.9 L533.3,227.7 L534.4,227.5 L535.5,227.2 L536.6,226.8 L537.6,226.3 L538.6,225.6 L539.5,224.9 L540.5,224.1 L541.5,223.3 L542.5,222.4 L543.6,221.3 L544.8,220.0 L546.0,218.7 L547.2,217.4 L548.3,216.4 L549.4,215.8 L550.4,215.6 L551.3,215.8 L552.3,216.2 L553.2,216.8 L554.1,217.6 L555.0,218.4 L556.0,219.4 L557.0,220.8 L558.0,222.2 L559.0,223.7 L560.0,225.1 L561.0,226.2 L562.0,227.1 L562.9,227.9 L563.9,228.6 L564.9,229.2 L565.9,229.6 L567.1,229.9 L568.5,230.0 L570.0,229.8 L571.6,229.6 L573.1,229.2 L574.7,228.8 L576.0,228.4 L577.2,228.0 L578.3,227.5 L579.3,226.9 L580.2,226.4 L581.1,225.8 L582.0,225.4 L582.8,225.0 L583.5,224.5 L584.2,224.1 L584.8,223.8 L585.6,223.7 L586.4,223.8 L587.4,224.2 L588.4,224.9 L589.5,225.8 L590.7,226.8 L591.9,227.7 L593.0,228.4 L594.2,229.0 L595.4,229.6 L596.6,230.2 L597.8,230.6 L598.9,230.9 L600.0,231.0 L601.0,230.9 L601.9,230.8 L602.8,230.4 L603.6,229.9 L604.4,229.2 L605.2,228.2 L605.9,226.9 L606.6,225.3 L607.2,223.5 L607.9,221.5 L608.4,219.4 L609.0,217.4 L609.5,215.0 L610.1,212.2 L610.5,209.3 L611.0,206.6 L611.5,204.7 L611.9,203.9 L612.3,204.4 L612.7,205.9 L613.1,208.1 L613.5,210.7 L613.9,213.2 L614.3,215.4 L614.7,217.3 L615.1,219.2 L615.5,221.2 L615.9,223.0 L616.4,224.8 L617.0,226.4 L617.6,227.9 L618.3,229.3 L619.0,230.6 L619.9,231.8 L620.9,232.9 L622.0,233.9 L623.3,234.8 L624.9,235.7 L626.5,236.5 L628.3,237.2 L630.1,237.8 L632.0,238.4 L634.0,238.9 L636.1,239.3 L638.3,239.7 L640.6,240.0 L642.8,240.4 L645.0,240.7 L647.2,241.1 L649.5,241.4 L651.8,241.8 L654.1,242.1 L656.2,242.4 L658.0,242.7 L659.7,243.0 L661.2,243.3 L662.6,243.6 L663.8,243.8 L664.7,244.0 L665.5,244.2" fill="none" stroke="#000" stroke-width="1.7" stroke-linejoin="round" stroke-linecap="round"/>
<path d="M665.5,245.7 L665.0,245.9 L664.2,246.1 L663.4,246.4 L662.4,246.8 L661.2,247.1 L660.0,247.4 L658.7,247.7 L657.4,247.9 L655.9,248.1 L654.2,248.4 L652.3,248.7 L650.0,249.1 L647.2,249.6 L643.8,250.2 L640.1,250.9 L636.4,251.6 L633.0,252.2 L630.0,252.9 L627.5,253.5 L625.2,254.1 L623.2,254.6 L621.4,255.2 L619.6,255.9 L618.0,256.7 L616.4,257.6 L615.0,258.5 L613.7,259.5 L612.5,260.6 L611.5,261.9 L610.5,263.4 L609.7,265.0 L609.0,266.5 L608.5,268.3 L608.0,270.3 L607.5,272.8 L607.0,275.9 L606.4,280.3 L605.9,286.1 L605.3,292.3 L604.8,298.0 L604.3,302.4 L603.8,304.4 L603.3,303.6 L602.9,300.7 L602.4,296.4 L602.0,291.4 L601.6,286.7 L601.2,282.9 L600.8,279.9 L600.4,277.1 L600.0,274.4 L599.6,272.0 L599.2,269.8 L598.8,267.9 L598.3,266.4 L597.8,265.1 L597.3,264.2 L596.8,263.4 L596.3,262.7 L595.8,262.1 L595.3,261.5 L594.9,261.1 L594.5,260.8 L594.1,260.6 L593.5,260.5 L592.8,260.5 L591.9,260.6 L590.8,260.8 L589.7,261.2 L588.5,261.6 L587.2,262.0 L586.0,262.4 L584.8,262.9 L583.5,263.5 L582.2,264.1 L580.9,264.6 L579.6,265.0 L578.3,265.2 L576.9,265.0 L575.6,264.6 L574.1,264.0 L572.7,263.4 L571.4,262.8 L570.0,262.4 L568.7,262.1 L567.4,261.8 L566.1,261.5 L564.8,261.4 L563.6,261.4 L562.3,261.5 L561.1,261.8 L560.0,262.4 L558.9,263.0 L557.7,263.8 L556.4,264.6 L555.0,265.4 L553.4,266.4 L551.6,267.7 L549.7,269.1 L547.7,270.3 L545.7,271.2 L543.8,271.4 L541.9,270.9 L539.9,269.9 L537.9,268.5 L536.0,266.9 L534.0,265.3 L532.0,263.9 L530.0,262.5 L527.9,261.1 L525.8,259.7 L523.8,258.3 L521.8,257.0 L520.0,255.9 L518.3,255.0 L516.7,254.3 L515.2,253.6 L513.7,253.1 L512.3,252.6 L510.9,252.1 L509.5,251.6 L508.1,251.2 L506.8,250.9 L505.5,250.5 L504.3,250.2 L503.0,249.9 L501.7,249.6 L500.3,249.2 L499.0,248.9 L497.8,248.6 L496.8,248.3 L496.0,248.1" fill="none" stroke="#000" stroke-width="1.7" stroke-linejoin="round" stroke-linecap="round"/>
<path d="M506.3,244.4 L507.0,244.2 L507.9,244.0 L509.0,243.6 L510.1,243.3 L511.3,242.8 L512.3,242.2 L513.3,241.5 L514.2,240.6 L515.2,239.7 L516.1,238.7 L517.0,237.7 L517.8,236.7 L518.6,235.7 L519.3,234.6 L520.0,233.5 L520.6,232.4 L521.2,231.5 L521.8,230.7 L522.3,230.2 L522.8,229.8 L523.2,229.6 L523.7,229.4 L524.2,229.3 L524.8,229.1 L525.6,229.0 L526.4,228.9 L527.3,228.8 L528.3,228.7 L529.3,228.6 L530.3,228.5 L531.3,228.3 L532.4,228.2 L533.6,228.0 L534.7,227.8 L535.8,227.5 L536.9,227.1 L537.9,226.6 L538.9,225.9 L539.8,225.2 L540.8,224.4 L541.8,223.6 L542.8,222.7 L543.9,221.6 L545.1,220.3 L546.3,219.0 L547.5,217.7 L548.6,216.7 L549.7,216.1 L550.7,215.9 L551.6,216.1 L552.6,216.5 L553.5,217.1 L554.4,217.9 L555.3,218.7 L556.3,219.7 L557.3,221.1 L558.3,222.5 L559.3,224.0 L560.3,225.4 L561.3,226.5 L562.3,227.4 L563.2,228.2 L564.2,228.9 L565.2,229.5 L566.2,229.9 L567.4,230.2 L568.8,230.3 L570.3,230.1 L571.9,229.9 L573.4,229.5 L575.0,229.1 L576.3,228.7 L577.5,228.3 L578.6,227.8 L579.6,227.2 L580.5,226.7 L581.4,226.1 L582.3,225.7 L583.1,225.3 L583.8,224.8 L584.5,224.4 L585.1,224.1 L585.9,224.0 L586.7,224.1 L587.7,224.5 L588.7,225.2 L589.8,226.1 L591.0,227.1 L592.2,228.0 L593.3,228.7 L594.5,229.3 L595.7,229.9 L596.9,230.5 L598.1,230.9 L599.2,231.2 L600.3,231.3 L601.3,231.2 L602.2,231.1 L603.1,230.7 L603.9,230.2 L604.7,229.5 L605.5,228.5 L606.2,227.2 L606.9,225.6 L607.5,223.8 L608.2,221.8 L608.7,219.7 L609.3,217.7 L609.8,215.3 L610.4,212.5 L610.8,209.6 L611.3,206.9 L611.8,205.0 L612.2,204.2 L612.6,204.7 L613.0,206.2 L613.4,208.4 L613.8,211.0 L614.2,213.5 L614.6,215.7 L615.0,217.6 L615.4,219.5 L615.8,221.4 L616.2,223.3 L616.7,225.1 L617.3,226.7 L617.9,228.2 L618.6,229.6 L619.3,230.9 L620.2,232.1 L621.2,233.2 L622.3,234.2 L623.6,235.1 L625.2,236.0 L626.8,236.8 L628.6,237.5 L630.4,238.1 L632.3,238.7 L634.3,239.2 L636.4,239.6 L638.6,240.0 L640.9,240.3 L643.1,240.7 L645.3,241.0 L647.5,241.4 L649.8,241.7 L652.1,242.1 L654.4,242.4 L656.5,242.7 L658.3,243.0 L660.0,243.3 L661.5,243.6 L662.9,243.9 L664.1,244.1 L665.0,244.3 L665.8,244.5" fill="none" stroke="#1414ff" stroke-width="1.7" stroke-linejoin="round" stroke-linecap="round"/>
<path d="M665.4,245.2 L664.8,245.4 L664.1,245.7 L663.2,246.0 L662.2,246.3 L661.1,246.6 L659.9,246.9 L658.6,247.2 L657.2,247.4 L655.8,247.7 L654.1,247.9 L652.1,248.2 L649.9,248.6 L647.0,249.2 L643.6,249.8 L640.0,250.4 L636.3,251.1 L632.8,251.8 L629.9,252.4 L627.3,253.0 L625.1,253.6 L623.1,254.2 L621.2,254.8 L619.5,255.4 L617.9,256.2 L616.3,257.1 L614.9,258.1 L613.6,259.1 L612.4,260.2 L611.3,261.5 L610.4,262.9 L609.5,264.5 L608.9,266.1 L608.3,267.8 L607.8,269.8 L607.4,272.3 L606.9,275.4 L606.3,280.0 L605.7,285.9 L605.2,292.4 L604.7,298.3 L604.1,302.8 L603.6,304.9 L603.2,304.1 L602.7,301.0 L602.3,296.5 L601.9,291.3 L601.5,286.4 L601.1,282.4 L600.6,279.4 L600.3,276.6 L599.9,273.9 L599.5,271.5 L599.1,269.3 L598.6,267.4 L598.2,265.9 L597.7,264.7 L597.2,263.7 L596.7,262.9 L596.2,262.3 L595.6,261.6 L595.2,261.1 L594.8,260.7 L594.4,260.4 L593.9,260.2 L593.4,260.1 L592.6,260.1 L591.7,260.2 L590.7,260.4 L589.5,260.7 L588.3,261.1 L587.1,261.5 L585.9,261.9 L584.6,262.4 L583.4,263.0 L582.1,263.6 L580.8,264.2 L579.5,264.6 L578.1,264.8 L576.8,264.6 L575.4,264.2 L574.0,263.6 L572.6,262.9 L571.2,262.4 L569.9,261.9 L568.5,261.6 L567.2,261.3 L565.9,261.1 L564.7,260.9 L563.4,260.9 L562.1,261.1 L561.0,261.4 L559.8,261.9 L558.7,262.6 L557.6,263.3 L556.3,264.1 L554.9,264.9 L553.2,266.0 L551.4,267.3 L549.5,268.7 L547.6,269.9 L545.6,270.7 L543.6,270.9 L541.7,270.5 L539.8,269.5 L537.8,268.1 L535.8,266.5 L533.8,264.9 L531.9,263.4 L529.8,262.1 L527.8,260.7 L525.7,259.2 L523.6,257.8 L521.7,256.5 L519.9,255.4 L518.2,254.6 L516.6,253.8 L515.0,253.2 L513.6,252.6 L512.2,252.1 L510.8,251.6 L509.4,251.2 L508.0,250.8 L506.7,250.4 L505.4,250.1 L504.1,249.8 L502.9,249.4 L501.6,249.1 L500.2,248.8 L498.9,248.4 L497.6,248.1 L496.6,247.8 L495.9,247.6" fill="none" stroke="#1414ff" stroke-width="1.7" stroke-linejoin="round" stroke-linecap="round"/>
<path d="M506.6,244.7 L507.3,244.5 L508.2,244.3 L509.3,243.9 L510.4,243.6 L511.6,243.1 L512.6,242.5 L513.6,241.8 L514.5,240.9 L515.5,240.0 L516.4,239.0 L517.3,238.0 L518.1,237.0 L518.9,236.0 L519.6,234.9 L520.3,233.8 L520.9,232.7 L521.5,231.8 L522.1,231.0 L522.6,230.5 L523.1,230.1 L523.5,229.9 L524.0,229.7 L524.5,229.6 L525.1,229.4 L525.9,229.3 L526.7,229.2 L527.6,229.1 L528.6,229.0 L529.6,228.9 L530.6,228.8 L531.6,228.6 L532.7,228.5 L533.9,228.3 L535.0,228.1 L536.1,227.8 L537.2,227.4 L538.2,226.9 L539.2,226.2 L540.1,225.5 L541.1,224.7 L542.1,223.9 L543.1,223.0 L544.2,221.9 L545.4,220.6 L546.6,219.3 L547.8,218.0 L548.9,217.0 L550.0,216.4 L551.0,216.2 L551.9,216.4 L552.9,216.8 L553.8,217.4 L554.7,218.2 L555.6,219.0 L556.6,220.0 L557.6,221.4 L558.6,222.8 L559.6,224.3 L560.6,225.7 L561.6,226.8 L562.6,227.7 L563.5,228.5 L564.5,229.2 L565.5,229.8 L566.5,230.2 L567.7,230.5 L569.1,230.6 L570.6,230.4 L572.2,230.2 L573.7,229.8 L575.3,229.4 L576.6,229.0 L577.8,228.6 L578.9,228.1 L579.9,227.5 L580.8,227.0 L581.7,226.4 L582.6,226.0 L583.4,225.6 L584.1,225.1 L584.8,224.7 L585.4,224.4 L586.2,224.3 L587.0,224.4 L588.0,224.8 L589.0,225.5 L590.1,226.4 L591.3,227.4 L592.5,228.3 L593.6,229.0 L594.8,229.6 L596.0,230.2 L597.2,230.8 L598.4,231.2 L599.5,231.5 L600.6,231.6 L601.6,231.5 L602.5,231.4 L603.4,231.0 L604.2,230.5 L605.0,229.8 L605.8,228.8 L606.5,227.4 L607.2,225.7 L607.8,223.8 L608.5,221.7 L609.0,219.8 L609.6,218.0 L610.1,216.3 L610.7,214.4 L611.1,212.7 L611.6,211.1 L612.1,210.0 L612.5,209.5 L612.9,209.7 L613.3,210.4 L613.7,211.5 L614.1,212.9 L614.5,214.5 L614.9,216.0 L615.3,217.6 L615.7,219.5 L616.1,221.4 L616.5,223.4 L617.0,225.3 L617.6,227.0 L618.2,228.5 L618.9,229.9 L619.6,231.2 L620.5,232.4 L621.5,233.5 L622.6,234.5 L623.9,235.4 L625.5,236.3 L627.1,237.1 L628.9,237.8 L630.7,238.4 L632.6,239.0 L634.6,239.5 L636.7,239.9 L638.9,240.3 L641.2,240.6 L643.4,241.0 L645.6,241.3 L647.8,241.7 L650.1,242.0 L652.4,242.4 L654.7,242.7 L656.8,243.0 L658.6,243.3 L660.3,243.6 L661.8,243.9 L663.2,244.2 L664.4,244.4 L665.3,244.6 L666.1,244.8" fill="none" stroke="#ff1414" stroke-width="1.7" stroke-linejoin="round" stroke-linecap="round"/>
<path d="M665.2,244.8 L664.7,245.0 L663.9,245.2 L663.1,245.5 L662.1,245.9 L660.9,246.2 L659.7,246.5 L658.4,246.8 L657.1,247.0 L655.6,247.2 L653.9,247.5 L652.0,247.8 L649.7,248.2 L646.9,248.7 L643.5,249.3 L639.8,250.0 L636.1,250.7 L632.7,251.3 L629.7,252.0 L627.2,252.6 L624.9,253.2 L622.9,253.7 L621.1,254.3 L619.3,255.0 L617.7,255.8 L616.1,256.7 L614.7,257.6 L613.4,258.6 L612.2,259.7 L611.2,261.0 L610.2,262.5 L609.4,264.1 L608.7,265.7 L608.2,267.5 L607.7,269.6 L607.2,272.1 L606.7,275.0 L606.1,279.1 L605.6,284.3 L605.0,290.0 L604.5,295.2 L604.0,299.1 L603.5,301.0 L603.0,300.4 L602.6,297.9 L602.1,294.1 L601.7,289.7 L601.3,285.5 L600.9,282.0 L600.5,279.2 L600.1,276.4 L599.7,273.7 L599.3,271.2 L598.9,268.9 L598.5,267.0 L598.0,265.5 L597.5,264.2 L597.0,263.3 L596.5,262.5 L596.0,261.8 L595.5,261.2 L595.0,260.6 L594.6,260.2 L594.2,259.9 L593.8,259.7 L593.2,259.6 L592.5,259.6 L591.6,259.7 L590.5,259.9 L589.4,260.3 L588.2,260.7 L586.9,261.1 L585.7,261.5 L584.5,262.0 L583.2,262.6 L581.9,263.2 L580.6,263.7 L579.3,264.1 L578.0,264.3 L576.6,264.1 L575.3,263.7 L573.9,263.1 L572.4,262.5 L571.1,261.9 L569.7,261.5 L568.4,261.2 L567.1,260.9 L565.8,260.6 L564.5,260.5 L563.3,260.5 L562.0,260.6 L560.8,260.9 L559.7,261.5 L558.6,262.1 L557.4,262.9 L556.1,263.7 L554.7,264.5 L553.1,265.5 L551.3,266.8 L549.4,268.2 L547.4,269.4 L545.4,270.3 L543.5,270.5 L541.6,270.0 L539.6,269.0 L537.6,267.6 L535.7,266.0 L533.7,264.4 L531.7,263.0 L529.7,261.6 L527.6,260.2 L525.5,258.8 L523.5,257.4 L521.5,256.1 L519.7,255.0 L518.0,254.1 L516.4,253.4 L514.9,252.7 L513.4,252.2 L512.0,251.7 L510.6,251.2 L509.2,250.7 L507.8,250.3 L506.5,250.0 L505.2,249.6 L504.0,249.3 L502.7,249.0 L501.4,248.7 L500.0,248.3 L498.7,248.0 L497.5,247.7 L496.5,247.4 L495.7,247.2" fill="none" stroke="#ff1414" stroke-width="1.7" stroke-linejoin="round" stroke-linecap="round"/>
<text x="511.70" y="82.60" font-size="8.6" fill="#000" font-weight="bold" font-family='"Liberation Sans", sans-serif' textLength="10.30" lengthAdjust="spacingAndGlyphs">H1</text>
<text x="532.60" y="65.70" font-size="8.6" fill="#000" font-weight="bold" font-family='"Liberation Sans", sans-serif' textLength="24.00" lengthAdjust="spacingAndGlyphs">H1+M</text>
<text x="572.70" y="75.30" font-size="8.6" fill="#000" font-weight="bold" font-family='"Liberation Sans", sans-serif' textLength="24.10" lengthAdjust="spacingAndGlyphs">M+H2</text>
<text x="567.00" y="99.40" font-size="8.6" fill="#000" font-weight="bold" font-family='"Liberation Sans", sans-serif' textLength="8.00" lengthAdjust="spacingAndGlyphs">M</text>
<text x="594.60" y="102.00" font-size="8.6" fill="#000" font-weight="bold" font-family='"Liberation Sans", sans-serif' textLength="11.40" lengthAdjust="spacingAndGlyphs">H2</text>
<text x="600.70" y="60.70" font-size="8.6" fill="#000" font-weight="bold" font-family='"Liberation Sans", sans-serif' textLength="27.60" lengthAdjust="spacingAndGlyphs">H2+H3</text>
<text x="647.40" y="90.60" font-size="8.6" fill="#000" font-weight="bold" font-family='"Liberation Sans", sans-serif' textLength="10.80" lengthAdjust="spacingAndGlyphs">H3</text>
<text x="510.00" y="224.60" font-size="8.6" fill="#000" font-weight="bold" font-family='"Liberation Sans", sans-serif' textLength="11.30" lengthAdjust="spacingAndGlyphs">H1</text>
<text x="529.30" y="211.80" font-size="8.6" fill="#000" font-weight="bold" font-family='"Liberation Sans", sans-serif' textLength="24.90" lengthAdjust="spacingAndGlyphs">H1+M</text>
<text x="569.50" y="220.60" font-size="8.6" fill="#000" font-weight="bold" font-family='"Liberation Sans", sans-serif' textLength="24.90" lengthAdjust="spacingAndGlyphs">M+H2</text>
<text x="562.30" y="241.50" font-size="8.6" fill="#000" font-weight="bold" font-family='"Liberation Sans", sans-serif' textLength="8.00" lengthAdjust="spacingAndGlyphs">M</text>
<text x="590.40" y="243.80" font-size="8.6" fill="#000" font-weight="bold" font-family='"Liberation Sans", sans-serif' textLength="10.80" lengthAdjust="spacingAndGlyphs">H2</text>
<text x="596.10" y="203.00" font-size="8.6" fill="#000" font-weight="bold" font-family='"Liberation Sans", sans-serif' textLength="26.80" lengthAdjust="spacingAndGlyphs">H2+H3</text>
<text x="642.80" y="235.60" font-size="8.6" fill="#000" font-weight="bold" font-family='"Liberation Sans", sans-serif' textLength="10.50" lengthAdjust="spacingAndGlyphs">H3</text>
<line x1="506.00" y1="137.60" x2="527.00" y2="137.60" stroke="#000" stroke-width="1.8"/>
<text x="531.60" y="141.00" font-size="8.4" fill="#000" font-weight="bold" font-family='"Liberation Sans", sans-serif' textLength="10.20" lengthAdjust="spacingAndGlyphs">1st</text>
<line x1="506.00" y1="150.90" x2="527.00" y2="150.90" stroke="#1414ff" stroke-width="1.8"/>
<text x="532.20" y="154.40" font-size="8.4" fill="#000" font-weight="bold" font-family='"Liberation Sans", sans-serif' textLength="19.60" lengthAdjust="spacingAndGlyphs">100th</text>
<line x1="506.00" y1="163.70" x2="527.00" y2="163.70" stroke="#ff1414" stroke-width="1.8"/>
<text x="532.20" y="167.20" font-size="8.4" fill="#000" font-weight="bold" font-family='"Liberation Sans", sans-serif' textLength="19.60" lengthAdjust="spacingAndGlyphs">200th</text>
<line x1="506.00" y1="283.00" x2="527.00" y2="283.00" stroke="#000" stroke-width="1.8"/>
<text x="531.60" y="286.40" font-size="8.4" fill="#000" font-weight="bold" font-family='"Liberation Sans", sans-serif' textLength="10.20" lengthAdjust="spacingAndGlyphs">1st</text>
<line x1="506.00" y1="296.20" x2="527.00" y2="296.20" stroke="#1414ff" stroke-width="1.8"/>
<text x="532.20" y="300.00" font-size="8.4" fill="#000" font-weight="bold" font-family='"Liberation Sans", sans-serif' textLength="19.60" lengthAdjust="spacingAndGlyphs">100th</text>
<line x1="506.00" y1="309.40" x2="527.00" y2="309.40" stroke="#ff1414" stroke-width="1.8"/>
<text x="532.20" y="313.20" font-size="8.4" fill="#000" font-weight="bold" font-family='"Liberation Sans", sans-serif' textLength="19.60" lengthAdjust="spacingAndGlyphs">200th</text>
<text x="598.70" y="161.20" font-size="9.2" fill="#ff8a1c" font-weight="bold" font-family='"Liberation Sans", sans-serif' textLength="65.30" lengthAdjust="spacingAndGlyphs">Undoped SNCM</text>
<text x="613.00" y="291.80" font-size="9.2" fill="#1c1c9a" font-weight="bold" font-family='"Liberation Sans", sans-serif' textLength="51.30" lengthAdjust="spacingAndGlyphs">AZ0.3-SNCM</text>
<rect x="495.5" y="25.8" width="177.1" height="292.2" fill="none" stroke="#000" stroke-width="2.0"/>
<line x1="495.50" y1="172.20" x2="672.60" y2="172.20" stroke="#000" stroke-width="2"/>
<line x1="507.86" y1="317.00" x2="507.86" y2="315.50" stroke="#000" stroke-width="1.3"/>
<line x1="520.52" y1="317.00" x2="520.52" y2="314.60" stroke="#000" stroke-width="1.3"/>
<line x1="533.18" y1="317.00" x2="533.18" y2="315.50" stroke="#000" stroke-width="1.3"/>
<line x1="545.84" y1="317.00" x2="545.84" y2="314.60" stroke="#000" stroke-width="1.3"/>
<line x1="558.50" y1="317.00" x2="558.50" y2="315.50" stroke="#000" stroke-width="1.3"/>
<line x1="571.16" y1="317.00" x2="571.16" y2="314.60" stroke="#000" stroke-width="1.3"/>
<line x1="583.82" y1="317.00" x2="583.82" y2="315.50" stroke="#000" stroke-width="1.3"/>
<line x1="596.48" y1="317.00" x2="596.48" y2="314.60" stroke="#000" stroke-width="1.3"/>
<line x1="609.14" y1="317.00" x2="609.14" y2="315.50" stroke="#000" stroke-width="1.3"/>
<line x1="621.80" y1="317.00" x2="621.80" y2="314.60" stroke="#000" stroke-width="1.3"/>
<line x1="634.46" y1="317.00" x2="634.46" y2="315.50" stroke="#000" stroke-width="1.3"/>
<line x1="647.12" y1="317.00" x2="647.12" y2="314.60" stroke="#000" stroke-width="1.3"/>
<line x1="659.78" y1="317.00" x2="659.78" y2="315.50" stroke="#000" stroke-width="1.3"/>
<text x="495.20" y="330.00" font-size="8.8" fill="#000" font-weight="bold" font-family='"Liberation Sans", sans-serif' text-anchor="middle" textLength="13.00" lengthAdjust="spacingAndGlyphs">3.2</text>
<text x="520.52" y="330.00" font-size="8.8" fill="#000" font-weight="bold" font-family='"Liberation Sans", sans-serif' text-anchor="middle" textLength="13.00" lengthAdjust="spacingAndGlyphs">3.4</text>
<text x="545.84" y="330.00" font-size="8.8" fill="#000" font-weight="bold" font-family='"Liberation Sans", sans-serif' text-anchor="middle" textLength="13.00" lengthAdjust="spacingAndGlyphs">3.6</text>
<text x="571.16" y="330.00" font-size="8.8" fill="#000" font-weight="bold" font-family='"Liberation Sans", sans-serif' text-anchor="middle" textLength="13.00" lengthAdjust="spacingAndGlyphs">3.8</text>
<text x="596.48" y="330.00" font-size="8.8" fill="#000" font-weight="bold" font-family='"Liberation Sans", sans-serif' text-anchor="middle" textLength="13.00" lengthAdjust="spacingAndGlyphs">4.0</text>
<text x="621.80" y="330.00" font-size="8.8" fill="#000" font-weight="bold" font-family='"Liberation Sans", sans-serif' text-anchor="middle" textLength="13.00" lengthAdjust="spacingAndGlyphs">4.2</text>
<text x="647.12" y="330.00" font-size="8.8" fill="#000" font-weight="bold" font-family='"Liberation Sans", sans-serif' text-anchor="middle" textLength="13.00" lengthAdjust="spacingAndGlyphs">4.4</text>
<text x="672.44" y="330.00" font-size="8.8" fill="#000" font-weight="bold" font-family='"Liberation Sans", sans-serif' text-anchor="middle" textLength="13.00" lengthAdjust="spacingAndGlyphs">4.6</text>
<text x="561.50" y="346.50" font-size="9.6" fill="#000" font-weight="bold" font-family='"Liberation Sans", sans-serif' textLength="44.70" lengthAdjust="spacingAndGlyphs">Voltage (V)</text>
<text x="484.00" y="233.00" font-size="9.3" fill="#000" font-weight="bold" font-family='"Liberation Sans", sans-serif' textLength="110.00" lengthAdjust="spacingAndGlyphs" transform="rotate(-90 484.00 233.00)">Differential capacity (mAh g</text>
<text x="478.80" y="123.00" font-size="6" fill="#000" font-weight="bold" font-family='"Liberation Sans", sans-serif' transform="rotate(-90 478.80 123.00)">-1</text>
<text x="484.00" y="116.50" font-size="9.3" fill="#000" font-weight="bold" font-family='"Liberation Sans", sans-serif' transform="rotate(-90 484.00 116.50)">V</text>
<text x="478.80" y="110.00" font-size="6" fill="#000" font-weight="bold" font-family='"Liberation Sans", sans-serif' transform="rotate(-90 478.80 110.00)">-1</text>
<text x="484.00" y="104.00" font-size="9.3" fill="#000" font-weight="bold" font-family='"Liberation Sans", sans-serif' transform="rotate(-90 484.00 104.00)">)</text>
<text x="42.90" y="387.30" font-size="10.4" fill="#1c1c9a" font-weight="bold" font-family='"Liberation Sans", sans-serif' textLength="166.00" lengthAdjust="spacingAndGlyphs">Lithium||AZ0.3-SNCM pouch cell</text>
<clipPath id="ce"><rect x="37" y="398.8" width="396" height="131.5"/></clipPath>
<g clip-path="url(#ce)">
<circle cx="43.77" cy="461.30" r="3.95" fill="url(#gK)"/>
<circle cx="51.75" cy="460.66" r="3.95" fill="url(#gK)"/>
<circle cx="59.72" cy="461.02" r="3.95" fill="url(#gK)"/>
<circle cx="67.70" cy="461.30" r="3.95" fill="url(#gK)"/>
<circle cx="75.67" cy="461.94" r="3.95" fill="url(#gK)"/>
<circle cx="83.65" cy="462.58" r="3.95" fill="url(#gK)"/>
<circle cx="91.62" cy="462.93" r="3.95" fill="url(#gK)"/>
<circle cx="99.60" cy="461.51" r="3.95" fill="url(#gK)"/>
<circle cx="107.57" cy="461.51" r="3.95" fill="url(#gK)"/>
<circle cx="115.55" cy="460.66" r="3.95" fill="url(#gK)"/>
<circle cx="123.52" cy="462.93" r="3.95" fill="url(#gK)"/>
<circle cx="131.50" cy="463.36" r="3.95" fill="url(#gK)"/>
<circle cx="139.47" cy="463.99" r="3.95" fill="url(#gK)"/>
<circle cx="147.45" cy="464.35" r="3.95" fill="url(#gK)"/>
<circle cx="155.43" cy="464.35" r="3.95" fill="url(#gK)"/>
<circle cx="163.40" cy="462.58" r="3.95" fill="url(#gK)"/>
<circle cx="171.38" cy="462.22" r="3.95" fill="url(#gK)"/>
<circle cx="179.35" cy="463.64" r="3.95" fill="url(#gK)"/>
<circle cx="187.32" cy="464.70" r="3.95" fill="url(#gK)"/>
<circle cx="195.30" cy="467.47" r="3.95" fill="url(#gK)"/>
<circle cx="203.27" cy="467.18" r="3.95" fill="url(#gK)"/>
<circle cx="211.25" cy="468.53" r="3.95" fill="url(#gK)"/>
<circle cx="219.22" cy="468.60" r="3.95" fill="url(#gK)"/>
<circle cx="227.20" cy="469.31" r="3.95" fill="url(#gK)"/>
<circle cx="235.18" cy="469.31" r="3.95" fill="url(#gK)"/>
<circle cx="243.15" cy="470.38" r="3.95" fill="url(#gK)"/>
<circle cx="251.12" cy="471.08" r="3.95" fill="url(#gK)"/>
<circle cx="259.10" cy="471.44" r="3.95" fill="url(#gK)"/>
<circle cx="267.07" cy="471.79" r="3.95" fill="url(#gK)"/>
<circle cx="275.05" cy="472.50" r="3.95" fill="url(#gK)"/>
<circle cx="283.02" cy="472.86" r="3.95" fill="url(#gK)"/>
<circle cx="291.00" cy="473.00" r="3.95" fill="url(#gK)"/>
<circle cx="298.98" cy="473.57" r="3.95" fill="url(#gK)"/>
<circle cx="306.95" cy="474.27" r="3.95" fill="url(#gK)"/>
<circle cx="314.93" cy="474.63" r="3.95" fill="url(#gK)"/>
<circle cx="322.90" cy="474.98" r="3.95" fill="url(#gK)"/>
<circle cx="330.88" cy="475.41" r="3.95" fill="url(#gK)"/>
<circle cx="338.85" cy="474.27" r="3.95" fill="url(#gK)"/>
<circle cx="346.82" cy="473.57" r="3.95" fill="url(#gK)"/>
<circle cx="354.80" cy="473.64" r="3.95" fill="url(#gK)"/>
<circle cx="362.77" cy="475.69" r="3.95" fill="url(#gK)"/>
<circle cx="370.75" cy="476.40" r="3.95" fill="url(#gK)"/>
<circle cx="378.73" cy="476.76" r="3.95" fill="url(#gK)"/>
<circle cx="386.70" cy="477.11" r="3.95" fill="url(#gK)"/>
<circle cx="394.68" cy="477.11" r="3.95" fill="url(#gK)"/>
<circle cx="402.65" cy="477.82" r="3.95" fill="url(#gK)"/>
<circle cx="410.62" cy="475.41" r="3.95" fill="url(#gK)"/>
<circle cx="418.60" cy="478.39" r="3.95" fill="url(#gK)"/>
<circle cx="426.57" cy="479.24" r="3.95" fill="url(#gK)"/>
<circle cx="434.55" cy="480.30" r="3.95" fill="url(#gK)"/>
<circle cx="43.77" cy="411.70" r="3.95" fill="url(#gN)"/>
<circle cx="51.75" cy="410.80" r="3.95" fill="url(#gN)"/>
<circle cx="59.72" cy="411.30" r="3.95" fill="url(#gN)"/>
<circle cx="67.70" cy="411.70" r="3.95" fill="url(#gN)"/>
<circle cx="75.67" cy="412.60" r="3.95" fill="url(#gN)"/>
<circle cx="83.65" cy="413.50" r="3.95" fill="url(#gN)"/>
<circle cx="91.62" cy="414.00" r="3.95" fill="url(#gN)"/>
<circle cx="99.60" cy="412.00" r="3.95" fill="url(#gN)"/>
<circle cx="107.57" cy="412.00" r="3.95" fill="url(#gN)"/>
<circle cx="115.55" cy="410.80" r="3.95" fill="url(#gN)"/>
<circle cx="123.52" cy="414.00" r="3.95" fill="url(#gN)"/>
<circle cx="131.50" cy="414.60" r="3.95" fill="url(#gN)"/>
<circle cx="139.47" cy="415.50" r="3.95" fill="url(#gN)"/>
<circle cx="147.45" cy="416.00" r="3.95" fill="url(#gN)"/>
<circle cx="155.43" cy="416.00" r="3.95" fill="url(#gN)"/>
<circle cx="163.40" cy="413.50" r="3.95" fill="url(#gN)"/>
<circle cx="171.38" cy="413.00" r="3.95" fill="url(#gN)"/>
<circle cx="179.35" cy="415.00" r="3.95" fill="url(#gN)"/>
<circle cx="187.32" cy="416.50" r="3.95" fill="url(#gN)"/>
<circle cx="195.30" cy="420.40" r="3.95" fill="url(#gN)"/>
<circle cx="203.27" cy="420.00" r="3.95" fill="url(#gN)"/>
<circle cx="211.25" cy="421.90" r="3.95" fill="url(#gN)"/>
<circle cx="219.22" cy="422.00" r="3.95" fill="url(#gN)"/>
<circle cx="227.20" cy="423.00" r="3.95" fill="url(#gN)"/>
<circle cx="235.18" cy="423.00" r="3.95" fill="url(#gN)"/>
<circle cx="243.15" cy="424.50" r="3.95" fill="url(#gN)"/>
<circle cx="251.12" cy="425.50" r="3.95" fill="url(#gN)"/>
<circle cx="259.10" cy="426.00" r="3.95" fill="url(#gN)"/>
<circle cx="267.07" cy="426.50" r="3.95" fill="url(#gN)"/>
<circle cx="275.05" cy="427.50" r="3.95" fill="url(#gN)"/>
<circle cx="283.02" cy="428.00" r="3.95" fill="url(#gN)"/>
<circle cx="291.00" cy="428.20" r="3.95" fill="url(#gN)"/>
<circle cx="298.98" cy="429.00" r="3.95" fill="url(#gN)"/>
<circle cx="306.95" cy="430.00" r="3.95" fill="url(#gN)"/>
<circle cx="314.93" cy="430.50" r="3.95" fill="url(#gN)"/>
<circle cx="322.90" cy="431.00" r="3.95" fill="url(#gN)"/>
<circle cx="330.88" cy="431.60" r="3.95" fill="url(#gN)"/>
<circle cx="338.85" cy="430.00" r="3.95" fill="url(#gN)"/>
<circle cx="346.82" cy="429.00" r="3.95" fill="url(#gN)"/>
<circle cx="354.80" cy="429.10" r="3.95" fill="url(#gN)"/>
<circle cx="362.77" cy="432.00" r="3.95" fill="url(#gN)"/>
<circle cx="370.75" cy="433.00" r="3.95" fill="url(#gN)"/>
<circle cx="378.73" cy="433.50" r="3.95" fill="url(#gN)"/>
<circle cx="386.70" cy="434.00" r="3.95" fill="url(#gN)"/>
<circle cx="394.68" cy="434.00" r="3.95" fill="url(#gN)"/>
<circle cx="402.65" cy="435.00" r="3.95" fill="url(#gN)"/>
<circle cx="410.62" cy="431.60" r="3.95" fill="url(#gN)"/>
<circle cx="418.60" cy="435.80" r="3.95" fill="url(#gN)"/>
<circle cx="426.57" cy="437.00" r="3.95" fill="url(#gN)"/>
<circle cx="434.55" cy="438.50" r="3.95" fill="url(#gN)"/>
</g>
<line x1="37.00" y1="531.00" x2="39.20" y2="531.00" stroke="#000" stroke-width="1.4"/>
<text x="32.90" y="534.00" font-size="8.8" fill="#000" font-weight="bold" font-family='"Liberation Sans", sans-serif' text-anchor="end" textLength="5.00" lengthAdjust="spacingAndGlyphs">0</text>
<line x1="37.00" y1="503.00" x2="39.20" y2="503.00" stroke="#000" stroke-width="1.4"/>
<text x="32.90" y="506.00" font-size="8.8" fill="#000" font-weight="bold" font-family='"Liberation Sans", sans-serif' text-anchor="end" textLength="15.00" lengthAdjust="spacingAndGlyphs">200</text>
<line x1="37.00" y1="475.00" x2="39.20" y2="475.00" stroke="#000" stroke-width="1.4"/>
<text x="32.90" y="478.00" font-size="8.8" fill="#000" font-weight="bold" font-family='"Liberation Sans", sans-serif' text-anchor="end" textLength="15.00" lengthAdjust="spacingAndGlyphs">400</text>
<line x1="37.00" y1="447.00" x2="39.20" y2="447.00" stroke="#000" stroke-width="1.4"/>
<text x="32.90" y="450.00" font-size="8.8" fill="#000" font-weight="bold" font-family='"Liberation Sans", sans-serif' text-anchor="end" textLength="15.00" lengthAdjust="spacingAndGlyphs">600</text>
<line x1="37.00" y1="419.00" x2="39.20" y2="419.00" stroke="#000" stroke-width="1.4"/>
<text x="32.90" y="422.00" font-size="8.8" fill="#000" font-weight="bold" font-family='"Liberation Sans", sans-serif' text-anchor="end" textLength="15.00" lengthAdjust="spacingAndGlyphs">800</text>
<line x1="37.00" y1="517.00" x2="38.30" y2="517.00" stroke="#000" stroke-width="1.2"/>
<line x1="37.00" y1="489.00" x2="38.30" y2="489.00" stroke="#000" stroke-width="1.2"/>
<line x1="37.00" y1="461.00" x2="38.30" y2="461.00" stroke="#000" stroke-width="1.2"/>
<line x1="37.00" y1="433.00" x2="38.30" y2="433.00" stroke="#000" stroke-width="1.2"/>
<line x1="37.00" y1="405.00" x2="38.30" y2="405.00" stroke="#000" stroke-width="1.2"/>
<text x="37.70" y="541.90" font-size="10.5" fill="#000" font-weight="bold" font-family='"Liberation Sans", sans-serif' text-anchor="middle" textLength="5.25" lengthAdjust="spacingAndGlyphs">0</text>
<line x1="114.55" y1="530.60" x2="114.55" y2="528.80" stroke="#000" stroke-width="1.5"/>
<text x="114.55" y="541.90" font-size="10.5" fill="#000" font-weight="bold" font-family='"Liberation Sans", sans-serif' text-anchor="middle" textLength="10.50" lengthAdjust="spacingAndGlyphs">10</text>
<line x1="194.10" y1="530.60" x2="194.10" y2="528.80" stroke="#000" stroke-width="1.5"/>
<text x="194.10" y="541.90" font-size="10.5" fill="#000" font-weight="bold" font-family='"Liberation Sans", sans-serif' text-anchor="middle" textLength="10.50" lengthAdjust="spacingAndGlyphs">20</text>
<line x1="273.65" y1="530.60" x2="273.65" y2="528.80" stroke="#000" stroke-width="1.5"/>
<text x="273.65" y="541.90" font-size="10.5" fill="#000" font-weight="bold" font-family='"Liberation Sans", sans-serif' text-anchor="middle" textLength="10.50" lengthAdjust="spacingAndGlyphs">30</text>
<line x1="353.20" y1="530.60" x2="353.20" y2="528.80" stroke="#000" stroke-width="1.5"/>
<text x="353.20" y="541.90" font-size="10.5" fill="#000" font-weight="bold" font-family='"Liberation Sans", sans-serif' text-anchor="middle" textLength="10.50" lengthAdjust="spacingAndGlyphs">40</text>
<text x="432.75" y="541.90" font-size="10.5" fill="#000" font-weight="bold" font-family='"Liberation Sans", sans-serif' text-anchor="middle" textLength="10.50" lengthAdjust="spacingAndGlyphs">50</text>
<line x1="74.78" y1="530.60" x2="74.78" y2="529.30" stroke="#000" stroke-width="1.2"/>
<line x1="154.32" y1="530.60" x2="154.32" y2="529.30" stroke="#000" stroke-width="1.2"/>
<line x1="233.88" y1="530.60" x2="233.88" y2="529.30" stroke="#000" stroke-width="1.2"/>
<line x1="313.43" y1="530.60" x2="313.43" y2="529.30" stroke="#000" stroke-width="1.2"/>
<line x1="392.98" y1="530.60" x2="392.98" y2="529.30" stroke="#000" stroke-width="1.2"/>
<line x1="433.10" y1="531.00" x2="430.90" y2="531.00" stroke="#00007f" stroke-width="1.4"/>
<text x="437.00" y="534.00" font-size="10.2" fill="#00007f" font-weight="bold" font-family='"Liberation Sans", sans-serif' textLength="5.40" lengthAdjust="spacingAndGlyphs">0</text>
<line x1="433.10" y1="508.84" x2="430.90" y2="508.84" stroke="#00007f" stroke-width="1.4"/>
<text x="437.00" y="511.84" font-size="10.2" fill="#00007f" font-weight="bold" font-family='"Liberation Sans", sans-serif' textLength="5.40" lengthAdjust="spacingAndGlyphs">2</text>
<line x1="433.10" y1="486.68" x2="430.90" y2="486.68" stroke="#00007f" stroke-width="1.4"/>
<text x="437.00" y="489.68" font-size="10.2" fill="#00007f" font-weight="bold" font-family='"Liberation Sans", sans-serif' textLength="5.40" lengthAdjust="spacingAndGlyphs">4</text>
<line x1="433.10" y1="464.52" x2="430.90" y2="464.52" stroke="#00007f" stroke-width="1.4"/>
<text x="437.00" y="467.52" font-size="10.2" fill="#00007f" font-weight="bold" font-family='"Liberation Sans", sans-serif' textLength="5.40" lengthAdjust="spacingAndGlyphs">6</text>
<line x1="433.10" y1="442.36" x2="430.90" y2="442.36" stroke="#00007f" stroke-width="1.4"/>
<text x="437.00" y="445.36" font-size="10.2" fill="#00007f" font-weight="bold" font-family='"Liberation Sans", sans-serif' textLength="5.40" lengthAdjust="spacingAndGlyphs">8</text>
<line x1="433.10" y1="420.20" x2="430.90" y2="420.20" stroke="#00007f" stroke-width="1.4"/>
<text x="437.00" y="423.20" font-size="10.2" fill="#00007f" font-weight="bold" font-family='"Liberation Sans", sans-serif' textLength="11.00" lengthAdjust="spacingAndGlyphs">10</text>
<line x1="433.10" y1="398.04" x2="430.90" y2="398.04" stroke="#00007f" stroke-width="1.4"/>
<text x="437.00" y="401.04" font-size="10.2" fill="#00007f" font-weight="bold" font-family='"Liberation Sans", sans-serif' textLength="11.00" lengthAdjust="spacingAndGlyphs">12</text>
<line x1="433.10" y1="519.92" x2="431.90" y2="519.92" stroke="#00007f" stroke-width="1.2"/>
<line x1="433.10" y1="497.76" x2="431.90" y2="497.76" stroke="#00007f" stroke-width="1.2"/>
<line x1="433.10" y1="475.60" x2="431.90" y2="475.60" stroke="#00007f" stroke-width="1.2"/>
<line x1="433.10" y1="453.44" x2="431.90" y2="453.44" stroke="#00007f" stroke-width="1.2"/>
<line x1="433.10" y1="431.28" x2="431.90" y2="431.28" stroke="#00007f" stroke-width="1.2"/>
<line x1="433.10" y1="409.12" x2="431.90" y2="409.12" stroke="#00007f" stroke-width="1.2"/>
<text x="57.50" y="508.80" font-size="10.5" fill="#000" font-weight="bold" font-family='"Liberation Sans", sans-serif' textLength="100.00" lengthAdjust="spacingAndGlyphs">2.75-4.6 V, 20 mA g</text>
<text x="157.60" y="503.40" font-size="6.5" fill="#000" font-weight="bold" font-family='"Liberation Sans", sans-serif'>-1</text>
<text x="202.60" y="555.70" font-size="9.7" fill="#000" font-weight="bold" font-family='"Liberation Sans", sans-serif' textLength="63.90" lengthAdjust="spacingAndGlyphs">Cycle number</text>
<text x="15.40" y="521.00" font-size="9.6" fill="#000" font-weight="bold" font-family='"Liberation Sans", sans-serif' textLength="96.40" lengthAdjust="spacingAndGlyphs" transform="rotate(-90 15.40 521.00)">Sepcific energy (Wh kg</text>
<text x="8.40" y="424.20" font-size="6.0" fill="#000" font-weight="bold" font-family='"Liberation Sans", sans-serif' transform="rotate(-90 8.40 424.20)">-1</text>
<text x="15.40" y="420.30" font-size="9.6" fill="#000" font-weight="bold" font-family='"Liberation Sans", sans-serif' transform="rotate(-90 15.40 420.30)">)</text>
<text x="456.80" y="491.20" font-size="10.2" fill="#00007f" font-weight="bold" font-family='"Liberation Sans", sans-serif' textLength="57.00" lengthAdjust="spacingAndGlyphs" transform="rotate(-90 456.80 491.20)">Capacity (Ah)</text>
<line x1="70.90" y1="477.70" x2="48.30" y2="477.70" stroke="#000" stroke-width="2.2"/>
<path d="M41.70,477.70 L52.70,474.30 L51.05,477.70 L52.70,481.10 Z" fill="#000"/>
<line x1="397.10" y1="446.50" x2="421.00" y2="446.50" stroke="#00007f" stroke-width="2.7"/>
<path d="M427.00,446.50 L417.00,443.20 L418.50,446.50 L417.00,449.80 Z" fill="#00007f"/>
<path d="M434.2,397.8 L36.2,397.8 L36.2,531.6 L434.2,531.6" fill="none" stroke="#000" stroke-width="2.2"/>
<line x1="434.20" y1="397.00" x2="434.20" y2="532.00" stroke="#00007f" stroke-width="2.2"/>
<text x="557.50" y="387.00" font-size="10.9" fill="#000" font-weight="bold" font-family='"Liberation Sans", sans-serif' textLength="113.50" lengthAdjust="spacingAndGlyphs">Voltage range 2.75-4.6</text>
<text x="507.30" y="412.70" font-size="9.0" fill="#1c1c9a" font-weight="bold" font-family='"Liberation Sans", sans-serif' textLength="131.90" lengthAdjust="spacingAndGlyphs">Lithium||AZ0.3-SNCM pouch cell</text>
<clipPath id="cf"><rect x="499" y="400" width="173" height="129.4"/></clipPath>
<g clip-path="url(#cf)">
<path d="M500.0,468.5 L500.1,468.2 L500.1,467.8 L500.2,467.3 L500.4,466.9 L500.8,466.5 L501.2,466.3 L501.5,466.1 L502.1,465.9 L503.1,465.7 L505.0,465.2 L507.9,464.5 L511.8,463.5 L516.0,462.5 L520.3,461.4 L524.2,460.4 L527.6,459.4 L530.9,458.5 L534.0,457.5 L537.0,456.5 L540.0,455.5 L542.8,454.5 L545.4,453.4 L547.9,452.3 L550.6,451.2 L553.4,450.1 L556.5,449.0 L559.9,448.0 L563.3,446.9 L566.7,445.8 L570.0,444.8 L573.3,443.7 L576.7,442.7 L580.0,441.6 L583.0,440.7 L585.5,439.9 L587.4,439.4 L588.7,439.0 L589.8,438.8 L590.8,438.5 L592.0,438.2 L593.4,437.8 L594.9,437.3 L596.4,436.8 L597.8,436.2 L599.1,435.6 L600.2,434.9 L601.1,434.1 L601.9,433.2 L602.7,432.4 L603.5,431.5 L604.2,430.6 L604.9,429.8 L605.5,428.9 L606.2,427.9 L606.8,427.0 L607.4,426.0 L608.1,424.9 L608.7,423.8 L609.4,422.8 L610.0,422.0 L610.5,421.3 L610.9,420.8 L611.4,420.3 L612.0,420.0 L613.0,419.7 L614.6,419.6 L616.6,419.5 L618.8,419.6 L620.7,419.7 L622.0,419.7" fill="none" stroke="#8b1414" stroke-width="2.1" stroke-linejoin="round" stroke-linecap="round"/>
<path d="M500.0,474.5 L500.1,474.3 L500.2,474.0 L500.3,473.7 L500.6,473.4 L501.0,473.2 L501.6,473.0 L502.2,472.9 L503.0,472.9 L503.9,472.8 L505.0,472.6 L506.1,472.4 L507.3,472.3 L508.6,472.0 L510.3,471.7 L512.5,471.3 L515.3,470.7 L518.5,470.1 L522.1,469.3 L526.0,468.4 L530.0,467.5 L534.3,466.5 L539.0,465.4 L543.9,464.3 L548.7,463.1 L553.4,461.8 L557.9,460.5 L562.2,459.1 L566.6,457.6 L570.8,456.1 L575.0,454.5 L579.3,452.8 L583.6,450.9 L587.9,449.0 L591.7,447.2 L595.0,445.8 L597.5,444.8 L599.4,444.0 L600.9,443.4 L602.3,442.9 L603.9,442.4 L605.6,441.9 L607.3,441.5 L608.9,441.2 L610.5,440.9 L612.0,440.5 L613.4,440.2 L614.8,439.8 L616.1,439.5 L617.3,439.1 L618.4,438.6 L619.3,438.0 L620.0,437.3 L620.7,436.6 L621.3,435.7 L622.0,434.8 L622.7,433.7 L623.4,432.5 L624.1,431.2 L624.8,429.9 L625.5,428.6 L626.3,427.3 L627.1,426.0 L627.9,424.8 L628.7,423.6 L629.5,422.6 L630.3,421.8 L631.0,421.1 L631.8,420.5 L632.7,420.0 L633.6,419.7 L634.8,419.5 L636.1,419.5 L637.5,419.6 L638.7,419.7 L639.5,419.7" fill="none" stroke="#159015" stroke-width="2.1" stroke-linejoin="round" stroke-linecap="round"/>
<path d="M499.6,478.2 L499.7,477.9 L499.8,477.5 L499.9,477.0 L500.2,476.6 L500.6,476.2 L501.1,475.9 L501.7,475.7 L502.4,475.5 L503.4,475.3 L504.6,475.0 L506.1,474.7 L507.9,474.4 L510.0,474.1 L512.2,473.7 L514.6,473.2 L517.2,472.6 L520.0,471.9 L523.0,471.2 L526.2,470.3 L529.6,469.5 L533.3,468.6 L537.2,467.7 L541.4,466.7 L545.5,465.7 L549.6,464.7 L553.5,463.8 L557.4,462.9 L561.2,462.0 L565.3,461.1 L569.6,459.9 L574.4,458.5 L579.7,456.8 L585.1,455.0 L590.2,453.4 L594.6,452.0 L598.3,450.9 L601.4,450.0 L604.2,449.2 L606.8,448.5 L609.6,447.7 L612.5,446.8 L615.5,445.9 L618.4,445.1 L621.1,444.2 L623.6,443.5 L625.8,442.9 L627.7,442.3 L629.4,441.8 L631.0,441.4 L632.4,440.9 L633.6,440.5 L634.6,440.1 L635.4,439.8 L636.3,439.3 L637.1,438.7 L638.0,437.8 L638.8,436.8 L639.7,435.6 L640.5,434.4 L641.4,433.2 L642.3,431.9 L643.3,430.6 L644.3,429.2 L645.2,427.9 L646.1,426.7 L647.0,425.6 L647.8,424.5 L648.6,423.6 L649.3,422.7 L650.1,421.9 L650.8,421.2 L651.6,420.6 L652.3,420.1 L653.0,419.7 L653.6,419.4 L654.2,419.2 L654.8,419.2 L655.3,419.3 L655.8,419.4 L656.1,419.4" fill="none" stroke="#ff2fa0" stroke-width="2.1" stroke-linejoin="round" stroke-linecap="round"/>
<path d="M500.0,478.5 L500.1,478.2 L500.2,477.8 L500.3,477.3 L500.6,476.9 L501.0,476.5 L501.5,476.2 L502.1,476.0 L502.8,475.8 L503.8,475.6 L505.0,475.3 L506.5,475.0 L508.3,474.7 L510.4,474.4 L512.6,474.0 L515.0,473.5 L517.6,472.9 L520.4,472.2 L523.4,471.5 L526.6,470.6 L530.0,469.8 L533.7,468.9 L537.6,468.0 L541.8,467.0 L545.9,466.0 L550.0,465.0 L553.9,464.1 L557.8,463.2 L561.6,462.3 L565.7,461.4 L570.0,460.2 L574.8,458.8 L580.1,457.1 L585.5,455.3 L590.6,453.7 L595.0,452.3 L598.7,451.2 L601.8,450.3 L604.6,449.5 L607.2,448.8 L610.0,448.0 L612.9,447.1 L615.9,446.2 L618.8,445.4 L621.5,444.5 L624.0,443.8 L626.2,443.2 L628.1,442.6 L629.8,442.1 L631.4,441.7 L632.8,441.2 L634.0,440.8 L635.0,440.4 L635.8,440.1 L636.7,439.6 L637.5,439.0 L638.4,438.1 L639.2,437.1 L640.1,435.9 L640.9,434.7 L641.8,433.5 L642.7,432.2 L643.7,430.9 L644.7,429.5 L645.6,428.2 L646.5,427.0 L647.4,425.9 L648.2,424.8 L649.0,423.9 L649.7,423.0 L650.5,422.2 L651.2,421.5 L652.0,420.9 L652.7,420.4 L653.4,420.0 L654.0,419.7 L654.6,419.5 L655.2,419.5 L655.7,419.6 L656.2,419.7 L656.5,419.7" fill="none" stroke="#ff8c10" stroke-width="2.1" stroke-linejoin="round" stroke-linecap="round"/>
<path d="M500.0,475.8 L500.1,475.6 L500.2,475.3 L500.3,475.0 L500.6,474.7 L501.0,474.5 L501.5,474.3 L502.1,474.2 L502.8,474.1 L503.8,474.0 L505.0,473.8 L506.5,473.5 L508.3,473.2 L510.4,472.9 L512.6,472.5 L515.0,472.0 L517.6,471.4 L520.4,470.8 L523.4,470.1 L526.6,469.3 L530.0,468.5 L533.7,467.6 L537.6,466.7 L541.8,465.7 L545.9,464.8 L550.0,463.8 L553.9,462.9 L557.8,462.0 L561.6,461.2 L565.7,460.2 L570.0,459.0 L574.8,457.5 L580.1,455.8 L585.5,454.0 L590.6,452.3 L595.0,450.9 L598.7,449.8 L602.0,448.8 L604.8,448.0 L607.5,447.3 L610.0,446.5 L612.4,445.7 L614.5,445.0 L616.4,444.4 L618.2,443.8 L620.0,443.2 L621.8,442.7 L623.5,442.3 L625.1,441.9 L626.6,441.6 L628.0,441.2 L629.3,440.9 L630.4,440.6 L631.5,440.3 L632.5,439.8 L633.5,439.2 L634.4,438.3 L635.3,437.2 L636.2,436.0 L637.0,434.8 L637.8,433.5 L638.6,432.2 L639.4,430.9 L640.2,429.5 L641.0,428.2 L641.8,427.0 L642.6,425.9 L643.4,424.8 L644.3,423.9 L645.1,423.0 L645.8,422.2 L646.5,421.5 L647.2,420.9 L647.8,420.4 L648.4,420.0 L649.0,419.7 L649.6,419.5 L650.2,419.5 L650.7,419.6 L651.2,419.7 L651.5,419.7" fill="none" stroke="#1a1aa6" stroke-width="2.1" stroke-linejoin="round" stroke-linecap="round"/>
<path d="M499.3,425.0 L499.7,426.0 L500.2,427.3 L500.7,428.9 L501.4,430.5 L502.0,432.0 L502.6,433.4 L503.2,434.7 L503.8,436.0 L504.5,437.3 L505.3,438.5 L506.2,439.6 L507.2,440.7 L508.3,441.7 L509.4,442.6 L510.4,443.4 L511.3,444.0 L512.3,444.4 L513.2,444.7 L514.1,445.0 L515.0,445.3 L515.9,445.6 L516.8,445.7 L517.8,445.9 L518.8,446.1 L519.9,446.5 L521.1,446.9 L522.4,447.4 L523.9,448.0 L525.4,448.7 L527.2,449.6 L529.3,450.7 L531.6,452.0 L534.1,453.4 L536.5,454.8 L538.8,456.0 L540.9,457.1 L542.9,458.1 L544.9,459.1 L546.9,460.1 L549.0,461.0 L551.2,461.9 L553.4,462.8 L555.8,463.7 L558.2,464.6 L560.7,465.5 L563.4,466.5 L566.3,467.5 L569.2,468.5 L572.2,469.5 L575.0,470.5 L577.8,471.4 L580.6,472.4 L583.3,473.3 L585.8,474.1 L588.0,474.8 L589.9,475.3 L591.5,475.6 L593.0,475.9 L594.3,476.2 L595.5,476.6 L596.6,477.1 L597.6,477.6 L598.4,478.2 L599.2,478.8 L600.0,479.5 L600.8,480.3 L601.6,481.2 L602.4,482.1 L603.1,483.0 L603.7,483.8 L604.3,484.7 L604.8,485.7 L605.3,486.7 L605.7,487.3 L606.1,487.3 L606.5,486.4 L606.8,484.8 L607.1,482.9 L607.5,481.4 L607.8,480.7 L608.1,481.1 L608.5,482.1 L608.8,483.5 L609.3,485.1 L609.8,486.5 L610.5,487.7 L611.3,489.0 L612.2,490.3 L613.1,491.7 L613.9,493.0 L614.6,494.4 L615.3,495.7 L615.9,497.1 L616.5,498.6 L617.0,500.0 L617.5,501.4 L617.9,502.8 L618.3,504.2 L618.8,505.7 L619.2,507.4 L619.7,509.4 L620.3,511.8 L620.9,514.1 L621.4,516.2 L621.7,517.6" fill="none" stroke="#8b1414" stroke-width="2.1" stroke-linejoin="round" stroke-linecap="round"/>
<path d="M499.3,421.8 L499.7,422.6 L500.2,423.8 L500.7,425.2 L501.4,426.7 L502.0,428.0 L502.6,429.3 L503.3,430.5 L503.9,431.8 L504.6,433.0 L505.3,434.1 L506.0,435.1 L506.8,436.1 L507.5,437.0 L508.3,437.8 L509.0,438.5 L509.7,439.1 L510.3,439.6 L510.9,439.9 L511.6,440.3 L512.6,440.7 L513.9,441.1 L515.4,441.5 L517.0,441.9 L518.6,442.3 L519.9,442.6 L520.9,442.8 L521.7,443.0 L522.5,443.1 L523.2,443.3 L524.2,443.5 L525.4,443.8 L526.7,444.2 L528.2,444.6 L529.5,445.1 L530.8,445.6 L531.9,446.1 L532.7,446.6 L533.6,447.2 L534.7,447.8 L536.0,448.6 L537.7,449.5 L539.6,450.5 L541.7,451.6 L543.9,452.7 L546.1,453.8 L548.4,454.9 L550.8,456.0 L553.3,457.0 L555.7,458.1 L558.0,459.0 L560.1,459.8 L561.9,460.5 L563.8,461.2 L565.8,461.9 L568.0,462.6 L570.6,463.4 L573.4,464.2 L576.3,465.0 L579.2,465.7 L582.0,466.5 L584.6,467.2 L587.1,467.8 L589.6,468.5 L592.2,469.1 L595.0,469.9 L598.2,470.8 L601.7,471.7 L605.2,472.7 L608.7,473.7 L611.9,474.6 L614.9,475.5 L617.9,476.3 L620.6,477.1 L623.1,477.9 L625.2,478.7 L626.8,479.5 L628.0,480.2 L628.9,480.9 L629.6,481.8 L630.3,482.8 L631.0,484.0 L631.5,485.3 L631.9,486.8 L632.3,488.3 L632.6,490.0 L632.9,491.7 L633.1,493.4 L633.3,495.3 L633.6,497.5 L633.8,500.0 L634.1,503.3 L634.5,507.3 L634.9,511.5 L635.2,515.1 L635.4,517.6" fill="none" stroke="#159015" stroke-width="2.1" stroke-linejoin="round" stroke-linecap="round"/>
<path d="M499.2,420.2 L499.6,420.5 L500.1,421.0 L500.6,421.6 L501.3,422.2 L501.9,423.0 L502.5,423.9 L503.2,424.9 L503.8,426.1 L504.5,427.2 L505.2,428.4 L505.9,429.6 L506.7,431.0 L507.4,432.3 L508.2,433.6 L508.9,434.7 L509.6,435.7 L510.4,436.5 L511.1,437.3 L511.8,438.0 L512.5,438.7 L513.2,439.3 L513.9,439.9 L514.5,440.4 L515.2,440.8 L515.9,441.2 L516.6,441.5 L517.4,441.8 L518.1,441.9 L518.9,442.1 L519.8,442.3 L520.7,442.5 L521.7,442.6 L522.8,442.8 L523.8,442.9 L524.9,443.1 L526.0,443.3 L527.2,443.4 L528.4,443.6 L529.6,443.8 L530.7,444.0 L531.8,444.2 L532.8,444.5 L533.8,444.8 L534.8,445.1 L535.9,445.4 L536.9,445.7 L537.9,446.1 L538.9,446.5 L540.2,447.0 L541.7,447.6 L543.6,448.4 L545.9,449.5 L548.4,450.6 L550.9,451.7 L553.3,452.7 L555.6,453.7 L558.0,454.6 L560.4,455.5 L562.7,456.4 L564.9,457.2 L566.9,457.9 L568.7,458.6 L570.5,459.2 L572.6,459.8 L575.2,460.6 L578.5,461.5 L582.3,462.6 L586.5,463.7 L590.7,464.7 L594.9,465.7 L599.1,466.6 L603.5,467.4 L607.9,468.2 L612.1,469.0 L615.9,469.7 L619.1,470.4 L622.0,471.0 L624.6,471.5 L627.2,472.1 L629.9,472.8 L632.9,473.6 L636.1,474.4 L639.3,475.2 L642.2,476.1 L644.5,476.8 L646.2,477.4 L647.4,477.9 L648.3,478.4 L649.1,479.0 L649.8,479.7 L650.5,480.5 L651.0,481.4 L651.4,482.4 L651.8,483.6 L652.2,485.0 L652.6,486.5 L652.9,488.1 L653.2,489.9 L653.5,492.1 L653.8,495.0 L654.2,499.1 L654.6,504.2 L654.9,509.6 L655.3,514.3 L655.5,517.6" fill="none" stroke="#1a1aa6" stroke-width="2.1" stroke-linejoin="round" stroke-linecap="round"/>
<path d="M499.1,420.3 L499.5,420.6 L500.0,421.1 L500.5,421.7 L501.2,422.3 L501.8,423.1 L502.4,424.0 L503.1,425.0 L503.7,426.2 L504.4,427.3 L505.1,428.5 L505.8,429.7 L506.6,431.1 L507.3,432.4 L508.1,433.7 L508.8,434.8 L509.5,435.8 L510.3,436.6 L511.0,437.4 L511.7,438.1 L512.4,438.8 L513.1,439.4 L513.8,440.0 L514.4,440.5 L515.1,440.9 L515.8,441.3 L516.5,441.6 L517.3,441.9 L518.0,442.0 L518.8,442.2 L519.7,442.4 L520.6,442.6 L521.6,442.7 L522.7,442.9 L523.7,443.0 L524.8,443.2 L525.9,443.4 L527.1,443.5 L528.3,443.7 L529.5,443.9 L530.6,444.1 L531.7,444.3 L532.7,444.6 L533.7,444.9 L534.7,445.2 L535.8,445.5 L536.8,445.8 L537.8,446.2 L538.8,446.6 L540.1,447.1 L541.6,447.7 L543.5,448.5 L545.8,449.6 L548.3,450.7 L550.8,451.8 L553.2,452.8 L555.5,453.8 L557.9,454.7 L560.3,455.6 L562.6,456.5 L564.8,457.3 L566.8,458.0 L568.6,458.7 L570.4,459.3 L572.5,459.9 L575.1,460.7 L578.4,461.6 L582.2,462.7 L586.4,463.8 L590.6,464.8 L594.8,465.8 L599.0,466.7 L603.4,467.5 L607.8,468.3 L612.0,469.1 L615.8,469.8 L619.0,470.5 L621.9,471.1 L624.5,471.6 L627.1,472.2 L629.8,472.9 L632.8,473.7 L636.1,474.5 L639.2,475.3 L642.1,476.2 L644.4,476.9 L646.1,477.5 L647.3,478.0 L648.1,478.5 L648.8,479.0 L649.5,479.7 L650.2,480.5 L650.7,481.4 L651.1,482.4 L651.5,483.6 L651.9,485.0 L652.3,486.5 L652.6,488.1 L652.9,489.9 L653.2,492.1 L653.5,495.0 L653.9,499.1 L654.3,504.2 L654.6,509.6 L655.0,514.3 L655.2,517.6" fill="none" stroke="#ff2fa0" stroke-width="2.1" stroke-linejoin="round" stroke-linecap="round"/>
<path d="M499.3,420.0 L499.7,420.3 L500.2,420.8 L500.7,421.4 L501.4,422.0 L502.0,422.8 L502.6,423.7 L503.3,424.7 L503.9,425.9 L504.6,427.0 L505.3,428.2 L506.0,429.4 L506.8,430.8 L507.5,432.1 L508.3,433.4 L509.0,434.5 L509.7,435.5 L510.5,436.3 L511.2,437.1 L511.9,437.8 L512.6,438.5 L513.3,439.1 L514.0,439.7 L514.6,440.2 L515.3,440.6 L516.0,441.0 L516.7,441.3 L517.5,441.6 L518.2,441.7 L519.0,441.9 L519.9,442.1 L520.8,442.3 L521.8,442.4 L522.9,442.6 L523.9,442.7 L525.0,442.9 L526.1,443.1 L527.3,443.2 L528.5,443.4 L529.7,443.6 L530.8,443.8 L531.9,444.0 L532.9,444.3 L533.9,444.6 L534.9,444.9 L536.0,445.2 L537.0,445.5 L538.0,445.9 L539.0,446.3 L540.3,446.8 L541.8,447.4 L543.7,448.2 L546.0,449.3 L548.5,450.4 L551.0,451.5 L553.4,452.5 L555.7,453.5 L558.1,454.4 L560.5,455.3 L562.8,456.2 L565.0,457.0 L567.0,457.7 L568.8,458.4 L570.6,459.0 L572.7,459.6 L575.3,460.4 L578.6,461.3 L582.4,462.4 L586.6,463.5 L590.8,464.5 L595.0,465.5 L599.2,466.4 L603.6,467.2 L608.0,468.0 L612.2,468.8 L616.0,469.5 L619.2,470.2 L622.1,470.8 L624.7,471.3 L627.3,471.9 L630.0,472.6 L633.0,473.4 L636.2,474.2 L639.3,475.0 L642.2,475.8 L644.6,476.6 L646.4,477.2 L647.9,477.8 L649.0,478.3 L649.9,479.0 L650.8,479.7 L651.5,480.5 L652.1,481.4 L652.5,482.4 L652.8,483.6 L653.2,485.0 L653.6,486.5 L653.9,488.1 L654.2,489.9 L654.5,492.1 L654.8,495.0 L655.2,499.1 L655.6,504.2 L655.9,509.6 L656.3,514.3 L656.5,517.6" fill="none" stroke="#ff8c10" stroke-width="2.1" stroke-linejoin="round" stroke-linecap="round"/>
</g>
<line x1="500.60" y1="514.70" x2="502.80" y2="514.70" stroke="#000" stroke-width="1.4"/>
<text x="496.50" y="518.00" font-size="9.2" fill="#000" font-weight="bold" font-family='"Liberation Sans", sans-serif' text-anchor="end" textLength="13.50" lengthAdjust="spacingAndGlyphs">2.8</text>
<line x1="500.60" y1="493.60" x2="502.80" y2="493.60" stroke="#000" stroke-width="1.4"/>
<text x="496.50" y="496.90" font-size="9.2" fill="#000" font-weight="bold" font-family='"Liberation Sans", sans-serif' text-anchor="end" textLength="13.50" lengthAdjust="spacingAndGlyphs">3.2</text>
<line x1="500.60" y1="472.50" x2="502.80" y2="472.50" stroke="#000" stroke-width="1.4"/>
<text x="496.50" y="475.80" font-size="9.2" fill="#000" font-weight="bold" font-family='"Liberation Sans", sans-serif' text-anchor="end" textLength="13.50" lengthAdjust="spacingAndGlyphs">3.6</text>
<line x1="500.60" y1="451.40" x2="502.80" y2="451.40" stroke="#000" stroke-width="1.4"/>
<text x="496.50" y="454.70" font-size="9.2" fill="#000" font-weight="bold" font-family='"Liberation Sans", sans-serif' text-anchor="end" textLength="13.50" lengthAdjust="spacingAndGlyphs">4.0</text>
<line x1="500.60" y1="430.30" x2="502.80" y2="430.30" stroke="#000" stroke-width="1.4"/>
<text x="496.50" y="433.60" font-size="9.2" fill="#000" font-weight="bold" font-family='"Liberation Sans", sans-serif' text-anchor="end" textLength="13.50" lengthAdjust="spacingAndGlyphs">4.4</text>
<line x1="500.60" y1="409.20" x2="502.80" y2="409.20" stroke="#000" stroke-width="1.4"/>
<text x="496.50" y="412.50" font-size="9.2" fill="#000" font-weight="bold" font-family='"Liberation Sans", sans-serif' text-anchor="end" textLength="13.50" lengthAdjust="spacingAndGlyphs">4.8</text>
<line x1="500.60" y1="525.25" x2="501.90" y2="525.25" stroke="#000" stroke-width="1.2"/>
<line x1="500.60" y1="504.15" x2="501.90" y2="504.15" stroke="#000" stroke-width="1.2"/>
<line x1="500.60" y1="483.05" x2="501.90" y2="483.05" stroke="#000" stroke-width="1.2"/>
<line x1="500.60" y1="461.95" x2="501.90" y2="461.95" stroke="#000" stroke-width="1.2"/>
<line x1="500.60" y1="440.85" x2="501.90" y2="440.85" stroke="#000" stroke-width="1.2"/>
<line x1="500.60" y1="419.75" x2="501.90" y2="419.75" stroke="#000" stroke-width="1.2"/>
<text x="499.10" y="541.00" font-size="9.5" fill="#000" font-weight="bold" font-family='"Liberation Sans", sans-serif' text-anchor="middle">0</text>
<line x1="534.50" y1="529.80" x2="534.50" y2="528.00" stroke="#000" stroke-width="1.5"/>
<text x="534.50" y="541.00" font-size="9.5" fill="#000" font-weight="bold" font-family='"Liberation Sans", sans-serif' text-anchor="middle">50</text>
<line x1="569.30" y1="529.80" x2="569.30" y2="528.00" stroke="#000" stroke-width="1.5"/>
<text x="569.30" y="541.00" font-size="9.5" fill="#000" font-weight="bold" font-family='"Liberation Sans", sans-serif' text-anchor="middle">100</text>
<line x1="604.10" y1="529.80" x2="604.10" y2="528.00" stroke="#000" stroke-width="1.5"/>
<text x="604.10" y="541.00" font-size="9.5" fill="#000" font-weight="bold" font-family='"Liberation Sans", sans-serif' text-anchor="middle">150</text>
<line x1="638.90" y1="529.80" x2="638.90" y2="528.00" stroke="#000" stroke-width="1.5"/>
<text x="638.90" y="541.00" font-size="9.5" fill="#000" font-weight="bold" font-family='"Liberation Sans", sans-serif' text-anchor="middle">200</text>
<text x="673.70" y="541.00" font-size="9.5" fill="#000" font-weight="bold" font-family='"Liberation Sans", sans-serif' text-anchor="middle">250</text>
<line x1="517.10" y1="529.80" x2="517.10" y2="528.50" stroke="#000" stroke-width="1.2"/>
<line x1="551.90" y1="529.80" x2="551.90" y2="528.50" stroke="#000" stroke-width="1.2"/>
<line x1="586.70" y1="529.80" x2="586.70" y2="528.50" stroke="#000" stroke-width="1.2"/>
<line x1="621.50" y1="529.80" x2="621.50" y2="528.50" stroke="#000" stroke-width="1.2"/>
<line x1="656.30" y1="529.80" x2="656.30" y2="528.50" stroke="#000" stroke-width="1.2"/>
<text x="479.50" y="485.60" font-size="9.6" fill="#000" font-weight="bold" font-family='"Liberation Sans", sans-serif' textLength="46.60" lengthAdjust="spacingAndGlyphs" transform="rotate(-90 479.50 485.60)">Voltage (V)</text>
<text x="531.50" y="557.50" font-size="9.8" fill="#000" font-weight="bold" font-family='"Liberation Sans", sans-serif' textLength="99.00" lengthAdjust="spacingAndGlyphs">Specific capacity (mAh g</text>
<text x="631.50" y="551.80" font-size="6.0" fill="#000" font-weight="bold" font-family='"Liberation Sans", sans-serif'>-1</text>
<text x="637.00" y="557.50" font-size="9.8" fill="#000" font-weight="bold" font-family='"Liberation Sans", sans-serif'>)</text>
<line x1="513.00" y1="486.30" x2="534.20" y2="486.30" stroke="#1a1aa6" stroke-width="2.0"/>
<text x="536.80" y="489.10" font-size="9.6" fill="#000" font-weight="bold" font-family='"Liberation Sans", sans-serif' textLength="12.00" lengthAdjust="spacingAndGlyphs">1st</text>
<line x1="513.00" y1="499.40" x2="534.20" y2="499.40" stroke="#ff2fa0" stroke-width="2.0"/>
<text x="536.80" y="502.20" font-size="9.6" fill="#000" font-weight="bold" font-family='"Liberation Sans", sans-serif' textLength="14.50" lengthAdjust="spacingAndGlyphs">5th</text>
<line x1="513.00" y1="513.90" x2="534.20" y2="513.90" stroke="#ff8c10" stroke-width="2.0"/>
<text x="536.80" y="516.70" font-size="9.6" fill="#000" font-weight="bold" font-family='"Liberation Sans", sans-serif' textLength="18.60" lengthAdjust="spacingAndGlyphs">10th</text>
<line x1="558.30" y1="492.60" x2="579.50" y2="492.60" stroke="#159015" stroke-width="2.0"/>
<text x="583.80" y="495.50" font-size="9.6" fill="#000" font-weight="bold" font-family='"Liberation Sans", sans-serif' textLength="18.30" lengthAdjust="spacingAndGlyphs">30th</text>
<line x1="558.30" y1="509.10" x2="579.50" y2="509.10" stroke="#8b1414" stroke-width="2.0"/>
<text x="583.80" y="511.90" font-size="9.6" fill="#000" font-weight="bold" font-family='"Liberation Sans", sans-serif' textLength="18.30" lengthAdjust="spacingAndGlyphs">50th</text>
<rect x="499.70" y="399.10" width="173.40" height="131.70" fill="none" stroke="#000" stroke-width="2.1"/>
</svg>
</body></html>
